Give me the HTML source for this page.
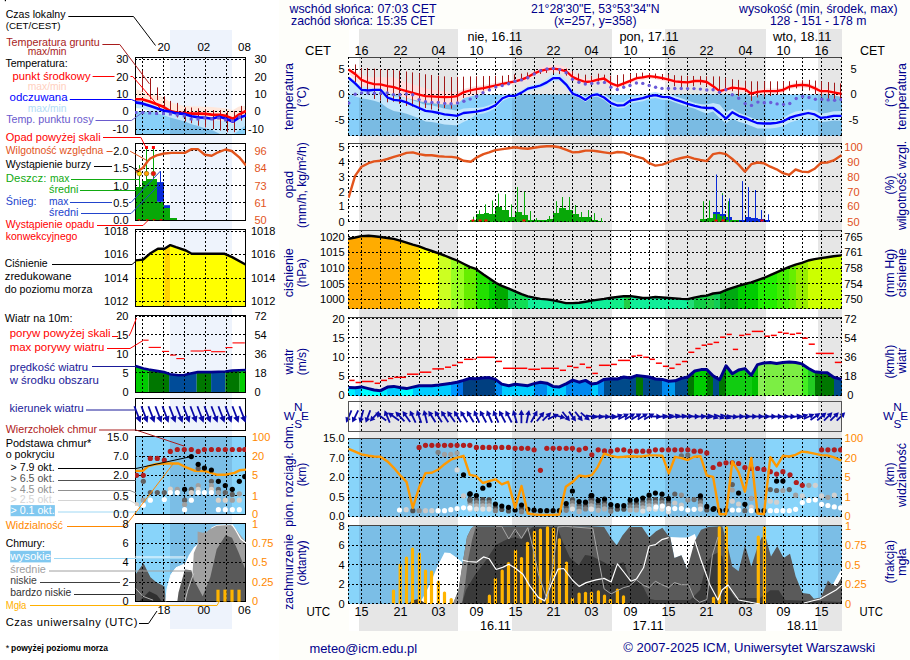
<!DOCTYPE html>
<html><head><meta charset="utf-8"><style>
html,body{margin:0;padding:0;background:#fefefa;}
svg{display:block;}
text{font-family:"Liberation Sans", sans-serif;}
</style></head><body>
<svg width="910" height="660" viewBox="0 0 910 660" shape-rendering="auto">
<rect x="0" y="0" width="279" height="660" fill="#ffffff"/>
<rect x="4.8" y="0" width="1.2" height="1.2" fill="#000"/>
<rect x="349" y="29" width="493" height="602" fill="#ffffff"/>
<rect x="359" y="29" width="99" height="602" fill="#e6e6e6"/>
<rect x="512" y="29" width="100" height="602" fill="#e6e6e6"/>
<rect x="665" y="29" width="101" height="602" fill="#e6e6e6"/>
<rect x="818" y="29" width="24" height="602" fill="#e6e6e6"/>
<rect x="170" y="30" width="62" height="599" fill="#eef3fc"/>
<rect x="348" y="57" width="494" height="79" fill="#ffffff"/>
<rect x="359" y="57" width="99" height="79" fill="#e6e6e6"/>
<rect x="512" y="57" width="100" height="79" fill="#e6e6e6"/>
<rect x="665" y="57" width="101" height="79" fill="#e6e6e6"/>
<rect x="818" y="57" width="24" height="79" fill="#e6e6e6"/>
<rect x="348" y="143" width="494" height="79" fill="#ffffff"/>
<rect x="359" y="143" width="99" height="79" fill="#e6e6e6"/>
<rect x="512" y="143" width="100" height="79" fill="#e6e6e6"/>
<rect x="665" y="143" width="101" height="79" fill="#e6e6e6"/>
<rect x="818" y="143" width="24" height="79" fill="#e6e6e6"/>
<rect x="348" y="230" width="494" height="79" fill="#ffffff"/>
<rect x="359" y="230" width="99" height="79" fill="#e6e6e6"/>
<rect x="512" y="230" width="100" height="79" fill="#e6e6e6"/>
<rect x="665" y="230" width="101" height="79" fill="#e6e6e6"/>
<rect x="818" y="230" width="24" height="79" fill="#e6e6e6"/>
<rect x="348" y="317" width="494" height="79" fill="#ffffff"/>
<rect x="359" y="317" width="99" height="79" fill="#e6e6e6"/>
<rect x="512" y="317" width="100" height="79" fill="#e6e6e6"/>
<rect x="665" y="317" width="101" height="79" fill="#e6e6e6"/>
<rect x="818" y="317" width="24" height="79" fill="#e6e6e6"/>
<rect x="348" y="401" width="494" height="31" fill="#ffffff"/>
<rect x="359" y="401" width="99" height="31" fill="#e6e6e6"/>
<rect x="512" y="401" width="100" height="31" fill="#e6e6e6"/>
<rect x="665" y="401" width="101" height="31" fill="#e6e6e6"/>
<rect x="818" y="401" width="24" height="31" fill="#e6e6e6"/>
<rect x="348" y="438" width="494" height="79" fill="#ffffff"/>
<rect x="359" y="438" width="99" height="79" fill="#e6e6e6"/>
<rect x="512" y="438" width="100" height="79" fill="#e6e6e6"/>
<rect x="665" y="438" width="101" height="79" fill="#e6e6e6"/>
<rect x="818" y="438" width="24" height="79" fill="#e6e6e6"/>
<rect x="348" y="525" width="494" height="79" fill="#ffffff"/>
<rect x="359" y="525" width="99" height="79" fill="#e6e6e6"/>
<rect x="512" y="525" width="100" height="79" fill="#e6e6e6"/>
<rect x="665" y="525" width="101" height="79" fill="#e6e6e6"/>
<rect x="818" y="525" width="24" height="79" fill="#e6e6e6"/>
<rect x="135" y="57" width="111" height="78" fill="#ffffff"/>
<rect x="170" y="57" width="62" height="78" fill="#eef3fc"/>
<rect x="135" y="143" width="111" height="78" fill="#ffffff"/>
<rect x="170" y="143" width="62" height="78" fill="#eef3fc"/>
<rect x="135" y="229" width="111" height="78" fill="#ffffff"/>
<rect x="170" y="229" width="62" height="78" fill="#eef3fc"/>
<rect x="135" y="315" width="111" height="78" fill="#ffffff"/>
<rect x="170" y="315" width="62" height="78" fill="#eef3fc"/>
<rect x="135" y="398" width="111" height="33" fill="#ffffff"/>
<rect x="170" y="398" width="62" height="33" fill="#eef3fc"/>
<rect x="135" y="436" width="111" height="79" fill="#ffffff"/>
<rect x="170" y="436" width="62" height="79" fill="#eef3fc"/>
<rect x="135" y="523" width="111" height="79" fill="#ffffff"/>
<rect x="170" y="523" width="62" height="79" fill="#eef3fc"/>
<clipPath id="cT"><rect x="348" y="58" width="494" height="78"/></clipPath>
<g clip-path="url(#cT)">
<rect x="348" y="94.5" width="494" height="41.5" fill="#87cffa"/>
<rect x="359" y="94.5" width="99" height="41.5" fill="#7abbe3"/>
<rect x="512" y="94.5" width="100" height="41.5" fill="#7abbe3"/>
<rect x="665" y="94.5" width="101" height="41.5" fill="#7abbe3"/>
<rect x="818" y="94.5" width="24" height="41.5" fill="#7abbe3"/>
<polygon points="348.6,75.7 355.1,80.6 361.5,87.0 368.5,87.5 374.1,87.2 380.5,87.6 387.5,94.0 393.8,96.2 400.9,96.8 406.5,98.0 412.8,100.2 419.1,102.4 425.5,104.9 431.8,105.2 438.8,107.0 444.5,108.7 451.5,109.8 457.1,110.8 463.5,108.5 469.8,108.1 476.4,108.1 483.5,107.0 489.1,105.3 495.4,102.6 502.5,96.1 508.8,93.5 515.1,93.3 521.5,90.0 527.8,85.9 534.1,84.5 540.4,82.7 546.8,78.7 553.1,73.6 559.4,73.5 566.5,79.9 572.8,89.8 579.1,92.8 585.5,97.2 591.8,93.3 597.0,91.8 604.1,94.5 611.1,99.6 617.4,102.2 623.8,102.0 630.8,97.3 636.4,96.2 642.8,95.1 649.1,92.9 655.4,91.9 662.4,93.5 668.8,93.7 675.1,96.2 681.4,98.2 687.8,100.6 694.8,103.1 701.1,104.3 706.8,104.5 713.1,103.1 719.6,104.5 726.0,112.3 732.3,108.8 738.6,112.7 744.9,115.1 751.3,117.7 757.6,120.0 763.9,120.5 770.3,120.8 776.6,120.3 782.9,118.3 789.3,114.3 795.6,111.6 801.9,110.5 808.2,109.5 814.6,110.5 820.9,113.7 827.2,112.8 833.6,111.2 841.5,110.9 841.5,120.7 833.6,120.4 827.2,121.6 820.9,122.1 814.6,118.9 808.2,117.9 801.9,119.3 795.6,120.7 789.3,122.8 782.9,126.3 776.6,127.7 770.3,128.5 763.9,128.6 757.6,128.4 751.3,126.1 744.9,123.5 738.6,121.8 732.3,118.6 726.0,123.5 719.6,117.9 713.1,111.6 706.8,113.7 701.1,111.6 694.8,108.8 687.8,106.8 681.4,104.7 675.1,102.6 668.8,100.1 662.4,99.8 655.4,98.1 649.1,99.1 642.8,101.2 636.4,102.3 630.8,103.3 623.8,108.1 617.4,108.2 611.1,105.7 604.1,99.9 597.0,96.5 591.8,97.5 585.5,101.9 579.1,97.9 572.8,95.4 566.5,87.6 559.4,81.2 553.1,81.3 546.8,85.5 540.4,88.5 534.1,89.9 527.8,91.0 521.5,94.6 515.1,97.5 508.8,98.0 502.5,101.0 495.4,108.3 489.1,111.6 483.5,113.4 476.4,114.6 469.8,119.3 463.5,122.1 457.1,125.6 451.5,125.1 444.5,124.5 438.8,123.3 431.8,122.1 425.5,121.4 419.1,118.6 412.8,116.1 406.5,113.7 400.9,112.3 393.8,110.9 387.5,108.0 380.5,102.8 374.1,100.7 368.5,99.5 361.5,98.2 355.1,96.4 348.6,92.8" fill="#c4e6fb"/>
<polygon points="348.6,68.4 355.1,71.5 361.5,74.9 368.5,76.9 374.1,77.6 380.5,77.1 387.5,77.5 393.8,77.2 400.9,80.1 406.5,82.2 412.8,84.2 419.1,86.2 425.5,88.6 431.8,89.8 438.8,90.8 444.5,91.5 451.5,91.8 457.1,91.9 463.5,89.1 469.8,87.4 474.0,86.6 476.4,86.1 483.5,85.2 489.1,84.1 495.4,82.9 502.5,81.5 508.8,80.4 515.1,79.2 521.5,77.3 527.8,74.6 534.1,71.0 540.4,68.0 546.8,66.1 553.1,64.9 559.4,65.1 566.5,67.3 572.8,72.9 579.1,76.3 585.5,78.9 591.8,78.8 597.7,77.4 604.1,76.6 611.1,81.9 617.4,84.3 623.8,81.9 630.8,79.1 636.4,76.7 642.8,75.9 649.1,74.6 655.4,75.3 662.4,76.7 668.8,78.1 675.1,79.8 681.4,80.5 687.8,80.9 694.8,79.5 701.1,79.5 706.8,80.5 713.1,84.7 719.6,88.9 726.0,86.5 732.3,84.6 738.6,85.4 744.9,86.1 751.3,90.7 757.6,89.0 763.9,88.4 770.3,88.5 776.6,88.5 782.9,87.4 789.3,84.2 795.6,83.0 801.9,82.3 808.2,83.0 814.6,85.6 820.9,88.7 827.2,88.7 833.6,89.8 841.5,91.4 841.5,96.9 833.6,95.2 827.2,94.1 820.9,94.0 814.6,90.8 808.2,88.2 801.9,87.4 795.6,88.1 789.3,89.2 782.9,92.6 776.6,93.9 770.3,94.0 763.9,94.1 757.6,94.9 751.3,96.8 744.9,92.2 738.6,91.4 732.3,90.6 726.0,92.5 719.6,94.0 713.1,88.7 706.8,84.5 701.1,83.5 694.8,83.5 687.8,84.9 681.4,84.5 675.1,83.8 668.8,82.1 662.4,80.7 655.4,79.3 649.1,78.6 642.8,79.9 636.4,80.7 630.8,83.1 623.8,85.9 617.4,88.3 611.1,85.9 604.1,80.9 597.7,81.9 591.8,83.5 585.5,84.4 579.1,82.5 572.8,79.9 566.5,74.3 559.4,72.2 553.1,71.5 546.8,72.2 540.4,73.6 534.1,76.2 527.8,79.6 521.5,81.9 515.1,83.4 508.8,85.0 502.5,86.4 495.4,88.2 489.1,89.8 483.5,92.1 476.4,94.6 474.0,95.6 469.8,96.5 463.5,98.3 457.1,104.5 451.5,104.5 444.5,104.4 438.8,103.9 431.8,103.1 425.5,102.6 419.1,101.0 412.8,99.6 406.5,98.2 400.9,96.5 393.8,94.2 387.5,91.8 380.5,88.4 374.1,88.4 368.5,87.3 361.5,84.9 355.1,80.0 348.6,73.4" fill="#ffdede"/>
</g>
<clipPath id="cP"><rect x="348" y="144" width="494" height="78"/></clipPath>
<g clip-path="url(#cP)">
<rect x="713" y="212" width="7" height="10" fill="#0a2ad8"/>
<rect x="720" y="214" width="6" height="8" fill="#0a2ad8"/>
<rect x="726" y="217" width="6" height="5" fill="#0a2ad8"/>
<rect x="732" y="220" width="7" height="2" fill="#0a2ad8"/>
<rect x="739" y="220" width="6" height="2" fill="#0a2ad8"/>
<rect x="745" y="217" width="6" height="5" fill="#0a2ad8"/>
<rect x="751" y="218" width="7" height="4" fill="#0a2ad8"/>
<rect x="758" y="219" width="6" height="3" fill="#0a2ad8"/>
<rect x="764" y="220" width="6" height="2" fill="#0a2ad8"/>
<rect x="470" y="220" width="6" height="2" fill="#08a808"/>
<rect x="476" y="214" width="8" height="8" fill="#08a808"/>
<rect x="484" y="213" width="5" height="9" fill="#08a808"/>
<rect x="489" y="214" width="6" height="8" fill="#08a808"/>
<rect x="495" y="207" width="7" height="15" fill="#08a808"/>
<rect x="502" y="210" width="7" height="12" fill="#08a808"/>
<rect x="509" y="217" width="6" height="5" fill="#08a808"/>
<rect x="515" y="212" width="7" height="10" fill="#08a808"/>
<rect x="522" y="215" width="6" height="7" fill="#08a808"/>
<rect x="528" y="220" width="6" height="2" fill="#08a808"/>
<rect x="534" y="220" width="6" height="2" fill="#08a808"/>
<rect x="540" y="220" width="7" height="2" fill="#08a808"/>
<rect x="547" y="219" width="6" height="3" fill="#08a808"/>
<rect x="553" y="213" width="6" height="9" fill="#08a808"/>
<rect x="559" y="208" width="7" height="14" fill="#08a808"/>
<rect x="566" y="210" width="7" height="12" fill="#08a808"/>
<rect x="573" y="214" width="6" height="8" fill="#08a808"/>
<rect x="579" y="217" width="7" height="5" fill="#08a808"/>
<rect x="586" y="217" width="6" height="5" fill="#08a808"/>
<rect x="590" y="217" width="2" height="5" fill="#08a808"/>
<rect x="592" y="220" width="6" height="2" fill="#08a808"/>
<rect x="598" y="221" width="5" height="1" fill="#08a808"/>
<rect x="700" y="219" width="7" height="3" fill="#08a808"/>
<rect x="707" y="218" width="6" height="4" fill="#08a808"/>
<rect x="713" y="214" width="7" height="8" fill="#08a808"/>
<rect x="720" y="216" width="6" height="6" fill="#08a808"/>
<rect x="726" y="220" width="6" height="2" fill="#08a808"/>
<rect x="732" y="220" width="7" height="2" fill="#08a808"/>
</g>
<clipPath id="cR"><rect x="348" y="231" width="494" height="78"/></clipPath>
<g clip-path="url(#cR)">
<rect x="348" y="230" width="13" height="79" fill="#ffa800"/>
<rect x="361" y="230" width="19" height="79" fill="#ffac00"/>
<rect x="380" y="230" width="20" height="79" fill="#ffb000"/>
<rect x="400" y="230" width="19" height="79" fill="#ffcc00"/>
<rect x="419" y="230" width="19" height="79" fill="#ffff00"/>
<rect x="438" y="230" width="13" height="79" fill="#ccff22"/>
<rect x="451" y="230" width="13" height="79" fill="#99ff22"/>
<rect x="464" y="230" width="12" height="79" fill="#66ee00"/>
<rect x="476" y="230" width="13" height="79" fill="#22e000"/>
<rect x="489" y="230" width="7" height="79" fill="#00cc00"/>
<rect x="496" y="230" width="12" height="79" fill="#00aa00"/>
<rect x="508" y="230" width="7" height="79" fill="#11d855"/>
<rect x="515" y="230" width="13" height="79" fill="#11dd55"/>
<rect x="528" y="230" width="83" height="79" fill="#11ee99"/>
<rect x="611" y="230" width="13" height="79" fill="#11ee88"/>
<rect x="624" y="230" width="6" height="79" fill="#22cc44"/>
<rect x="630" y="230" width="58" height="79" fill="#11ee99"/>
<rect x="688" y="230" width="6" height="79" fill="#22dd77"/>
<rect x="694" y="230" width="13" height="79" fill="#11cc44"/>
<rect x="707" y="230" width="7" height="79" fill="#22cc44"/>
<rect x="714" y="230" width="6" height="79" fill="#11cc55"/>
<rect x="720" y="230" width="18" height="79" fill="#00aa11"/>
<rect x="738" y="230" width="20" height="79" fill="#00cc00"/>
<rect x="758" y="230" width="19" height="79" fill="#22ee00"/>
<rect x="777" y="230" width="12" height="79" fill="#44ee00"/>
<rect x="789" y="230" width="7" height="79" fill="#66ee00"/>
<rect x="796" y="230" width="12" height="79" fill="#99ee00"/>
<rect x="808" y="230" width="34" height="79" fill="#ccff00"/>
<clipPath id="cRa"><polygon points="347.0,230.0 347.0,238.7 348.6,238.7 355.1,237.5 361.5,236.1 368.5,235.8 374.1,236.3 380.5,237.0 387.5,238.0 393.8,238.9 400.9,240.8 406.5,242.6 412.8,244.6 419.1,246.4 425.5,248.8 431.8,251.0 438.8,253.4 444.5,255.5 451.5,258.4 457.1,260.5 463.5,263.7 469.8,266.8 475.7,268.9 483.5,274.5 489.8,278.8 496.1,283.0 501.8,285.8 508.8,288.6 515.1,291.4 521.5,294.2 527.8,296.3 534.1,297.7 540.4,298.9 546.8,299.4 553.1,300.3 559.4,301.7 565.8,303.1 572.8,303.1 579.1,302.7 585.5,301.7 591.8,300.6 597.0,299.9 604.1,298.9 611.1,297.7 617.4,297.0 623.8,296.3 630.8,296.1 636.4,297.0 642.8,298.0 649.1,297.7 655.4,297.0 662.4,297.5 668.8,298.0 675.1,298.4 681.4,298.9 687.8,299.1 694.1,297.7 700.4,296.3 706.8,295.6 713.1,293.5 719.6,292.8 726.0,290.0 732.3,287.9 738.6,285.8 744.9,284.0 751.3,282.3 757.6,280.2 763.9,278.0 770.3,275.2 776.6,272.4 782.9,269.6 789.3,266.8 795.6,264.7 801.9,262.9 808.2,260.5 814.6,259.1 820.9,258.1 827.2,257.2 833.6,256.2 841.5,255.4 843.0,255.4 843.0,230.0"/></clipPath>
<g clip-path="url(#cRa)">
<rect x="348" y="230" width="494" height="79" fill="#ffffff"/>
<rect x="359" y="230" width="99" height="79" fill="#e6e6e6"/>
<rect x="512" y="230" width="100" height="79" fill="#e6e6e6"/>
<rect x="665" y="230" width="101" height="79" fill="#e6e6e6"/>
<rect x="818" y="230" width="24" height="79" fill="#e6e6e6"/>
</g>
</g>
<clipPath id="cW"><rect x="348" y="318" width="494" height="78"/></clipPath>
<g clip-path="url(#cW)">
<rect x="348" y="317" width="7" height="79" fill="#00eeff"/>
<rect x="355" y="317" width="6" height="79" fill="#00ccff"/>
<rect x="361" y="317" width="20" height="79" fill="#00ffff"/>
<rect x="381" y="317" width="6" height="79" fill="#00eeff"/>
<rect x="387" y="317" width="13" height="79" fill="#00ccff"/>
<rect x="400" y="317" width="13" height="79" fill="#00ffff"/>
<rect x="413" y="317" width="38" height="79" fill="#00ccff"/>
<rect x="451" y="317" width="6" height="79" fill="#0099ff"/>
<rect x="457" y="317" width="6" height="79" fill="#0070e8"/>
<rect x="463" y="317" width="32" height="79" fill="#003f80"/>
<rect x="495" y="317" width="7" height="79" fill="#0088ee"/>
<rect x="502" y="317" width="32" height="79" fill="#00ccff"/>
<rect x="534" y="317" width="13" height="79" fill="#0088ee"/>
<rect x="547" y="317" width="19" height="79" fill="#00ccff"/>
<rect x="566" y="317" width="26" height="79" fill="#0088ee"/>
<rect x="592" y="317" width="6" height="79" fill="#00ccff"/>
<rect x="598" y="317" width="6" height="79" fill="#0088ee"/>
<rect x="604" y="317" width="32" height="79" fill="#004a8a"/>
<rect x="636" y="317" width="7" height="79" fill="#007700"/>
<rect x="643" y="317" width="19" height="79" fill="#004a8a"/>
<rect x="662" y="317" width="7" height="79" fill="#0088ee"/>
<rect x="669" y="317" width="6" height="79" fill="#0099ee"/>
<rect x="675" y="317" width="13" height="79" fill="#004a8a"/>
<rect x="688" y="317" width="6" height="79" fill="#007700"/>
<rect x="694" y="317" width="13" height="79" fill="#00cc00"/>
<rect x="707" y="317" width="6" height="79" fill="#007700"/>
<rect x="713" y="317" width="6" height="79" fill="#004a8a"/>
<rect x="719" y="317" width="7" height="79" fill="#007700"/>
<rect x="726" y="317" width="26" height="79" fill="#11cc11"/>
<rect x="752" y="317" width="6" height="79" fill="#00c000"/>
<rect x="758" y="317" width="7" height="79" fill="#88ee55"/>
<rect x="765" y="317" width="37" height="79" fill="#7cee44"/>
<rect x="802" y="317" width="6" height="79" fill="#44ee22"/>
<rect x="808" y="317" width="7" height="79" fill="#22cc22"/>
<rect x="815" y="317" width="19" height="79" fill="#007700"/>
<rect x="834" y="317" width="8" height="79" fill="#004a8a"/>
<clipPath id="cWa"><polygon points="347.0,317.0 347.0,387.4 348.6,387.4 355.1,387.8 361.5,386.9 368.5,388.6 374.1,390.0 380.5,390.7 387.5,387.1 393.8,386.4 400.9,387.8 406.5,388.6 412.8,387.1 419.1,385.7 425.5,385.7 431.8,385.7 438.8,385.0 444.5,384.3 451.5,383.3 457.1,382.2 463.5,380.4 469.8,378.4 475.7,378.7 482.1,378.0 489.1,377.6 495.4,379.4 501.8,384.1 508.8,385.7 515.1,384.3 521.5,385.0 527.8,385.7 534.1,383.6 540.4,382.2 546.8,383.2 553.1,386.4 559.4,386.9 566.5,383.6 572.8,380.1 579.1,382.2 585.5,380.4 591.8,384.1 597.0,383.2 604.1,379.4 611.1,378.7 617.4,379.0 623.8,377.0 630.1,378.0 636.4,375.6 642.8,376.2 649.1,377.0 655.4,379.0 662.4,379.4 668.8,381.2 675.1,380.8 681.4,378.4 687.8,377.0 694.8,371.0 701.1,369.6 706.8,369.6 713.1,375.9 719.6,379.8 726.0,365.8 732.3,373.8 738.6,370.0 744.9,368.6 751.3,375.2 757.6,364.6 763.9,363.0 770.3,362.5 776.6,363.5 782.9,362.5 789.3,362.1 795.6,362.5 801.9,363.9 808.2,368.2 814.6,371.7 820.9,372.4 827.2,372.8 833.6,377.3 841.5,379.4 843.0,379.4 843.0,317.0"/></clipPath>
<g clip-path="url(#cWa)">
<rect x="348" y="317" width="494" height="79" fill="#ffffff"/>
<rect x="359" y="317" width="99" height="79" fill="#e6e6e6"/>
<rect x="512" y="317" width="100" height="79" fill="#e6e6e6"/>
<rect x="665" y="317" width="101" height="79" fill="#e6e6e6"/>
<rect x="818" y="317" width="24" height="79" fill="#e6e6e6"/>
</g>
</g>
<clipPath id="cC"><rect x="348" y="439" width="494" height="78"/></clipPath>
<rect x="348" y="438" width="494" height="79" fill="#88d4fa"/>
<rect x="359" y="438" width="99" height="79" fill="#7bbee6"/>
<rect x="512" y="438" width="100" height="79" fill="#7bbee6"/>
<rect x="665" y="438" width="101" height="79" fill="#7bbee6"/>
<rect x="818" y="438" width="24" height="79" fill="#7bbee6"/>
<clipPath id="cK"><rect x="348" y="526" width="494" height="78"/></clipPath>
<rect x="348" y="525" width="494" height="79" fill="#88d4fa"/>
<rect x="359" y="525" width="99" height="79" fill="#7bbee6"/>
<rect x="512" y="525" width="100" height="79" fill="#7bbee6"/>
<rect x="665" y="525" width="101" height="79" fill="#7bbee6"/>
<rect x="818" y="525" width="24" height="79" fill="#7bbee6"/>
<g clip-path="url(#cK)">
<polygon points="419.1,604.0 424.8,594.6 430.4,583.3 437.4,566.4 444.5,552.4 450.1,553.1 457.1,558.0 462.0,562.0 462.0,604.0" fill="#ffffff"/>
<polygon points="670.2,536.9 680.0,537.6 688.0,537.6 694.8,534.0 697.0,540.0 694.8,560.0 687.1,569.2 681.4,555.2 674.4,558.0" fill="#ffffff"/>
<polygon points="832.0,586.0 838.0,575.0 842.0,568.0 842.0,590.0" fill="#ffffff"/>
<polygon points="452.9,604.0 458.5,590.3 462.8,562.2 467.0,536.9 471.2,528.4 474.0,526.3 590.0,526.3 604.1,527.0 611.1,538.3 616.7,545.3 622.4,535.5 629.4,527.0 642.0,527.0 649.1,537.6 656.1,531.3 662.4,527.7 668.1,535.5 670.2,536.9 674.4,558.0 681.4,555.2 687.1,569.2 694.8,541.1 701.1,529.8 708.2,527.0 722.4,526.3 728.1,548.1 732.3,566.4 738.6,571.3 745.0,545.3 751.3,566.4 757.6,546.7 761.8,536.9 766.0,538.3 771.0,556.6 777.3,546.0 783.6,558.0 790.0,553.8 795.6,576.3 802.6,593.1 809.7,593.9 813.9,598.8 820.9,597.4 827.9,580.5 832.2,584.7 836.4,586.1 840.6,579.1 843.0,576.0 843.0,605.0 452.0,605.0" fill="#5a5a5a"/>
<polygon points="452.9,604.0 458.5,590.3 462.8,562.2 467.0,536.9 471.2,528.4 474.0,526.3 476.0,526.3 472.0,540.0 468.0,560.0 465.0,585.0 462.0,604.0" fill="#8c8c8c"/>
<polygon points="462.0,604.0 466.0,590.0 474.6,575.4 486.2,560.0 496.0,545.0 503.6,541.1 508.7,538.5 515.1,537.3 521.4,539.2 526.5,532.2 532.9,527.1 557.1,527.1 563.4,543.6 569.8,557.6 578.7,565.3 585.1,555.1 591.8,556.0 598.4,559.4 604.1,562.2 611.1,566.4 618.1,563.6 623.8,562.2 630.8,581.9 636.4,579.1 643.5,587.5 649.1,598.8 655.0,600.0 690.0,600.0 700.0,590.0 706.8,562.2 712.4,555.2 718.0,552.4 722.4,556.6 728.1,587.5 735.0,598.0 760.0,598.0 770.3,590.3 778.7,590.3 785.0,600.0 843.0,602.0 843.0,605.0 459.0,605.0" fill="#3a3a3a"/>
<polygon points="408.0,604.0 412.0,600.5 418.0,599.0 422.0,601.0 426.0,604.0" fill="#3a3a3a"/>
</g>
<clipPath id="mT"><rect x="135" y="58" width="111" height="77"/></clipPath>
<g clip-path="url(#mT)">
<rect x="135" y="57" width="111" height="78" fill="#88d0f8"/>
<rect x="170" y="57" width="62" height="78" fill="#7bbce6"/>
<rect x="135" y="57" width="111" height="54.5" fill="#ffffff"/>
<rect x="170" y="57" width="62" height="54.5" fill="#eef3fc"/>
<polygon points="135.0,98.0 142.0,99.0 150.0,102.0 163.0,106.0 170.0,108.5 184.0,110.5 199.0,112.0 212.0,114.0 226.0,115.0 233.0,117.0 239.0,113.0 246.0,112.0 246.0,125.0 233.0,135.0 220.0,134.0 212.0,130.0 204.0,128.0 199.0,126.2 191.6,124.3 184.0,121.2 170.0,117.4 163.0,115.0 150.0,111.0 142.0,108.6 135.0,108.0" fill="#c4e6fb"/>
<polygon points="135.0,89.0 142.0,91.0 150.0,94.0 163.0,97.0 170.0,102.0 176.0,104.0 184.0,106.0 199.0,106.5 212.0,107.0 226.0,108.5 233.0,110.0 239.0,106.5 246.0,106.0 246.0,116.0 239.0,119.0 233.0,124.0 226.0,121.0 212.0,120.0 199.0,117.0 184.0,115.0 170.0,112.0 163.0,109.0 150.0,104.0 142.0,101.0 135.0,100.0" fill="#ffe8dc"/>
</g>
<clipPath id="mP"><rect x="135" y="144" width="111" height="77"/></clipPath>
<g clip-path="url(#mP)">
<rect x="136" y="187" width="6" height="34" fill="#08a808"/>
<rect x="142" y="181" width="5" height="40" fill="#08a808"/>
<rect x="147" y="179" width="10" height="42" fill="#08a808"/>
<rect x="157" y="202" width="7" height="19" fill="#08a808"/>
<rect x="164" y="208" width="6" height="13" fill="#08a808"/>
<rect x="170" y="218" width="7" height="3" fill="#08a808"/>
<rect x="157" y="182.1" width="7" height="19.700000000000017" fill="#0a2ad8"/>
<rect x="164" y="205.2" width="6" height="2.8" fill="#0a2ad8"/>
</g>
<clipPath id="mR"><rect x="135" y="230" width="111" height="77"/></clipPath>
<g clip-path="url(#mR)">
<polygon points="135.0,307.0 135.7,260.4 143.1,259.6 149.7,253.8 157.9,248.8 164.5,248.8 170.3,245.1 176.0,247.2 185.9,250.5 191.7,253.8 204.9,253.8 224.7,253.8 232.1,257.1 246.0,264.8 246.0,307.0" fill="#ffff00"/>
<clipPath id="mRa"><polygon points="135.0,307.0 135.7,260.4 143.1,259.6 149.7,253.8 157.9,248.8 164.5,248.8 170.3,245.1 176.0,247.2 185.9,250.5 191.7,253.8 204.9,253.8 224.7,253.8 232.1,257.1 246.0,264.8 246.0,307.0"/></clipPath>
<g clip-path="url(#mRa)">
<rect x="164.5" y="229" width="5.5" height="80" fill="#ffd200"/>
</g>
</g>
<clipPath id="mW"><rect x="135" y="316" width="111" height="77"/></clipPath>
<g clip-path="url(#mW)">
<rect x="135" y="315" width="13.599999999999994" height="80" fill="#00cc00"/>
<rect x="148.6" y="315" width="20.5" height="80" fill="#007700"/>
<rect x="169.1" y="315" width="27.599999999999994" height="80" fill="#004c99"/>
<rect x="196.7" y="315" width="14.400000000000006" height="80" fill="#007700"/>
<rect x="211.1" y="315" width="14.300000000000011" height="80" fill="#004c99"/>
<rect x="225.4" y="315" width="14.299999999999983" height="80" fill="#007700"/>
<rect x="239.7" y="315" width="6.300000000000011" height="80" fill="#00cc00"/>
<polygon points="134.0,314.0 134.0,366.0 135.5,366.0 143.5,368.4 148.6,369.5 164.0,372.1 170.1,374.2 178.3,375.2 184.5,375.0 190.6,373.5 197.8,372.1 211.1,372.1 225.4,371.5 232.5,370.5 246.0,370.0 247.0,370.0 247.0,314.0" fill="#ffffff"/>
<clipPath id="mWa"><polygon points="134.0,314.0 134.0,366.0 135.5,366.0 143.5,368.4 148.6,369.5 164.0,372.1 170.1,374.2 178.3,375.2 184.5,375.0 190.6,373.5 197.8,372.1 211.1,372.1 225.4,371.5 232.5,370.5 246.0,370.0 247.0,370.0 247.0,314.0"/></clipPath>
<g clip-path="url(#mWa)">
<rect x="170" y="314" width="62" height="70" fill="#eef3fc"/>
</g>
</g>
<clipPath id="mC"><rect x="135" y="437" width="111" height="78"/></clipPath>
<g clip-path="url(#mC)">
<rect x="135" y="436" width="111" height="79" fill="#88d4fa"/>
<rect x="170" y="436" width="62" height="79" fill="#7bbee6"/>
</g>
<clipPath id="mK"><rect x="135" y="524" width="111" height="78"/></clipPath>
<g clip-path="url(#mK)">
<rect x="135" y="523" width="111" height="79" fill="#88d4fa"/>
<rect x="170" y="523" width="62" height="79" fill="#7bbee6"/>
<polygon points="165.8,601.4 167.1,588.7 170.9,574.7 176.0,567.7 184.9,563.9 188.7,555.6 193.8,547.4 197.6,544.2 203.3,543.5 207.2,534.0 211.6,527.6 216.7,525.1 223.1,524.5 232.0,524.5 235.8,530.2 240.9,539.1 246.0,542.9 246.0,601.4" fill="#ffffff"/>
<polygon points="192.5,601.4 192.5,573.4 193.8,553.1 197.6,544.2 197.6,531.5 202.7,532.7 206.5,532.1 210.3,528.9 216.7,525.7 230.7,525.1 234.5,527.6 239.6,534.0 244.7,540.4 246.0,541.6 246.0,601.4" fill="#a0a0a0"/>
<polygon points="135.3,601.4 135.3,574.7 143.5,563.3 150.5,577.3 156.3,582.3 164.5,586.2 165.8,601.4" fill="#5a5a5a"/>
<polygon points="177.3,601.4 178.5,592.5 184.9,569.6 191.3,570.3 193.8,579.8 202.7,596.3 210.3,577.3 216.7,549.3 225.6,535.3 232.0,537.8 238.3,551.8 243.4,564.5 246.0,570.9 246.0,601.4" fill="#5a5a5a"/>
<polygon points="139.1,601.4 149.3,591.2 156.9,595.1 162.0,601.4" fill="#303030"/>
</g>
<g clip-path="url(#cK)">
<rect x="391.9" y="589.6" width="3.2" height="15.4" rx="1.5" fill="#ffb400"/>
<rect x="398.6" y="563.6" width="3.2" height="41.4" rx="1.5" fill="#ffb400"/>
<rect x="404.9" y="556.6" width="3.2" height="48.4" rx="1.5" fill="#ffb400"/>
<rect x="410.9" y="547.4" width="3.2" height="57.6" rx="1.5" fill="#ffb400"/>
<rect x="417.8" y="552.6" width="3.2" height="52.4" rx="1.5" fill="#ffb400"/>
<rect x="423.9" y="569.5" width="3.2" height="35.5" rx="1.5" fill="#ffb400"/>
<rect x="429.9" y="570.4" width="3.2" height="34.6" rx="1.5" fill="#ffb400"/>
<rect x="436.8" y="580.5" width="3.2" height="24.5" rx="1.5" fill="#ffb400"/>
<rect x="442.9" y="591.5" width="3.2" height="13.5" rx="1.5" fill="#ffb400"/>
<rect x="449.6" y="598.1" width="3.2" height="6.9" rx="1.5" fill="#ffb400"/>
<rect x="487.8" y="594.6" width="3.2" height="10.4" rx="1.5" fill="#ffb400"/>
<rect x="493.8" y="577.7" width="3.2" height="27.3" rx="1.5" fill="#ffb400"/>
<rect x="500.6" y="569.5" width="3.2" height="35.5" rx="1.5" fill="#ffb400"/>
<rect x="506.9" y="561.9" width="3.2" height="43.1" rx="1.5" fill="#ffb400"/>
<rect x="513.9" y="549.5" width="3.2" height="55.5" rx="1.5" fill="#ffb400"/>
<rect x="519.9" y="556.9" width="3.2" height="48.1" rx="1.5" fill="#ffb400"/>
<rect x="525.9" y="541.8" width="3.2" height="63.2" rx="1.5" fill="#ffb400"/>
<rect x="532.8" y="530.6" width="3.2" height="74.4" rx="1.5" fill="#ffb400"/>
<rect x="538.8" y="528.4" width="3.2" height="76.6" rx="1.5" fill="#ffb400"/>
<rect x="545.9" y="526.3" width="3.2" height="78.7" rx="1.5" fill="#ffb400"/>
<rect x="551.9" y="527.7" width="3.2" height="77.3" rx="1.5" fill="#ffb400"/>
<rect x="557.8" y="538.3" width="3.2" height="66.7" rx="1.5" fill="#ffb400"/>
<rect x="564.9" y="561.5" width="3.2" height="43.5" rx="1.5" fill="#ffb400"/>
<rect x="570.8" y="597.4" width="3.2" height="7.6" rx="1.5" fill="#ffb400"/>
<rect x="577.5" y="592.4" width="3.2" height="12.6" rx="1.5" fill="#ffb400"/>
<rect x="583.9" y="591.7" width="3.2" height="13.3" rx="1.5" fill="#ffb400"/>
<rect x="589.9" y="591.7" width="3.2" height="13.3" rx="1.5" fill="#ffb400"/>
<rect x="596.8" y="590.3" width="3.2" height="14.7" rx="1.5" fill="#ffb400"/>
<rect x="602.9" y="594.6" width="3.2" height="10.4" rx="1.5" fill="#ffb400"/>
<rect x="608.8" y="598.8" width="3.2" height="6.2" rx="1.5" fill="#ffb400"/>
<rect x="615.8" y="588.6" width="3.2" height="16.4" rx="1.5" fill="#ffb400"/>
<rect x="621.9" y="595.3" width="3.2" height="9.7" rx="1.5" fill="#ffb400"/>
<rect x="711.9" y="596.7" width="3.2" height="8.3" rx="1.5" fill="#ffb400"/>
<rect x="717.7" y="526.3" width="3.2" height="78.7" rx="1.5" fill="#ffb400"/>
<rect x="724.8" y="526.3" width="3.2" height="78.7" rx="1.5" fill="#ffb400"/>
<rect x="756.7" y="535.5" width="3.2" height="69.5" rx="1.5" fill="#ffb400"/>
<rect x="762.8" y="526.3" width="3.2" height="78.7" rx="1.5" fill="#ffb400"/>
</g>
<line x1="348" y1="69.5" x2="842" y2="69.5" stroke="#000" stroke-width="1" stroke-dasharray="2,2"/>
<line x1="348" y1="94.5" x2="842" y2="94.5" stroke="#000" stroke-width="1" stroke-dasharray="2,2"/>
<line x1="348" y1="119.5" x2="842" y2="119.5" stroke="#000" stroke-width="1" stroke-dasharray="2,2"/>
<line x1="348" y1="135.5" x2="842" y2="135.5" stroke="#000" stroke-width="1" stroke-dasharray="2,2"/>
<line x1="361.5" y1="57" x2="361.5" y2="136" stroke="#000" stroke-width="1" stroke-dasharray="2,2"/>
<line x1="380.5" y1="57" x2="380.5" y2="136" stroke="#000" stroke-width="1" stroke-dasharray="2,2"/>
<line x1="400.5" y1="57" x2="400.5" y2="136" stroke="#000" stroke-width="1" stroke-dasharray="2,2"/>
<line x1="419.5" y1="57" x2="419.5" y2="136" stroke="#000" stroke-width="1" stroke-dasharray="2,2"/>
<line x1="438.5" y1="57" x2="438.5" y2="136" stroke="#000" stroke-width="1" stroke-dasharray="2,2"/>
<line x1="457.5" y1="57" x2="457.5" y2="136" stroke="#000" stroke-width="1" stroke-dasharray="2,2"/>
<line x1="476.5" y1="57" x2="476.5" y2="136" stroke="#000" stroke-width="1" stroke-dasharray="2,2"/>
<line x1="495.5" y1="57" x2="495.5" y2="136" stroke="#000" stroke-width="1" stroke-dasharray="2,2"/>
<line x1="515.5" y1="57" x2="515.5" y2="136" stroke="#000" stroke-width="1" stroke-dasharray="2,2"/>
<line x1="534.5" y1="57" x2="534.5" y2="136" stroke="#000" stroke-width="1" stroke-dasharray="2,2"/>
<line x1="553.5" y1="57" x2="553.5" y2="136" stroke="#000" stroke-width="1" stroke-dasharray="2,2"/>
<line x1="572.5" y1="57" x2="572.5" y2="136" stroke="#000" stroke-width="1" stroke-dasharray="2,2"/>
<line x1="591.5" y1="57" x2="591.5" y2="136" stroke="#000" stroke-width="1" stroke-dasharray="2,2"/>
<line x1="610.5" y1="57" x2="610.5" y2="136" stroke="#000" stroke-width="1" stroke-dasharray="2,2"/>
<line x1="630.5" y1="57" x2="630.5" y2="136" stroke="#000" stroke-width="1" stroke-dasharray="2,2"/>
<line x1="649.5" y1="57" x2="649.5" y2="136" stroke="#000" stroke-width="1" stroke-dasharray="2,2"/>
<line x1="668.5" y1="57" x2="668.5" y2="136" stroke="#000" stroke-width="1" stroke-dasharray="2,2"/>
<line x1="687.5" y1="57" x2="687.5" y2="136" stroke="#000" stroke-width="1" stroke-dasharray="2,2"/>
<line x1="706.5" y1="57" x2="706.5" y2="136" stroke="#000" stroke-width="1" stroke-dasharray="2,2"/>
<line x1="725.5" y1="57" x2="725.5" y2="136" stroke="#000" stroke-width="1" stroke-dasharray="2,2"/>
<line x1="745.5" y1="57" x2="745.5" y2="136" stroke="#000" stroke-width="1" stroke-dasharray="2,2"/>
<line x1="764.5" y1="57" x2="764.5" y2="136" stroke="#000" stroke-width="1" stroke-dasharray="2,2"/>
<line x1="783.5" y1="57" x2="783.5" y2="136" stroke="#000" stroke-width="1" stroke-dasharray="2,2"/>
<line x1="802.5" y1="57" x2="802.5" y2="136" stroke="#000" stroke-width="1" stroke-dasharray="2,2"/>
<line x1="821.5" y1="57" x2="821.5" y2="136" stroke="#000" stroke-width="1" stroke-dasharray="2,2"/>
<line x1="348" y1="57.5" x2="842" y2="57.5" stroke="#444" stroke-width="1"/>
<line x1="348.5" y1="57" x2="348.5" y2="136" stroke="#000" stroke-width="1" stroke-dasharray="2,2"/>
<line x1="841.5" y1="57" x2="841.5" y2="136" stroke="#000" stroke-width="1" stroke-dasharray="2,2"/>
<line x1="348" y1="146.5" x2="842" y2="146.5" stroke="#000" stroke-width="1" stroke-dasharray="2,2"/>
<line x1="348" y1="161.5" x2="842" y2="161.5" stroke="#000" stroke-width="1" stroke-dasharray="2,2"/>
<line x1="348" y1="176.5" x2="842" y2="176.5" stroke="#000" stroke-width="1" stroke-dasharray="2,2"/>
<line x1="348" y1="191.5" x2="842" y2="191.5" stroke="#000" stroke-width="1" stroke-dasharray="2,2"/>
<line x1="348" y1="206.5" x2="842" y2="206.5" stroke="#000" stroke-width="1" stroke-dasharray="2,2"/>
<line x1="348" y1="221.5" x2="842" y2="221.5" stroke="#000" stroke-width="1" stroke-dasharray="2,2"/>
<line x1="361.5" y1="143" x2="361.5" y2="222" stroke="#000" stroke-width="1" stroke-dasharray="2,2"/>
<line x1="380.5" y1="143" x2="380.5" y2="222" stroke="#000" stroke-width="1" stroke-dasharray="2,2"/>
<line x1="400.5" y1="143" x2="400.5" y2="222" stroke="#000" stroke-width="1" stroke-dasharray="2,2"/>
<line x1="419.5" y1="143" x2="419.5" y2="222" stroke="#000" stroke-width="1" stroke-dasharray="2,2"/>
<line x1="438.5" y1="143" x2="438.5" y2="222" stroke="#000" stroke-width="1" stroke-dasharray="2,2"/>
<line x1="457.5" y1="143" x2="457.5" y2="222" stroke="#000" stroke-width="1" stroke-dasharray="2,2"/>
<line x1="476.5" y1="143" x2="476.5" y2="222" stroke="#000" stroke-width="1" stroke-dasharray="2,2"/>
<line x1="495.5" y1="143" x2="495.5" y2="222" stroke="#000" stroke-width="1" stroke-dasharray="2,2"/>
<line x1="515.5" y1="143" x2="515.5" y2="222" stroke="#000" stroke-width="1" stroke-dasharray="2,2"/>
<line x1="534.5" y1="143" x2="534.5" y2="222" stroke="#000" stroke-width="1" stroke-dasharray="2,2"/>
<line x1="553.5" y1="143" x2="553.5" y2="222" stroke="#000" stroke-width="1" stroke-dasharray="2,2"/>
<line x1="572.5" y1="143" x2="572.5" y2="222" stroke="#000" stroke-width="1" stroke-dasharray="2,2"/>
<line x1="591.5" y1="143" x2="591.5" y2="222" stroke="#000" stroke-width="1" stroke-dasharray="2,2"/>
<line x1="610.5" y1="143" x2="610.5" y2="222" stroke="#000" stroke-width="1" stroke-dasharray="2,2"/>
<line x1="630.5" y1="143" x2="630.5" y2="222" stroke="#000" stroke-width="1" stroke-dasharray="2,2"/>
<line x1="649.5" y1="143" x2="649.5" y2="222" stroke="#000" stroke-width="1" stroke-dasharray="2,2"/>
<line x1="668.5" y1="143" x2="668.5" y2="222" stroke="#000" stroke-width="1" stroke-dasharray="2,2"/>
<line x1="687.5" y1="143" x2="687.5" y2="222" stroke="#000" stroke-width="1" stroke-dasharray="2,2"/>
<line x1="706.5" y1="143" x2="706.5" y2="222" stroke="#000" stroke-width="1" stroke-dasharray="2,2"/>
<line x1="725.5" y1="143" x2="725.5" y2="222" stroke="#000" stroke-width="1" stroke-dasharray="2,2"/>
<line x1="745.5" y1="143" x2="745.5" y2="222" stroke="#000" stroke-width="1" stroke-dasharray="2,2"/>
<line x1="764.5" y1="143" x2="764.5" y2="222" stroke="#000" stroke-width="1" stroke-dasharray="2,2"/>
<line x1="783.5" y1="143" x2="783.5" y2="222" stroke="#000" stroke-width="1" stroke-dasharray="2,2"/>
<line x1="802.5" y1="143" x2="802.5" y2="222" stroke="#000" stroke-width="1" stroke-dasharray="2,2"/>
<line x1="821.5" y1="143" x2="821.5" y2="222" stroke="#000" stroke-width="1" stroke-dasharray="2,2"/>
<line x1="348" y1="143.5" x2="842" y2="143.5" stroke="#444" stroke-width="1"/>
<line x1="348.5" y1="143" x2="348.5" y2="222" stroke="#000" stroke-width="1" stroke-dasharray="2,2"/>
<line x1="841.5" y1="143" x2="841.5" y2="222" stroke="#000" stroke-width="1" stroke-dasharray="2,2"/>
<line x1="348" y1="236.5" x2="842" y2="236.5" stroke="#000" stroke-width="1" stroke-dasharray="2,2"/>
<line x1="348" y1="252.5" x2="842" y2="252.5" stroke="#000" stroke-width="1" stroke-dasharray="2,2"/>
<line x1="348" y1="268.5" x2="842" y2="268.5" stroke="#000" stroke-width="1" stroke-dasharray="2,2"/>
<line x1="348" y1="283.5" x2="842" y2="283.5" stroke="#000" stroke-width="1" stroke-dasharray="2,2"/>
<line x1="348" y1="299.5" x2="842" y2="299.5" stroke="#000" stroke-width="1" stroke-dasharray="2,2"/>
<line x1="348" y1="308.5" x2="842" y2="308.5" stroke="#000" stroke-width="1" stroke-dasharray="2,2"/>
<line x1="361.5" y1="230" x2="361.5" y2="309" stroke="#000" stroke-width="1" stroke-dasharray="2,2"/>
<line x1="380.5" y1="230" x2="380.5" y2="309" stroke="#000" stroke-width="1" stroke-dasharray="2,2"/>
<line x1="400.5" y1="230" x2="400.5" y2="309" stroke="#000" stroke-width="1" stroke-dasharray="2,2"/>
<line x1="419.5" y1="230" x2="419.5" y2="309" stroke="#000" stroke-width="1" stroke-dasharray="2,2"/>
<line x1="438.5" y1="230" x2="438.5" y2="309" stroke="#000" stroke-width="1" stroke-dasharray="2,2"/>
<line x1="457.5" y1="230" x2="457.5" y2="309" stroke="#000" stroke-width="1" stroke-dasharray="2,2"/>
<line x1="476.5" y1="230" x2="476.5" y2="309" stroke="#000" stroke-width="1" stroke-dasharray="2,2"/>
<line x1="495.5" y1="230" x2="495.5" y2="309" stroke="#000" stroke-width="1" stroke-dasharray="2,2"/>
<line x1="515.5" y1="230" x2="515.5" y2="309" stroke="#000" stroke-width="1" stroke-dasharray="2,2"/>
<line x1="534.5" y1="230" x2="534.5" y2="309" stroke="#000" stroke-width="1" stroke-dasharray="2,2"/>
<line x1="553.5" y1="230" x2="553.5" y2="309" stroke="#000" stroke-width="1" stroke-dasharray="2,2"/>
<line x1="572.5" y1="230" x2="572.5" y2="309" stroke="#000" stroke-width="1" stroke-dasharray="2,2"/>
<line x1="591.5" y1="230" x2="591.5" y2="309" stroke="#000" stroke-width="1" stroke-dasharray="2,2"/>
<line x1="610.5" y1="230" x2="610.5" y2="309" stroke="#000" stroke-width="1" stroke-dasharray="2,2"/>
<line x1="630.5" y1="230" x2="630.5" y2="309" stroke="#000" stroke-width="1" stroke-dasharray="2,2"/>
<line x1="649.5" y1="230" x2="649.5" y2="309" stroke="#000" stroke-width="1" stroke-dasharray="2,2"/>
<line x1="668.5" y1="230" x2="668.5" y2="309" stroke="#000" stroke-width="1" stroke-dasharray="2,2"/>
<line x1="687.5" y1="230" x2="687.5" y2="309" stroke="#000" stroke-width="1" stroke-dasharray="2,2"/>
<line x1="706.5" y1="230" x2="706.5" y2="309" stroke="#000" stroke-width="1" stroke-dasharray="2,2"/>
<line x1="725.5" y1="230" x2="725.5" y2="309" stroke="#000" stroke-width="1" stroke-dasharray="2,2"/>
<line x1="745.5" y1="230" x2="745.5" y2="309" stroke="#000" stroke-width="1" stroke-dasharray="2,2"/>
<line x1="764.5" y1="230" x2="764.5" y2="309" stroke="#000" stroke-width="1" stroke-dasharray="2,2"/>
<line x1="783.5" y1="230" x2="783.5" y2="309" stroke="#000" stroke-width="1" stroke-dasharray="2,2"/>
<line x1="802.5" y1="230" x2="802.5" y2="309" stroke="#000" stroke-width="1" stroke-dasharray="2,2"/>
<line x1="821.5" y1="230" x2="821.5" y2="309" stroke="#000" stroke-width="1" stroke-dasharray="2,2"/>
<line x1="348" y1="230.5" x2="842" y2="230.5" stroke="#444" stroke-width="1"/>
<line x1="348.5" y1="230" x2="348.5" y2="309" stroke="#000" stroke-width="1" stroke-dasharray="2,2"/>
<line x1="841.5" y1="230" x2="841.5" y2="309" stroke="#000" stroke-width="1" stroke-dasharray="2,2"/>
<line x1="348" y1="318.5" x2="842" y2="318.5" stroke="#000" stroke-width="1" stroke-dasharray="2,2"/>
<line x1="348" y1="337.5" x2="842" y2="337.5" stroke="#000" stroke-width="1" stroke-dasharray="2,2"/>
<line x1="348" y1="357.5" x2="842" y2="357.5" stroke="#000" stroke-width="1" stroke-dasharray="2,2"/>
<line x1="348" y1="376.5" x2="842" y2="376.5" stroke="#000" stroke-width="1" stroke-dasharray="2,2"/>
<line x1="348" y1="395.5" x2="842" y2="395.5" stroke="#000" stroke-width="1" stroke-dasharray="2,2"/>
<line x1="361.5" y1="317" x2="361.5" y2="396" stroke="#000" stroke-width="1" stroke-dasharray="2,2"/>
<line x1="380.5" y1="317" x2="380.5" y2="396" stroke="#000" stroke-width="1" stroke-dasharray="2,2"/>
<line x1="400.5" y1="317" x2="400.5" y2="396" stroke="#000" stroke-width="1" stroke-dasharray="2,2"/>
<line x1="419.5" y1="317" x2="419.5" y2="396" stroke="#000" stroke-width="1" stroke-dasharray="2,2"/>
<line x1="438.5" y1="317" x2="438.5" y2="396" stroke="#000" stroke-width="1" stroke-dasharray="2,2"/>
<line x1="457.5" y1="317" x2="457.5" y2="396" stroke="#000" stroke-width="1" stroke-dasharray="2,2"/>
<line x1="476.5" y1="317" x2="476.5" y2="396" stroke="#000" stroke-width="1" stroke-dasharray="2,2"/>
<line x1="495.5" y1="317" x2="495.5" y2="396" stroke="#000" stroke-width="1" stroke-dasharray="2,2"/>
<line x1="515.5" y1="317" x2="515.5" y2="396" stroke="#000" stroke-width="1" stroke-dasharray="2,2"/>
<line x1="534.5" y1="317" x2="534.5" y2="396" stroke="#000" stroke-width="1" stroke-dasharray="2,2"/>
<line x1="553.5" y1="317" x2="553.5" y2="396" stroke="#000" stroke-width="1" stroke-dasharray="2,2"/>
<line x1="572.5" y1="317" x2="572.5" y2="396" stroke="#000" stroke-width="1" stroke-dasharray="2,2"/>
<line x1="591.5" y1="317" x2="591.5" y2="396" stroke="#000" stroke-width="1" stroke-dasharray="2,2"/>
<line x1="610.5" y1="317" x2="610.5" y2="396" stroke="#000" stroke-width="1" stroke-dasharray="2,2"/>
<line x1="630.5" y1="317" x2="630.5" y2="396" stroke="#000" stroke-width="1" stroke-dasharray="2,2"/>
<line x1="649.5" y1="317" x2="649.5" y2="396" stroke="#000" stroke-width="1" stroke-dasharray="2,2"/>
<line x1="668.5" y1="317" x2="668.5" y2="396" stroke="#000" stroke-width="1" stroke-dasharray="2,2"/>
<line x1="687.5" y1="317" x2="687.5" y2="396" stroke="#000" stroke-width="1" stroke-dasharray="2,2"/>
<line x1="706.5" y1="317" x2="706.5" y2="396" stroke="#000" stroke-width="1" stroke-dasharray="2,2"/>
<line x1="725.5" y1="317" x2="725.5" y2="396" stroke="#000" stroke-width="1" stroke-dasharray="2,2"/>
<line x1="745.5" y1="317" x2="745.5" y2="396" stroke="#000" stroke-width="1" stroke-dasharray="2,2"/>
<line x1="764.5" y1="317" x2="764.5" y2="396" stroke="#000" stroke-width="1" stroke-dasharray="2,2"/>
<line x1="783.5" y1="317" x2="783.5" y2="396" stroke="#000" stroke-width="1" stroke-dasharray="2,2"/>
<line x1="802.5" y1="317" x2="802.5" y2="396" stroke="#000" stroke-width="1" stroke-dasharray="2,2"/>
<line x1="821.5" y1="317" x2="821.5" y2="396" stroke="#000" stroke-width="1" stroke-dasharray="2,2"/>
<line x1="348" y1="317.5" x2="842" y2="317.5" stroke="#444" stroke-width="1"/>
<line x1="348.5" y1="317" x2="348.5" y2="396" stroke="#000" stroke-width="1" stroke-dasharray="2,2"/>
<line x1="841.5" y1="317" x2="841.5" y2="396" stroke="#000" stroke-width="1" stroke-dasharray="2,2"/>
<line x1="361.5" y1="401" x2="361.5" y2="432" stroke="#000" stroke-width="1" stroke-dasharray="2,2"/>
<line x1="380.5" y1="401" x2="380.5" y2="432" stroke="#000" stroke-width="1" stroke-dasharray="2,2"/>
<line x1="400.5" y1="401" x2="400.5" y2="432" stroke="#000" stroke-width="1" stroke-dasharray="2,2"/>
<line x1="419.5" y1="401" x2="419.5" y2="432" stroke="#000" stroke-width="1" stroke-dasharray="2,2"/>
<line x1="438.5" y1="401" x2="438.5" y2="432" stroke="#000" stroke-width="1" stroke-dasharray="2,2"/>
<line x1="457.5" y1="401" x2="457.5" y2="432" stroke="#000" stroke-width="1" stroke-dasharray="2,2"/>
<line x1="476.5" y1="401" x2="476.5" y2="432" stroke="#000" stroke-width="1" stroke-dasharray="2,2"/>
<line x1="495.5" y1="401" x2="495.5" y2="432" stroke="#000" stroke-width="1" stroke-dasharray="2,2"/>
<line x1="515.5" y1="401" x2="515.5" y2="432" stroke="#000" stroke-width="1" stroke-dasharray="2,2"/>
<line x1="534.5" y1="401" x2="534.5" y2="432" stroke="#000" stroke-width="1" stroke-dasharray="2,2"/>
<line x1="553.5" y1="401" x2="553.5" y2="432" stroke="#000" stroke-width="1" stroke-dasharray="2,2"/>
<line x1="572.5" y1="401" x2="572.5" y2="432" stroke="#000" stroke-width="1" stroke-dasharray="2,2"/>
<line x1="591.5" y1="401" x2="591.5" y2="432" stroke="#000" stroke-width="1" stroke-dasharray="2,2"/>
<line x1="610.5" y1="401" x2="610.5" y2="432" stroke="#000" stroke-width="1" stroke-dasharray="2,2"/>
<line x1="630.5" y1="401" x2="630.5" y2="432" stroke="#000" stroke-width="1" stroke-dasharray="2,2"/>
<line x1="649.5" y1="401" x2="649.5" y2="432" stroke="#000" stroke-width="1" stroke-dasharray="2,2"/>
<line x1="668.5" y1="401" x2="668.5" y2="432" stroke="#000" stroke-width="1" stroke-dasharray="2,2"/>
<line x1="687.5" y1="401" x2="687.5" y2="432" stroke="#000" stroke-width="1" stroke-dasharray="2,2"/>
<line x1="706.5" y1="401" x2="706.5" y2="432" stroke="#000" stroke-width="1" stroke-dasharray="2,2"/>
<line x1="725.5" y1="401" x2="725.5" y2="432" stroke="#000" stroke-width="1" stroke-dasharray="2,2"/>
<line x1="745.5" y1="401" x2="745.5" y2="432" stroke="#000" stroke-width="1" stroke-dasharray="2,2"/>
<line x1="764.5" y1="401" x2="764.5" y2="432" stroke="#000" stroke-width="1" stroke-dasharray="2,2"/>
<line x1="783.5" y1="401" x2="783.5" y2="432" stroke="#000" stroke-width="1" stroke-dasharray="2,2"/>
<line x1="802.5" y1="401" x2="802.5" y2="432" stroke="#000" stroke-width="1" stroke-dasharray="2,2"/>
<line x1="821.5" y1="401" x2="821.5" y2="432" stroke="#000" stroke-width="1" stroke-dasharray="2,2"/>
<line x1="348" y1="401.5" x2="842" y2="401.5" stroke="#444" stroke-width="1"/>
<line x1="348.5" y1="401" x2="348.5" y2="432" stroke="#000" stroke-width="1" stroke-dasharray="2,2"/>
<line x1="841.5" y1="401" x2="841.5" y2="432" stroke="#000" stroke-width="1" stroke-dasharray="2,2"/>
<line x1="348" y1="438.5" x2="842" y2="438.5" stroke="#000" stroke-width="1" stroke-dasharray="2,2"/>
<line x1="348" y1="457.5" x2="842" y2="457.5" stroke="#000" stroke-width="1" stroke-dasharray="2,2"/>
<line x1="348" y1="477.5" x2="842" y2="477.5" stroke="#000" stroke-width="1" stroke-dasharray="2,2"/>
<line x1="348" y1="497.5" x2="842" y2="497.5" stroke="#000" stroke-width="1" stroke-dasharray="2,2"/>
<line x1="348" y1="516.5" x2="842" y2="516.5" stroke="#000" stroke-width="1" stroke-dasharray="2,2"/>
<line x1="361.5" y1="438" x2="361.5" y2="517" stroke="#000" stroke-width="1" stroke-dasharray="2,2"/>
<line x1="380.5" y1="438" x2="380.5" y2="517" stroke="#000" stroke-width="1" stroke-dasharray="2,2"/>
<line x1="400.5" y1="438" x2="400.5" y2="517" stroke="#000" stroke-width="1" stroke-dasharray="2,2"/>
<line x1="419.5" y1="438" x2="419.5" y2="517" stroke="#000" stroke-width="1" stroke-dasharray="2,2"/>
<line x1="438.5" y1="438" x2="438.5" y2="517" stroke="#000" stroke-width="1" stroke-dasharray="2,2"/>
<line x1="457.5" y1="438" x2="457.5" y2="517" stroke="#000" stroke-width="1" stroke-dasharray="2,2"/>
<line x1="476.5" y1="438" x2="476.5" y2="517" stroke="#000" stroke-width="1" stroke-dasharray="2,2"/>
<line x1="495.5" y1="438" x2="495.5" y2="517" stroke="#000" stroke-width="1" stroke-dasharray="2,2"/>
<line x1="515.5" y1="438" x2="515.5" y2="517" stroke="#000" stroke-width="1" stroke-dasharray="2,2"/>
<line x1="534.5" y1="438" x2="534.5" y2="517" stroke="#000" stroke-width="1" stroke-dasharray="2,2"/>
<line x1="553.5" y1="438" x2="553.5" y2="517" stroke="#000" stroke-width="1" stroke-dasharray="2,2"/>
<line x1="572.5" y1="438" x2="572.5" y2="517" stroke="#000" stroke-width="1" stroke-dasharray="2,2"/>
<line x1="591.5" y1="438" x2="591.5" y2="517" stroke="#000" stroke-width="1" stroke-dasharray="2,2"/>
<line x1="610.5" y1="438" x2="610.5" y2="517" stroke="#000" stroke-width="1" stroke-dasharray="2,2"/>
<line x1="630.5" y1="438" x2="630.5" y2="517" stroke="#000" stroke-width="1" stroke-dasharray="2,2"/>
<line x1="649.5" y1="438" x2="649.5" y2="517" stroke="#000" stroke-width="1" stroke-dasharray="2,2"/>
<line x1="668.5" y1="438" x2="668.5" y2="517" stroke="#000" stroke-width="1" stroke-dasharray="2,2"/>
<line x1="687.5" y1="438" x2="687.5" y2="517" stroke="#000" stroke-width="1" stroke-dasharray="2,2"/>
<line x1="706.5" y1="438" x2="706.5" y2="517" stroke="#000" stroke-width="1" stroke-dasharray="2,2"/>
<line x1="725.5" y1="438" x2="725.5" y2="517" stroke="#000" stroke-width="1" stroke-dasharray="2,2"/>
<line x1="745.5" y1="438" x2="745.5" y2="517" stroke="#000" stroke-width="1" stroke-dasharray="2,2"/>
<line x1="764.5" y1="438" x2="764.5" y2="517" stroke="#000" stroke-width="1" stroke-dasharray="2,2"/>
<line x1="783.5" y1="438" x2="783.5" y2="517" stroke="#000" stroke-width="1" stroke-dasharray="2,2"/>
<line x1="802.5" y1="438" x2="802.5" y2="517" stroke="#000" stroke-width="1" stroke-dasharray="2,2"/>
<line x1="821.5" y1="438" x2="821.5" y2="517" stroke="#000" stroke-width="1" stroke-dasharray="2,2"/>
<line x1="348" y1="438.5" x2="842" y2="438.5" stroke="#444" stroke-width="1"/>
<line x1="348.5" y1="438" x2="348.5" y2="517" stroke="#000" stroke-width="1" stroke-dasharray="2,2"/>
<line x1="841.5" y1="438" x2="841.5" y2="517" stroke="#000" stroke-width="1" stroke-dasharray="2,2"/>
<line x1="348" y1="545.5" x2="842" y2="545.5" stroke="#000" stroke-width="1" stroke-dasharray="2,2"/>
<line x1="348" y1="564.5" x2="842" y2="564.5" stroke="#000" stroke-width="1" stroke-dasharray="2,2"/>
<line x1="348" y1="584.5" x2="842" y2="584.5" stroke="#000" stroke-width="1" stroke-dasharray="2,2"/>
<line x1="348" y1="603.5" x2="842" y2="603.5" stroke="#000" stroke-width="1" stroke-dasharray="2,2"/>
<line x1="361.5" y1="525" x2="361.5" y2="604" stroke="#000" stroke-width="1" stroke-dasharray="2,2"/>
<line x1="380.5" y1="525" x2="380.5" y2="604" stroke="#000" stroke-width="1" stroke-dasharray="2,2"/>
<line x1="400.5" y1="525" x2="400.5" y2="604" stroke="#000" stroke-width="1" stroke-dasharray="2,2"/>
<line x1="419.5" y1="525" x2="419.5" y2="604" stroke="#000" stroke-width="1" stroke-dasharray="2,2"/>
<line x1="438.5" y1="525" x2="438.5" y2="604" stroke="#000" stroke-width="1" stroke-dasharray="2,2"/>
<line x1="457.5" y1="525" x2="457.5" y2="604" stroke="#000" stroke-width="1" stroke-dasharray="2,2"/>
<line x1="476.5" y1="525" x2="476.5" y2="604" stroke="#000" stroke-width="1" stroke-dasharray="2,2"/>
<line x1="495.5" y1="525" x2="495.5" y2="604" stroke="#000" stroke-width="1" stroke-dasharray="2,2"/>
<line x1="515.5" y1="525" x2="515.5" y2="604" stroke="#000" stroke-width="1" stroke-dasharray="2,2"/>
<line x1="534.5" y1="525" x2="534.5" y2="604" stroke="#000" stroke-width="1" stroke-dasharray="2,2"/>
<line x1="553.5" y1="525" x2="553.5" y2="604" stroke="#000" stroke-width="1" stroke-dasharray="2,2"/>
<line x1="572.5" y1="525" x2="572.5" y2="604" stroke="#000" stroke-width="1" stroke-dasharray="2,2"/>
<line x1="591.5" y1="525" x2="591.5" y2="604" stroke="#000" stroke-width="1" stroke-dasharray="2,2"/>
<line x1="610.5" y1="525" x2="610.5" y2="604" stroke="#000" stroke-width="1" stroke-dasharray="2,2"/>
<line x1="630.5" y1="525" x2="630.5" y2="604" stroke="#000" stroke-width="1" stroke-dasharray="2,2"/>
<line x1="649.5" y1="525" x2="649.5" y2="604" stroke="#000" stroke-width="1" stroke-dasharray="2,2"/>
<line x1="668.5" y1="525" x2="668.5" y2="604" stroke="#000" stroke-width="1" stroke-dasharray="2,2"/>
<line x1="687.5" y1="525" x2="687.5" y2="604" stroke="#000" stroke-width="1" stroke-dasharray="2,2"/>
<line x1="706.5" y1="525" x2="706.5" y2="604" stroke="#000" stroke-width="1" stroke-dasharray="2,2"/>
<line x1="725.5" y1="525" x2="725.5" y2="604" stroke="#000" stroke-width="1" stroke-dasharray="2,2"/>
<line x1="745.5" y1="525" x2="745.5" y2="604" stroke="#000" stroke-width="1" stroke-dasharray="2,2"/>
<line x1="764.5" y1="525" x2="764.5" y2="604" stroke="#000" stroke-width="1" stroke-dasharray="2,2"/>
<line x1="783.5" y1="525" x2="783.5" y2="604" stroke="#000" stroke-width="1" stroke-dasharray="2,2"/>
<line x1="802.5" y1="525" x2="802.5" y2="604" stroke="#000" stroke-width="1" stroke-dasharray="2,2"/>
<line x1="821.5" y1="525" x2="821.5" y2="604" stroke="#000" stroke-width="1" stroke-dasharray="2,2"/>
<line x1="348" y1="525.5" x2="842" y2="525.5" stroke="#444" stroke-width="1"/>
<line x1="348.5" y1="525" x2="348.5" y2="604" stroke="#000" stroke-width="1" stroke-dasharray="2,2"/>
<line x1="841.5" y1="525" x2="841.5" y2="604" stroke="#000" stroke-width="1" stroke-dasharray="2,2"/>
<line x1="135" y1="59.5" x2="246" y2="59.5" stroke="#000" stroke-width="1" stroke-dasharray="2,2"/>
<line x1="135" y1="77.5" x2="246" y2="77.5" stroke="#000" stroke-width="1" stroke-dasharray="2,2"/>
<line x1="135" y1="94.5" x2="246" y2="94.5" stroke="#000" stroke-width="1" stroke-dasharray="2,2"/>
<line x1="135" y1="111.5" x2="246" y2="111.5" stroke="#000" stroke-width="1" stroke-dasharray="2,2"/>
<line x1="135" y1="129.5" x2="246" y2="129.5" stroke="#000" stroke-width="1" stroke-dasharray="2,2"/>
<line x1="142.5" y1="57" x2="142.5" y2="135" stroke="#000" stroke-width="1" stroke-dasharray="2,2"/>
<line x1="163.5" y1="57" x2="163.5" y2="135" stroke="#000" stroke-width="1" stroke-dasharray="2,2"/>
<line x1="184.5" y1="57" x2="184.5" y2="135" stroke="#000" stroke-width="1" stroke-dasharray="2,2"/>
<line x1="205.5" y1="57" x2="205.5" y2="135" stroke="#000" stroke-width="1" stroke-dasharray="2,2"/>
<line x1="226.5" y1="57" x2="226.5" y2="135" stroke="#000" stroke-width="1" stroke-dasharray="2,2"/>
<rect x="135.5" y="57.5" width="110" height="77" fill="none" stroke="#000" stroke-width="1"/>
<line x1="135" y1="150.5" x2="246" y2="150.5" stroke="#000" stroke-width="1" stroke-dasharray="2,2"/>
<line x1="135" y1="168.5" x2="246" y2="168.5" stroke="#000" stroke-width="1" stroke-dasharray="2,2"/>
<line x1="135" y1="185.5" x2="246" y2="185.5" stroke="#000" stroke-width="1" stroke-dasharray="2,2"/>
<line x1="135" y1="202.5" x2="246" y2="202.5" stroke="#000" stroke-width="1" stroke-dasharray="2,2"/>
<line x1="142.5" y1="143" x2="142.5" y2="221" stroke="#000" stroke-width="1" stroke-dasharray="2,2"/>
<line x1="163.5" y1="143" x2="163.5" y2="221" stroke="#000" stroke-width="1" stroke-dasharray="2,2"/>
<line x1="184.5" y1="143" x2="184.5" y2="221" stroke="#000" stroke-width="1" stroke-dasharray="2,2"/>
<line x1="205.5" y1="143" x2="205.5" y2="221" stroke="#000" stroke-width="1" stroke-dasharray="2,2"/>
<line x1="226.5" y1="143" x2="226.5" y2="221" stroke="#000" stroke-width="1" stroke-dasharray="2,2"/>
<rect x="135.5" y="143.5" width="110" height="77" fill="none" stroke="#000" stroke-width="1"/>
<line x1="135" y1="231.5" x2="246" y2="231.5" stroke="#000" stroke-width="1" stroke-dasharray="2,2"/>
<line x1="135" y1="254.5" x2="246" y2="254.5" stroke="#000" stroke-width="1" stroke-dasharray="2,2"/>
<line x1="135" y1="278.5" x2="246" y2="278.5" stroke="#000" stroke-width="1" stroke-dasharray="2,2"/>
<line x1="135" y1="301.5" x2="246" y2="301.5" stroke="#000" stroke-width="1" stroke-dasharray="2,2"/>
<line x1="142.5" y1="229" x2="142.5" y2="307" stroke="#000" stroke-width="1" stroke-dasharray="2,2"/>
<line x1="163.5" y1="229" x2="163.5" y2="307" stroke="#000" stroke-width="1" stroke-dasharray="2,2"/>
<line x1="184.5" y1="229" x2="184.5" y2="307" stroke="#000" stroke-width="1" stroke-dasharray="2,2"/>
<line x1="205.5" y1="229" x2="205.5" y2="307" stroke="#000" stroke-width="1" stroke-dasharray="2,2"/>
<line x1="226.5" y1="229" x2="226.5" y2="307" stroke="#000" stroke-width="1" stroke-dasharray="2,2"/>
<rect x="135.5" y="229.5" width="110" height="77" fill="none" stroke="#000" stroke-width="1"/>
<line x1="135" y1="316.5" x2="246" y2="316.5" stroke="#000" stroke-width="1" stroke-dasharray="2,2"/>
<line x1="135" y1="334.5" x2="246" y2="334.5" stroke="#000" stroke-width="1" stroke-dasharray="2,2"/>
<line x1="135" y1="354.5" x2="246" y2="354.5" stroke="#000" stroke-width="1" stroke-dasharray="2,2"/>
<line x1="135" y1="372.5" x2="246" y2="372.5" stroke="#000" stroke-width="1" stroke-dasharray="2,2"/>
<line x1="142.5" y1="315" x2="142.5" y2="393" stroke="#000" stroke-width="1" stroke-dasharray="2,2"/>
<line x1="163.5" y1="315" x2="163.5" y2="393" stroke="#000" stroke-width="1" stroke-dasharray="2,2"/>
<line x1="184.5" y1="315" x2="184.5" y2="393" stroke="#000" stroke-width="1" stroke-dasharray="2,2"/>
<line x1="205.5" y1="315" x2="205.5" y2="393" stroke="#000" stroke-width="1" stroke-dasharray="2,2"/>
<line x1="226.5" y1="315" x2="226.5" y2="393" stroke="#000" stroke-width="1" stroke-dasharray="2,2"/>
<rect x="135.5" y="315.5" width="110" height="77" fill="none" stroke="#000" stroke-width="1"/>
<line x1="142.5" y1="398" x2="142.5" y2="431" stroke="#000" stroke-width="1" stroke-dasharray="2,2"/>
<line x1="163.5" y1="398" x2="163.5" y2="431" stroke="#000" stroke-width="1" stroke-dasharray="2,2"/>
<line x1="184.5" y1="398" x2="184.5" y2="431" stroke="#000" stroke-width="1" stroke-dasharray="2,2"/>
<line x1="205.5" y1="398" x2="205.5" y2="431" stroke="#000" stroke-width="1" stroke-dasharray="2,2"/>
<line x1="226.5" y1="398" x2="226.5" y2="431" stroke="#000" stroke-width="1" stroke-dasharray="2,2"/>
<rect x="135.5" y="398.5" width="110" height="32" fill="none" stroke="#000" stroke-width="1"/>
<line x1="135" y1="456.5" x2="246" y2="456.5" stroke="#000" stroke-width="1" stroke-dasharray="2,2"/>
<line x1="135" y1="475.5" x2="246" y2="475.5" stroke="#000" stroke-width="1" stroke-dasharray="2,2"/>
<line x1="135" y1="495.5" x2="246" y2="495.5" stroke="#000" stroke-width="1" stroke-dasharray="2,2"/>
<line x1="135" y1="514.5" x2="246" y2="514.5" stroke="#000" stroke-width="1" stroke-dasharray="2,2"/>
<line x1="142.5" y1="436" x2="142.5" y2="515" stroke="#000" stroke-width="1" stroke-dasharray="2,2"/>
<line x1="163.5" y1="436" x2="163.5" y2="515" stroke="#000" stroke-width="1" stroke-dasharray="2,2"/>
<line x1="184.5" y1="436" x2="184.5" y2="515" stroke="#000" stroke-width="1" stroke-dasharray="2,2"/>
<line x1="205.5" y1="436" x2="205.5" y2="515" stroke="#000" stroke-width="1" stroke-dasharray="2,2"/>
<line x1="226.5" y1="436" x2="226.5" y2="515" stroke="#000" stroke-width="1" stroke-dasharray="2,2"/>
<rect x="135.5" y="436.5" width="110" height="78" fill="none" stroke="#000" stroke-width="1"/>
<line x1="135" y1="543.5" x2="246" y2="543.5" stroke="#000" stroke-width="1" stroke-dasharray="2,2"/>
<line x1="135" y1="562.5" x2="246" y2="562.5" stroke="#000" stroke-width="1" stroke-dasharray="2,2"/>
<line x1="135" y1="582.5" x2="246" y2="582.5" stroke="#000" stroke-width="1" stroke-dasharray="2,2"/>
<line x1="142.5" y1="523" x2="142.5" y2="602" stroke="#000" stroke-width="1" stroke-dasharray="2,2"/>
<line x1="163.5" y1="523" x2="163.5" y2="602" stroke="#000" stroke-width="1" stroke-dasharray="2,2"/>
<line x1="184.5" y1="523" x2="184.5" y2="602" stroke="#000" stroke-width="1" stroke-dasharray="2,2"/>
<line x1="205.5" y1="523" x2="205.5" y2="602" stroke="#000" stroke-width="1" stroke-dasharray="2,2"/>
<line x1="226.5" y1="523" x2="226.5" y2="602" stroke="#000" stroke-width="1" stroke-dasharray="2,2"/>
<rect x="135.5" y="523.5" width="110" height="78" fill="none" stroke="#000" stroke-width="1"/>
<g clip-path="url(#cT)">
<line x1="355.5" y1="64.45175" x2="355.5" y2="82.11212499999998" stroke="#a01818" stroke-width="1"/>
<line x1="361.5" y1="68.0" x2="361.5" y2="89.8504" stroke="#a01818" stroke-width="1"/>
<line x1="367.5" y1="68.0" x2="367.5" y2="93.6856" stroke="#a01818" stroke-width="1"/>
<line x1="374.5" y1="68.714" x2="374.5" y2="98.97" stroke="#a01818" stroke-width="1"/>
<line x1="380.5" y1="69.0479104477612" x2="380.5" y2="100.63955223880598" stroke="#a01818" stroke-width="1"/>
<line x1="387.5" y1="69.3818208955224" x2="387.5" y2="102.30910447761195" stroke="#a01818" stroke-width="1"/>
<line x1="393.5" y1="70.06802105263158" x2="393.5" y2="101.72844444444445" stroke="#a01818" stroke-width="1"/>
<line x1="399.5" y1="70.7745052631579" x2="399.5" y2="103.77754330708663" stroke="#a01818" stroke-width="1"/>
<line x1="406.5" y1="71.48098947368422" x2="406.5" y2="105.94176377952758" stroke="#a01818" stroke-width="1"/>
<line x1="412.5" y1="72.41663157894737" x2="412.5" y2="106.59238095238095" stroke="#a01818" stroke-width="1"/>
<line x1="419.5" y1="73.35861052631579" x2="419.5" y2="107.29581102362205" stroke="#a01818" stroke-width="1"/>
<line x1="425.5" y1="74.30043076923077" x2="425.5" y2="108.00095238095238" stroke="#a01818" stroke-width="1"/>
<line x1="431.5" y1="74.9888" x2="431.5" y2="109.48866141732283" stroke="#a01818" stroke-width="1"/>
<line x1="438.5" y1="75.67716923076922" x2="438.5" y2="108.73370078740157" stroke="#a01818" stroke-width="1"/>
<line x1="444.5" y1="76.36553846153846" x2="444.5" y2="108.018" stroke="#a01818" stroke-width="1"/>
<line x1="451.5" y1="77.05390769230769" x2="451.5" y2="108.6572" stroke="#a01818" stroke-width="1"/>
<line x1="457.5" y1="76.87554838709677" x2="457.5" y2="103.67012500000003" stroke="#a01818" stroke-width="1"/>
<line x1="463.5" y1="76.63498924731184" x2="463.5" y2="97.97345454545456" stroke="#a01818" stroke-width="1"/>
<line x1="470.5" y1="76.3968024691358" x2="470.5" y2="94.0" stroke="#a01818" stroke-width="1"/>
<line x1="476.5" y1="76.25870370370372" x2="476.5" y2="93.86874999999999" stroke="#a01818" stroke-width="1"/>
<line x1="483.5" y1="76.12060493827161" x2="483.5" y2="90.44844444444443" stroke="#a01818" stroke-width="1"/>
<line x1="489.5" y1="75.9825061728395" x2="489.5" y2="89.01295522388061" stroke="#a01818" stroke-width="1"/>
<line x1="495.5" y1="75.84440740740742" x2="495.5" y2="87.2957014925373" stroke="#a01818" stroke-width="1"/>
<line x1="502.5" y1="75.70630864197531" x2="502.5" y2="85.57844776119403" stroke="#a01818" stroke-width="1"/>
<line x1="508.5" y1="75.02578947368421" x2="508.5" y2="83.46666666666667" stroke="#a01818" stroke-width="1"/>
<line x1="514.5" y1="74.3193052631579" x2="514.5" y2="81.33600000000001" stroke="#a01818" stroke-width="1"/>
<line x1="521.5" y1="73.61282105263157" x2="521.5" y2="80.26091338582677" stroke="#a01818" stroke-width="1"/>
<line x1="527.5" y1="72.43777777777775" x2="527.5" y2="79.20396850393699" stroke="#a01818" stroke-width="1"/>
<line x1="534.5" y1="71.25407407407407" x2="534.5" y2="74.98875590551181" stroke="#a01818" stroke-width="1"/>
<line x1="540.5" y1="70.06499999999998" x2="540.5" y2="73.93181102362203" stroke="#a01818" stroke-width="1"/>
<line x1="546.5" y1="68.7" x2="546.5" y2="72.91326984126985" stroke="#a01818" stroke-width="1"/>
<line x1="553.5" y1="68.7" x2="553.5" y2="73.4713015873016" stroke="#a01818" stroke-width="1"/>
<line x1="559.5" y1="68.7" x2="559.5" y2="74.08045070422536" stroke="#a01818" stroke-width="1"/>
<line x1="566.5" y1="68.7" x2="566.5" y2="75.6109295774648" stroke="#a01818" stroke-width="1"/>
<line x1="572.5" y1="71.04111111111109" x2="572.5" y2="79.04444444444447" stroke="#a01818" stroke-width="1"/>
<line x1="578.5" y1="73.52688888888889" x2="578.5" y2="82.59555555555556" stroke="#a01818" stroke-width="1"/>
<line x1="585.5" y1="74.62585826771655" x2="585.5" y2="83.38390551181104" stroke="#a01818" stroke-width="1"/>
<line x1="591.5" y1="75.68280314960631" x2="591.5" y2="84.08853543307087" stroke="#a01818" stroke-width="1"/>
<line x1="598.5" y1="73.63675000000002" x2="598.5" y2="81.34900000000003" stroke="#a01818" stroke-width="1"/>
<line x1="604.5" y1="74.64666666666668" x2="604.5" y2="80.60222222222221" stroke="#a01818" stroke-width="1"/>
<line x1="610.5" y1="75.69206299212597" x2="610.5" y2="85.52290909090912" stroke="#a01818" stroke-width="1"/>
<line x1="617.5" y1="74.98743307086613" x2="617.5" y2="87.55672727272727" stroke="#a01818" stroke-width="1"/>
<line x1="623.5" y1="74.28625906735752" x2="623.5" y2="85.45036363636365" stroke="#a01818" stroke-width="1"/>
<line x1="630.5" y1="73.72323316062176" x2="630.5" y2="83.41654545454547" stroke="#a01818" stroke-width="1"/>
<line x1="636.5" y1="73.160207253886" x2="636.5" y2="79.19124999999998" stroke="#a01818" stroke-width="1"/>
<line x1="642.5" y1="72.60233333333333" x2="642.5" y2="77.79644444444442" stroke="#a01818" stroke-width="1"/>
<line x1="649.5" y1="73.06841666666666" x2="649.5" y2="77.12755555555556" stroke="#a01818" stroke-width="1"/>
<line x1="655.5" y1="73.5345" x2="655.5" y2="78.54581818181818" stroke="#a01818" stroke-width="1"/>
<line x1="662.5" y1="74.00070833333334" x2="662.5" y2="79.90262500000001" stroke="#a01818" stroke-width="1"/>
<line x1="668.5" y1="74.56666666666668" x2="668.5" y2="82.00000000000007" stroke="#a01818" stroke-width="1"/>
<line x1="674.5" y1="75.132625" x2="674.5" y2="86.21981538461539" stroke="#a01818" stroke-width="1"/>
<line x1="681.5" y1="75.69858333333333" x2="681.5" y2="87.59655384615382" stroke="#a01818" stroke-width="1"/>
<line x1="687.5" y1="75.83991222570533" x2="687.5" y2="87.58387878787877" stroke="#a01818" stroke-width="1"/>
<line x1="693.5" y1="75.98017554858934" x2="693.5" y2="86.228" stroke="#a01818" stroke-width="1"/>
<line x1="700.5" y1="76.12043887147335" x2="700.5" y2="84.80888888888887" stroke="#a01818" stroke-width="1"/>
<line x1="706.5" y1="76.26070219435736" x2="706.5" y2="86.1895" stroke="#a01818" stroke-width="1"/>
<line x1="713.5" y1="76.4" x2="713.5" y2="89.8236923076923" stroke="#a01818" stroke-width="1"/>
<line x1="719.5" y1="76.4" x2="719.5" y2="93.26553846153848" stroke="#a01818" stroke-width="1"/>
<line x1="725.5" y1="77.79514960629925" x2="725.5" y2="90.53149999999995" stroke="#a01818" stroke-width="1"/>
<line x1="732.5" y1="79.20221052631581" x2="732.5" y2="91.21555555555564" stroke="#a01818" stroke-width="1"/>
<line x1="738.5" y1="79.90869473684211" x2="738.5" y2="96.02533333333335" stroke="#a01818" stroke-width="1"/>
<line x1="745.5" y1="80.61517894736843" x2="745.5" y2="92.1900625000001" stroke="#a01818" stroke-width="1"/>
<line x1="751.5" y1="81.3" x2="751.5" y2="100.89111111111103" stroke="#a01818" stroke-width="1"/>
<line x1="757.5" y1="81.3" x2="757.5" y2="97.468" stroke="#a01818" stroke-width="1"/>
<line x1="764.5" y1="81.3" x2="764.5" y2="96.7584375" stroke="#a01818" stroke-width="1"/>
<line x1="770.5" y1="81.3" x2="770.5" y2="96.01733333333331" stroke="#a01818" stroke-width="1"/>
<line x1="777.5" y1="81.3" x2="777.5" y2="94.56006349206348" stroke="#a01818" stroke-width="1"/>
<line x1="783.5" y1="81.3" x2="783.5" y2="92.63493749999999" stroke="#a01818" stroke-width="1"/>
<line x1="789.5" y1="81.2452" x2="789.5" y2="90.70428571428572" stroke="#a01818" stroke-width="1"/>
<line x1="796.5" y1="80.606" x2="796.5" y2="88.42142857142856" stroke="#a01818" stroke-width="1"/>
<line x1="802.5" y1="80.25099212598425" x2="802.5" y2="89.54955223880599" stroke="#a01818" stroke-width="1"/>
<line x1="809.5" y1="79.90266666666669" x2="809.5" y2="90.51333333333339" stroke="#a01818" stroke-width="1"/>
<line x1="815.5" y1="80.6128888888889" x2="815.5" y2="94.04603174603179" stroke="#a01818" stroke-width="1"/>
<line x1="821.5" y1="81.32311111111112" x2="821.5" y2="96.57923809523808" stroke="#a01818" stroke-width="1"/>
<line x1="828.5" y1="82.03206106870229" x2="828.5" y2="98.99843750000002" stroke="#a01818" stroke-width="1"/>
<line x1="834.5" y1="82.7151755725191" x2="834.5" y2="100.95365079365077" stroke="#a01818" stroke-width="1"/>
<line x1="840.5" y1="83.39829007633588" x2="840.5" y2="100" stroke="#a01818" stroke-width="1"/>
<polyline points="348.6,69.4 355.1,74.0 361.5,79.9 368.5,82.7 374.1,84.1 380.5,84.4 387.5,86.2 393.8,87.2 400.9,89.5 406.5,91.2 412.8,92.9 419.1,94.7 425.5,96.1 431.8,96.4 438.8,96.8 444.5,97.1 451.5,96.8 457.1,96.1 463.5,92.3 469.8,90.5 476.4,89.1 483.5,88.1 489.1,86.9 495.4,85.5 502.5,83.9 508.8,82.7 515.1,81.3 521.5,79.6 527.8,77.1 534.1,73.6 540.4,70.8 546.8,69.4 553.1,68.7 559.4,69.4 566.5,71.5 572.8,77.1 579.1,79.9 585.5,82.0 591.8,81.3 597.7,79.6 604.1,78.5 611.1,83.4 617.4,85.8 623.8,83.4 630.8,80.6 636.4,78.2 642.8,77.4 649.1,76.1 655.4,76.8 662.4,78.2 668.8,79.6 675.1,81.3 681.4,82.0 687.8,82.4 694.8,81.0 701.1,81.0 706.8,82.0 713.1,86.2 719.6,91.2 726.0,89.5 732.3,87.6 738.6,88.4 744.9,89.1 751.3,93.7 757.6,91.9 763.9,91.2 770.3,91.2 776.6,91.2 782.9,90.0 789.3,86.7 795.6,85.5 801.9,84.8 808.2,85.5 814.6,88.1 820.9,91.2 827.2,91.2 833.6,92.3 841.5,93.9" fill="none" stroke="#ff0000" stroke-width="2.3" stroke-linejoin="round"/>
<polyline points="348.6,77.8 355.1,83.4 361.5,89.8 368.5,90.5 374.1,89.8 380.5,89.8 387.5,97.5 393.8,99.9 400.9,100.7 406.5,102.4 412.8,105.2 419.1,108.0 425.5,110.9 431.8,111.6 438.8,113.0 444.5,114.4 451.5,115.1 457.1,115.8 463.5,113.0 469.8,112.3 476.4,111.6 483.5,110.2 489.1,108.3 495.4,105.2 502.5,98.2 508.8,95.8 515.1,95.8 521.5,92.6 527.8,88.6 534.1,87.2 540.4,85.5 546.8,82.4 553.1,78.2 559.4,78.2 566.5,84.8 572.8,93.7 579.1,96.1 585.5,99.9 591.8,95.4 597.0,94.3 604.1,97.5 611.1,103.1 617.4,105.5 623.8,105.2 630.8,100.3 636.4,99.3 642.8,98.2 649.1,96.1 655.4,95.1 662.4,96.8 668.8,97.1 675.1,99.6 681.4,101.7 687.8,103.8 694.8,105.9 701.1,107.3 706.8,108.0 713.1,108.0 719.6,113.0 726.0,118.6 732.3,112.3 738.6,115.8 744.9,117.9 751.3,120.7 757.6,123.2 763.9,123.5 770.3,123.5 776.6,122.8 782.9,121.4 789.3,117.9 795.6,115.8 801.9,114.4 808.2,113.0 814.6,114.4 820.9,117.9 827.2,117.2 833.6,115.8 841.5,115.8" fill="none" stroke="#0000ff" stroke-width="2.3" stroke-linejoin="round"/>
<circle cx="348.8" cy="103.1" r="1.7" fill="#6a5ad8"/>
<circle cx="355.2" cy="94.3" r="1.7" fill="#6a5ad8"/>
<circle cx="361.6" cy="92.9" r="1.7" fill="#6a5ad8"/>
<circle cx="368.0" cy="93.0" r="1.7" fill="#6a5ad8"/>
<circle cx="374.4" cy="93.2" r="1.7" fill="#6a5ad8"/>
<circle cx="380.8" cy="93.3" r="1.7" fill="#6a5ad8"/>
<circle cx="387.2" cy="92.9" r="1.7" fill="#6a5ad8"/>
<circle cx="393.5" cy="94.6" r="1.7" fill="#6a5ad8"/>
<circle cx="399.9" cy="94.7" r="1.7" fill="#6a5ad8"/>
<circle cx="406.3" cy="94.0" r="1.7" fill="#6a5ad8"/>
<circle cx="412.7" cy="94.7" r="1.7" fill="#6a5ad8"/>
<circle cx="419.1" cy="99.6" r="1.7" fill="#6a5ad8"/>
<circle cx="425.5" cy="101.7" r="1.7" fill="#6a5ad8"/>
<circle cx="431.9" cy="102.4" r="1.7" fill="#6a5ad8"/>
<circle cx="438.3" cy="102.4" r="1.7" fill="#6a5ad8"/>
<circle cx="444.7" cy="103.4" r="1.7" fill="#6a5ad8"/>
<circle cx="451.1" cy="103.8" r="1.7" fill="#6a5ad8"/>
<circle cx="457.5" cy="103.0" r="1.7" fill="#6a5ad8"/>
<circle cx="463.9" cy="101.2" r="1.7" fill="#6a5ad8"/>
<circle cx="470.2" cy="99.1" r="1.7" fill="#6a5ad8"/>
<circle cx="476.6" cy="96.4" r="1.7" fill="#6a5ad8"/>
<circle cx="483.0" cy="92.8" r="1.7" fill="#6a5ad8"/>
<circle cx="489.4" cy="89.9" r="1.7" fill="#6a5ad8"/>
<circle cx="495.8" cy="87.1" r="1.7" fill="#6a5ad8"/>
<circle cx="502.2" cy="85.6" r="1.7" fill="#6a5ad8"/>
<circle cx="508.6" cy="83.8" r="1.7" fill="#6a5ad8"/>
<circle cx="515.0" cy="81.3" r="1.7" fill="#6a5ad8"/>
<circle cx="521.4" cy="79.9" r="1.7" fill="#6a5ad8"/>
<circle cx="527.8" cy="77.8" r="1.7" fill="#6a5ad8"/>
<circle cx="534.2" cy="74.0" r="1.7" fill="#6a5ad8"/>
<circle cx="540.6" cy="70.8" r="1.7" fill="#6a5ad8"/>
<circle cx="547.0" cy="68.9" r="1.7" fill="#6a5ad8"/>
<circle cx="553.3" cy="68.4" r="1.7" fill="#6a5ad8"/>
<circle cx="559.7" cy="69.6" r="1.7" fill="#6a5ad8"/>
<circle cx="566.1" cy="72.7" r="1.7" fill="#6a5ad8"/>
<circle cx="572.5" cy="79.3" r="1.7" fill="#6a5ad8"/>
<circle cx="578.9" cy="82.3" r="1.7" fill="#6a5ad8"/>
<circle cx="585.3" cy="84.0" r="1.7" fill="#6a5ad8"/>
<circle cx="591.7" cy="83.4" r="1.7" fill="#6a5ad8"/>
<circle cx="598.1" cy="83.0" r="1.7" fill="#6a5ad8"/>
<circle cx="604.5" cy="82.4" r="1.7" fill="#6a5ad8"/>
<circle cx="610.9" cy="87.2" r="1.7" fill="#6a5ad8"/>
<circle cx="617.3" cy="89.5" r="1.7" fill="#6a5ad8"/>
<circle cx="623.7" cy="87.2" r="1.7" fill="#6a5ad8"/>
<circle cx="630.0" cy="85.5" r="1.7" fill="#6a5ad8"/>
<circle cx="636.4" cy="83.0" r="1.7" fill="#6a5ad8"/>
<circle cx="642.8" cy="83.4" r="1.7" fill="#6a5ad8"/>
<circle cx="649.2" cy="85.5" r="1.7" fill="#6a5ad8"/>
<circle cx="655.6" cy="87.2" r="1.7" fill="#6a5ad8"/>
<circle cx="662.0" cy="88.4" r="1.7" fill="#6a5ad8"/>
<circle cx="668.4" cy="88.4" r="1.7" fill="#6a5ad8"/>
<circle cx="674.8" cy="88.5" r="1.7" fill="#6a5ad8"/>
<circle cx="681.2" cy="88.5" r="1.7" fill="#6a5ad8"/>
<circle cx="687.6" cy="88.6" r="1.7" fill="#6a5ad8"/>
<circle cx="694.0" cy="88.6" r="1.7" fill="#6a5ad8"/>
<circle cx="700.4" cy="89.1" r="1.7" fill="#6a5ad8"/>
<circle cx="706.8" cy="90.0" r="1.7" fill="#6a5ad8"/>
<circle cx="713.1" cy="89.8" r="1.7" fill="#6a5ad8"/>
<circle cx="719.5" cy="92.3" r="1.7" fill="#6a5ad8"/>
<circle cx="725.9" cy="89.8" r="1.7" fill="#6a5ad8"/>
<circle cx="732.3" cy="94.7" r="1.7" fill="#6a5ad8"/>
<circle cx="738.7" cy="98.3" r="1.7" fill="#6a5ad8"/>
<circle cx="745.1" cy="103.6" r="1.7" fill="#6a5ad8"/>
<circle cx="751.5" cy="105.4" r="1.7" fill="#6a5ad8"/>
<circle cx="757.9" cy="102.1" r="1.7" fill="#6a5ad8"/>
<circle cx="764.3" cy="102.7" r="1.7" fill="#6a5ad8"/>
<circle cx="770.7" cy="102.5" r="1.7" fill="#6a5ad8"/>
<circle cx="777.1" cy="103.9" r="1.7" fill="#6a5ad8"/>
<circle cx="783.5" cy="104.4" r="1.7" fill="#6a5ad8"/>
<circle cx="789.8" cy="103.5" r="1.7" fill="#6a5ad8"/>
<circle cx="796.2" cy="98.5" r="1.7" fill="#6a5ad8"/>
<circle cx="802.6" cy="96.5" r="1.7" fill="#6a5ad8"/>
<circle cx="809.0" cy="97.5" r="1.7" fill="#6a5ad8"/>
<circle cx="815.4" cy="99.3" r="1.7" fill="#6a5ad8"/>
<circle cx="821.8" cy="99.3" r="1.7" fill="#6a5ad8"/>
<circle cx="828.2" cy="99.9" r="1.7" fill="#6a5ad8"/>
<circle cx="834.6" cy="100.3" r="1.7" fill="#6a5ad8"/>
<circle cx="841.0" cy="99.6" r="1.7" fill="#6a5ad8"/>
</g>
<g clip-path="url(#cP)">
<line x1="473.5" y1="216.7" x2="473.5" y2="222" stroke="#08a808" stroke-width="1"/>
<line x1="479.5" y1="210.3" x2="479.5" y2="222" stroke="#08a808" stroke-width="1"/>
<line x1="485.5" y1="204.4" x2="485.5" y2="222" stroke="#08a808" stroke-width="1"/>
<line x1="492.5" y1="200.5" x2="492.5" y2="222" stroke="#08a808" stroke-width="1"/>
<line x1="498.5" y1="193.5" x2="498.5" y2="222" stroke="#08a808" stroke-width="1"/>
<line x1="505.5" y1="194.2" x2="505.5" y2="222" stroke="#08a808" stroke-width="1"/>
<line x1="511.5" y1="204.4" x2="511.5" y2="222" stroke="#08a808" stroke-width="1"/>
<line x1="517.5" y1="187.1" x2="517.5" y2="222" stroke="#08a808" stroke-width="1"/>
<line x1="524.5" y1="191.8" x2="524.5" y2="222" stroke="#08a808" stroke-width="1"/>
<line x1="530.5" y1="211" x2="530.5" y2="222" stroke="#08a808" stroke-width="1"/>
<line x1="536.5" y1="218.1" x2="536.5" y2="222" stroke="#08a808" stroke-width="1"/>
<line x1="549.5" y1="216" x2="549.5" y2="222" stroke="#08a808" stroke-width="1"/>
<line x1="556.5" y1="201.2" x2="556.5" y2="222" stroke="#08a808" stroke-width="1"/>
<line x1="562.5" y1="197" x2="562.5" y2="222" stroke="#08a808" stroke-width="1"/>
<line x1="569.5" y1="197" x2="569.5" y2="222" stroke="#08a808" stroke-width="1"/>
<line x1="575.5" y1="205" x2="575.5" y2="222" stroke="#08a808" stroke-width="1"/>
<line x1="581.5" y1="212" x2="581.5" y2="222" stroke="#08a808" stroke-width="1"/>
<line x1="588.5" y1="210" x2="588.5" y2="222" stroke="#08a808" stroke-width="1"/>
<line x1="594.5" y1="213.1" x2="594.5" y2="222" stroke="#08a808" stroke-width="1"/>
<line x1="601.5" y1="218.1" x2="601.5" y2="222" stroke="#08a808" stroke-width="1"/>
<line x1="703.5" y1="201.2" x2="703.5" y2="222" stroke="#08a808" stroke-width="1"/>
<line x1="709.5" y1="200.5" x2="709.5" y2="222" stroke="#08a808" stroke-width="1"/>
<line x1="716.5" y1="193.5" x2="716.5" y2="222" stroke="#08a808" stroke-width="1"/>
<line x1="722.5" y1="193.2" x2="722.5" y2="222" stroke="#08a808" stroke-width="1"/>
<line x1="728.5" y1="201.2" x2="728.5" y2="222" stroke="#08a808" stroke-width="1"/>
<line x1="716.5" y1="174.5" x2="716.5" y2="222" stroke="#0a2ad8" stroke-width="1"/>
<line x1="722.5" y1="195" x2="722.5" y2="222" stroke="#0a2ad8" stroke-width="1"/>
<line x1="729.5" y1="198.4" x2="729.5" y2="222" stroke="#0a2ad8" stroke-width="1"/>
<line x1="742.5" y1="181.1" x2="742.5" y2="222" stroke="#0a2ad8" stroke-width="1"/>
<line x1="748.5" y1="187.1" x2="748.5" y2="222" stroke="#0a2ad8" stroke-width="1"/>
<line x1="755.5" y1="190" x2="755.5" y2="222" stroke="#0a2ad8" stroke-width="1"/>
<line x1="761.5" y1="210" x2="761.5" y2="222" stroke="#0a2ad8" stroke-width="1"/>
<line x1="768.5" y1="214.3" x2="768.5" y2="222" stroke="#0a2ad8" stroke-width="1"/>
<rect x="471.5" y="219.5" width="3" height="2" fill="#ff0000"/>
<rect x="478.5" y="219.5" width="3" height="2" fill="#ff0000"/>
<rect x="484.5" y="219.5" width="3" height="2" fill="#ff0000"/>
<rect x="522.5" y="219.5" width="3" height="2" fill="#ff0000"/>
<rect x="714.5" y="219.5" width="3" height="2" fill="#ff0000"/>
<rect x="721.5" y="219.5" width="3" height="2" fill="#ff0000"/>
<rect x="760.5" y="219.5" width="3" height="2" fill="#ff0000"/>
<polyline points="348.6,197.7 355.1,175.9 361.5,166.7 368.5,163.2 374.1,161.4 380.5,160.8 387.5,159.0 393.8,156.9 400.9,154.8 406.5,152.9 412.8,152.4 419.1,154.1 425.5,155.2 431.8,155.2 438.8,156.2 444.5,156.6 451.5,156.9 457.1,157.6 463.5,160.8 470.8,161.8 476.4,157.6 483.5,154.1 489.1,152.4 495.4,150.1 502.5,149.1 508.8,148.2 515.1,147.3 521.5,148.2 527.8,148.7 534.1,147.7 540.4,146.8 546.8,146.3 553.1,146.3 559.4,147.3 566.5,149.8 572.8,152.4 579.1,152.0 585.5,150.6 591.8,150.6 597.0,151.3 604.1,152.4 611.1,153.4 617.4,152.0 623.8,152.4 630.8,154.8 636.4,156.6 642.8,158.3 649.1,163.2 655.4,165.6 662.4,164.6 668.8,162.2 675.1,159.7 681.4,158.0 687.8,156.6 694.1,158.6 700.4,160.0 706.8,161.1 713.1,154.1 719.6,152.9 726.0,154.1 732.3,159.0 738.6,164.6 744.9,171.6 751.3,164.2 757.6,162.5 763.9,163.2 770.3,166.7 776.6,169.3 782.9,173.1 789.3,174.9 795.6,169.5 801.9,171.6 808.2,172.1 814.6,168.8 820.9,162.8 827.2,162.5 833.6,160.4 841.5,155.2" fill="none" stroke="#e2541c" stroke-width="2.4" stroke-linejoin="round"/>
</g>
<g clip-path="url(#cR)">
<polyline points="348.6,238.7 355.1,237.5 361.5,236.1 368.5,235.8 374.1,236.3 380.5,237.0 387.5,238.0 393.8,238.9 400.9,240.8 406.5,242.6 412.8,244.6 419.1,246.4 425.5,248.8 431.8,251.0 438.8,253.4 444.5,255.5 451.5,258.4 457.1,260.5 463.5,263.7 469.8,266.8 475.7,268.9 483.5,274.5 489.8,278.8 496.1,283.0 501.8,285.8 508.8,288.6 515.1,291.4 521.5,294.2 527.8,296.3 534.1,297.7 540.4,298.9 546.8,299.4 553.1,300.3 559.4,301.7 565.8,303.1 572.8,303.1 579.1,302.7 585.5,301.7 591.8,300.6 597.0,299.9 604.1,298.9 611.1,297.7 617.4,297.0 623.8,296.3 630.8,296.1 636.4,297.0 642.8,298.0 649.1,297.7 655.4,297.0 662.4,297.5 668.8,298.0 675.1,298.4 681.4,298.9 687.8,299.1 694.1,297.7 700.4,296.3 706.8,295.6 713.1,293.5 719.6,292.8 726.0,290.0 732.3,287.9 738.6,285.8 744.9,284.0 751.3,282.3 757.6,280.2 763.9,278.0 770.3,275.2 776.6,272.4 782.9,269.6 789.3,266.8 795.6,264.7 801.9,262.9 808.2,260.5 814.6,259.1 820.9,258.1 827.2,257.2 833.6,256.2 841.5,255.4" fill="none" stroke="#000000" stroke-width="2.4" stroke-linejoin="round"/>
</g>
<g clip-path="url(#cW)">
<polyline points="348.6,387.4 355.1,387.8 361.5,386.9 368.5,388.6 374.1,390.0 380.5,390.7 387.5,387.1 393.8,386.4 400.9,387.8 406.5,388.6 412.8,387.1 419.1,385.7 425.5,385.7 431.8,385.7 438.8,385.0 444.5,384.3 451.5,383.3 457.1,382.2 463.5,380.4 469.8,378.4 475.7,378.7 482.1,378.0 489.1,377.6 495.4,379.4 501.8,384.1 508.8,385.7 515.1,384.3 521.5,385.0 527.8,385.7 534.1,383.6 540.4,382.2 546.8,383.2 553.1,386.4 559.4,386.9 566.5,383.6 572.8,380.1 579.1,382.2 585.5,380.4 591.8,384.1 597.0,383.2 604.1,379.4 611.1,378.7 617.4,379.0 623.8,377.0 630.1,378.0 636.4,375.6 642.8,376.2 649.1,377.0 655.4,379.0 662.4,379.4 668.8,381.2 675.1,380.8 681.4,378.4 687.8,377.0 694.8,371.0 701.1,369.6 706.8,369.6 713.1,375.9 719.6,379.8 726.0,365.8 732.3,373.8 738.6,370.0 744.9,368.6 751.3,375.2 757.6,364.6 763.9,363.0 770.3,362.5 776.6,363.5 782.9,362.5 789.3,362.1 795.6,362.5 801.9,363.9 808.2,368.2 814.6,371.7 820.9,372.4 827.2,372.8 833.6,377.3 841.5,379.4" fill="none" stroke="#00008c" stroke-width="3" stroke-linejoin="round"/>
<line x1="349.3" y1="380.4" x2="354.6" y2="380.4" stroke="#ff0000" stroke-width="1.5"/>
<line x1="355.6" y1="382.5" x2="361.0" y2="382.5" stroke="#ff0000" stroke-width="1.5"/>
<line x1="362.0" y1="381.5" x2="373.6" y2="381.5" stroke="#ff0000" stroke-width="1.5"/>
<line x1="374.6" y1="383.3" x2="380.0" y2="383.3" stroke="#ff0000" stroke-width="1.5"/>
<line x1="381.0" y1="380.4" x2="387.0" y2="380.4" stroke="#ff0000" stroke-width="1.5"/>
<line x1="388.0" y1="378.4" x2="393.3" y2="378.4" stroke="#ff0000" stroke-width="1.5"/>
<line x1="394.3" y1="377.3" x2="406.0" y2="377.3" stroke="#ff0000" stroke-width="1.5"/>
<line x1="407.0" y1="374.2" x2="418.6" y2="374.2" stroke="#ff0000" stroke-width="1.5"/>
<line x1="419.6" y1="372.2" x2="431.3" y2="372.2" stroke="#ff0000" stroke-width="1.5"/>
<line x1="432.3" y1="368.9" x2="444.0" y2="368.9" stroke="#ff0000" stroke-width="1.5"/>
<line x1="445.0" y1="367.2" x2="451.0" y2="367.2" stroke="#ff0000" stroke-width="1.5"/>
<line x1="452.0" y1="365.3" x2="456.6" y2="365.3" stroke="#ff0000" stroke-width="1.5"/>
<line x1="457.6" y1="362.5" x2="463.0" y2="362.5" stroke="#ff0000" stroke-width="1.5"/>
<line x1="464.0" y1="359.3" x2="473.5" y2="359.3" stroke="#ff0000" stroke-width="1.5"/>
<line x1="474.5" y1="359.3" x2="475.9" y2="359.3" stroke="#ff0000" stroke-width="1.5"/>
<line x1="476.9" y1="357.3" x2="494.9" y2="357.3" stroke="#ff0000" stroke-width="1.5"/>
<line x1="495.9" y1="361.4" x2="502.0" y2="361.4" stroke="#ff0000" stroke-width="1.5"/>
<line x1="503.0" y1="368.3" x2="527.3" y2="368.3" stroke="#ff0000" stroke-width="1.5"/>
<line x1="528.3" y1="369.3" x2="539.9" y2="369.3" stroke="#ff0000" stroke-width="1.5"/>
<line x1="540.9" y1="368.3" x2="558.9" y2="368.3" stroke="#ff0000" stroke-width="1.5"/>
<line x1="559.9" y1="370.3" x2="566.0" y2="370.3" stroke="#ff0000" stroke-width="1.5"/>
<line x1="567.0" y1="366.3" x2="572.3" y2="366.3" stroke="#ff0000" stroke-width="1.5"/>
<line x1="573.3" y1="367.5" x2="578.6" y2="367.5" stroke="#ff0000" stroke-width="1.5"/>
<line x1="579.6" y1="364.2" x2="585.0" y2="364.2" stroke="#ff0000" stroke-width="1.5"/>
<line x1="586.0" y1="367.5" x2="591.3" y2="367.5" stroke="#ff0000" stroke-width="1.5"/>
<line x1="592.3" y1="373.4" x2="597.9" y2="373.4" stroke="#ff0000" stroke-width="1.5"/>
<line x1="598.9" y1="365.3" x2="609.9" y2="365.3" stroke="#ff0000" stroke-width="1.5"/>
<line x1="610.9" y1="364.4" x2="616.9" y2="364.4" stroke="#ff0000" stroke-width="1.5"/>
<line x1="617.9" y1="360.4" x2="630.3" y2="360.4" stroke="#ff0000" stroke-width="1.5"/>
<line x1="631.3" y1="356.2" x2="635.9" y2="356.2" stroke="#ff0000" stroke-width="1.5"/>
<line x1="636.9" y1="355.5" x2="642.3" y2="355.5" stroke="#ff0000" stroke-width="1.5"/>
<line x1="643.3" y1="357.3" x2="648.6" y2="357.3" stroke="#ff0000" stroke-width="1.5"/>
<line x1="649.6" y1="359.3" x2="654.9" y2="359.3" stroke="#ff0000" stroke-width="1.5"/>
<line x1="655.9" y1="363.2" x2="661.9" y2="363.2" stroke="#ff0000" stroke-width="1.5"/>
<line x1="662.9" y1="366.3" x2="668.3" y2="366.3" stroke="#ff0000" stroke-width="1.5"/>
<line x1="669.3" y1="368.2" x2="674.6" y2="368.2" stroke="#ff0000" stroke-width="1.5"/>
<line x1="675.6" y1="364.4" x2="680.9" y2="364.4" stroke="#ff0000" stroke-width="1.5"/>
<line x1="681.9" y1="361.5" x2="687.3" y2="361.5" stroke="#ff0000" stroke-width="1.5"/>
<line x1="688.3" y1="352.3" x2="694.3" y2="352.3" stroke="#ff0000" stroke-width="1.5"/>
<line x1="695.3" y1="348.5" x2="700.6" y2="348.5" stroke="#ff0000" stroke-width="1.5"/>
<line x1="701.6" y1="345.2" x2="706.3" y2="345.2" stroke="#ff0000" stroke-width="1.5"/>
<line x1="707.3" y1="344.2" x2="712.6" y2="344.2" stroke="#ff0000" stroke-width="1.5"/>
<line x1="713.6" y1="342.4" x2="719.1" y2="342.4" stroke="#ff0000" stroke-width="1.5"/>
<line x1="720.1" y1="337.2" x2="725.5" y2="337.2" stroke="#ff0000" stroke-width="1.5"/>
<line x1="726.5" y1="334.4" x2="731.8" y2="334.4" stroke="#ff0000" stroke-width="1.5"/>
<line x1="732.8" y1="349.4" x2="738.1" y2="349.4" stroke="#ff0000" stroke-width="1.5"/>
<line x1="739.1" y1="335.4" x2="744.4" y2="335.4" stroke="#ff0000" stroke-width="1.5"/>
<line x1="745.4" y1="334.4" x2="750.8" y2="334.4" stroke="#ff0000" stroke-width="1.5"/>
<line x1="751.8" y1="331.4" x2="763.4" y2="331.4" stroke="#ff0000" stroke-width="1.5"/>
<line x1="764.4" y1="336.2" x2="769.8" y2="336.2" stroke="#ff0000" stroke-width="1.5"/>
<line x1="770.8" y1="335.4" x2="776.8" y2="335.4" stroke="#ff0000" stroke-width="1.5"/>
<line x1="777.8" y1="332.3" x2="782.4" y2="332.3" stroke="#ff0000" stroke-width="1.5"/>
<line x1="783.4" y1="333.3" x2="788.8" y2="333.3" stroke="#ff0000" stroke-width="1.5"/>
<line x1="789.8" y1="334.3" x2="795.1" y2="334.3" stroke="#ff0000" stroke-width="1.5"/>
<line x1="796.1" y1="333.3" x2="801.4" y2="333.3" stroke="#ff0000" stroke-width="1.5"/>
<line x1="802.4" y1="338.2" x2="807.7" y2="338.2" stroke="#ff0000" stroke-width="1.5"/>
<line x1="808.7" y1="344.2" x2="814.8" y2="344.2" stroke="#ff0000" stroke-width="1.5"/>
<line x1="815.8" y1="353.4" x2="833.8" y2="353.4" stroke="#ff0000" stroke-width="1.5"/>
<line x1="834.8" y1="362.4" x2="841.5" y2="362.4" stroke="#ff0000" stroke-width="1.5"/>
</g>
<line x1="351.5" y1="410.3" x2="347.8" y2="418.8" stroke="#0a0aa8" stroke-width="1.8"/>
<polygon points="346.1,422.7 345.5,416.7 350.8,419.1" fill="#0a0aa8"/>
<line x1="358.2" y1="410.4" x2="354.1" y2="418.8" stroke="#0a0aa8" stroke-width="1.8"/>
<polygon points="352.2,422.6 351.9,416.6 357.1,419.2" fill="#0a0aa8"/>
<line x1="363.4" y1="410.0" x2="360.9" y2="419.0" stroke="#0a0aa8" stroke-width="1.8"/>
<polygon points="359.7,423.0 358.4,417.2 363.9,418.8" fill="#0a0aa8"/>
<line x1="370.3" y1="410.2" x2="367.1" y2="418.9" stroke="#0a0aa8" stroke-width="1.8"/>
<polygon points="365.7,422.8 364.7,417.0 370.2,418.9" fill="#0a0aa8"/>
<line x1="379.0" y1="411.6" x2="372.6" y2="418.4" stroke="#0a0aa8" stroke-width="1.8"/>
<polygon points="369.8,421.4 371.2,415.7 375.4,419.6" fill="#0a0aa8"/>
<line x1="386.2" y1="420.5" x2="378.7" y2="415.0" stroke="#0a0aa8" stroke-width="1.8"/>
<polygon points="375.3,412.5 381.2,413.2 377.8,417.9" fill="#0a0aa8"/>
<line x1="389.8" y1="422.7" x2="386.2" y2="414.2" stroke="#0a0aa8" stroke-width="1.8"/>
<polygon points="384.5,410.3 389.2,413.9 383.9,416.2" fill="#0a0aa8"/>
<line x1="399.1" y1="420.4" x2="391.5" y2="415.0" stroke="#0a0aa8" stroke-width="1.8"/>
<polygon points="388.0,412.6 393.9,413.2 390.6,418.0" fill="#0a0aa8"/>
<line x1="404.5" y1="421.4" x2="398.2" y2="414.6" stroke="#0a0aa8" stroke-width="1.8"/>
<polygon points="395.3,411.6 401.0,413.4 396.8,417.3" fill="#0a0aa8"/>
<line x1="410.2" y1="422.0" x2="404.9" y2="414.4" stroke="#0a0aa8" stroke-width="1.8"/>
<polygon points="402.5,411.0 407.8,413.6 403.1,416.9" fill="#0a0aa8"/>
<line x1="415.6" y1="422.6" x2="411.6" y2="414.2" stroke="#0a0aa8" stroke-width="1.8"/>
<polygon points="409.9,410.4 414.7,413.9 409.4,416.3" fill="#0a0aa8"/>
<line x1="421.3" y1="422.9" x2="418.3" y2="414.1" stroke="#0a0aa8" stroke-width="1.8"/>
<polygon points="416.9,410.1 421.3,414.1 415.9,416.0" fill="#0a0aa8"/>
<line x1="427.1" y1="423.0" x2="424.9" y2="414.0" stroke="#0a0aa8" stroke-width="1.8"/>
<polygon points="423.9,410.0 427.9,414.3 422.3,415.7" fill="#0a0aa8"/>
<line x1="435.5" y1="422.2" x2="430.5" y2="414.3" stroke="#0a0aa8" stroke-width="1.8"/>
<polygon points="428.3,410.8 433.5,413.6 428.6,416.7" fill="#0a0aa8"/>
<line x1="441.9" y1="422.2" x2="436.9" y2="414.3" stroke="#0a0aa8" stroke-width="1.8"/>
<polygon points="434.7,410.8 439.9,413.6 435.0,416.7" fill="#0a0aa8"/>
<line x1="448.3" y1="422.2" x2="443.3" y2="414.3" stroke="#0a0aa8" stroke-width="1.8"/>
<polygon points="441.1,410.8 446.3,413.6 441.4,416.7" fill="#0a0aa8"/>
<line x1="454.9" y1="422.0" x2="449.6" y2="414.4" stroke="#0a0aa8" stroke-width="1.8"/>
<polygon points="447.2,411.0 452.6,413.6 447.8,416.9" fill="#0a0aa8"/>
<line x1="460.9" y1="422.3" x2="456.2" y2="414.3" stroke="#0a0aa8" stroke-width="1.8"/>
<polygon points="454.0,410.7 459.2,413.7 454.2,416.7" fill="#0a0aa8"/>
<line x1="467.3" y1="422.3" x2="462.5" y2="414.3" stroke="#0a0aa8" stroke-width="1.8"/>
<polygon points="460.4,410.7 465.5,413.7 460.6,416.7" fill="#0a0aa8"/>
<line x1="473.7" y1="422.3" x2="468.9" y2="414.3" stroke="#0a0aa8" stroke-width="1.8"/>
<polygon points="466.8,410.7 471.9,413.7 467.0,416.7" fill="#0a0aa8"/>
<line x1="479.3" y1="422.7" x2="475.6" y2="414.2" stroke="#0a0aa8" stroke-width="1.8"/>
<polygon points="474.0,410.3 478.7,413.9 473.4,416.2" fill="#0a0aa8"/>
<line x1="486.2" y1="422.5" x2="481.8" y2="414.2" stroke="#0a0aa8" stroke-width="1.8"/>
<polygon points="479.9,410.5 484.9,413.8 479.7,416.5" fill="#0a0aa8"/>
<line x1="492.1" y1="422.7" x2="488.4" y2="414.2" stroke="#0a0aa8" stroke-width="1.8"/>
<polygon points="486.8,410.3 491.5,413.9 486.1,416.2" fill="#0a0aa8"/>
<line x1="498.5" y1="422.7" x2="494.8" y2="414.2" stroke="#0a0aa8" stroke-width="1.8"/>
<polygon points="493.2,410.3 497.9,413.9 492.5,416.2" fill="#0a0aa8"/>
<line x1="505.4" y1="422.5" x2="501.0" y2="414.2" stroke="#0a0aa8" stroke-width="1.8"/>
<polygon points="499.0,410.5 504.0,413.8 498.9,416.5" fill="#0a0aa8"/>
<line x1="511.7" y1="422.5" x2="507.4" y2="414.2" stroke="#0a0aa8" stroke-width="1.8"/>
<polygon points="505.5,410.5 510.5,413.8 505.3,416.4" fill="#0a0aa8"/>
<line x1="516.9" y1="423.0" x2="514.3" y2="414.0" stroke="#0a0aa8" stroke-width="1.8"/>
<polygon points="513.1,410.0 517.4,414.2 511.8,415.8" fill="#0a0aa8"/>
<line x1="521.4" y1="423.2" x2="521.4" y2="413.9" stroke="#0a0aa8" stroke-width="1.8"/>
<polygon points="521.4,409.8 524.3,414.9 518.5,414.9" fill="#0a0aa8"/>
<line x1="526.5" y1="423.1" x2="528.3" y2="414.0" stroke="#0a0aa8" stroke-width="1.8"/>
<polygon points="529.1,409.9 530.9,415.5 525.2,414.4" fill="#0a0aa8"/>
<line x1="530.9" y1="422.4" x2="535.4" y2="414.3" stroke="#0a0aa8" stroke-width="1.8"/>
<polygon points="537.4,410.6 537.5,416.6 532.4,413.7" fill="#0a0aa8"/>
<line x1="536.8" y1="421.2" x2="541.7" y2="415.1" stroke="#0a0aa8" stroke-width="1.8"/>
<polygon points="544.3,411.8 543.3,417.7 538.8,414.1" fill="#0a0aa8"/>
<line x1="542.6" y1="420.7" x2="548.2" y2="415.2" stroke="#0a0aa8" stroke-width="1.8"/>
<polygon points="551.3,412.3 549.5,418.0 545.5,413.9" fill="#0a0aa8"/>
<line x1="548.0" y1="419.1" x2="555.0" y2="415.7" stroke="#0a0aa8" stroke-width="1.8"/>
<polygon points="558.7,413.9 555.3,418.8 552.8,413.5" fill="#0a0aa8"/>
<line x1="553.9" y1="414.9" x2="561.5" y2="417.0" stroke="#0a0aa8" stroke-width="1.8"/>
<polygon points="565.5,418.1 559.8,419.5 561.3,413.9" fill="#0a0aa8"/>
<line x1="562.4" y1="411.8" x2="567.3" y2="417.9" stroke="#0a0aa8" stroke-width="1.8"/>
<polygon points="569.9,421.2 564.4,418.9 568.9,415.3" fill="#0a0aa8"/>
<line x1="569.0" y1="411.6" x2="573.6" y2="418.0" stroke="#0a0aa8" stroke-width="1.8"/>
<polygon points="576.0,421.4 570.6,418.9 575.3,415.4" fill="#0a0aa8"/>
<line x1="575.1" y1="411.8" x2="580.0" y2="417.9" stroke="#0a0aa8" stroke-width="1.8"/>
<polygon points="582.7,421.2 577.2,418.9 581.7,415.3" fill="#0a0aa8"/>
<line x1="580.8" y1="412.6" x2="586.7" y2="417.7" stroke="#0a0aa8" stroke-width="1.8"/>
<polygon points="589.8,420.4 584.0,419.2 587.8,414.8" fill="#0a0aa8"/>
<line x1="585.8" y1="415.4" x2="593.5" y2="416.8" stroke="#0a0aa8" stroke-width="1.8"/>
<polygon points="597.6,417.6 591.9,419.5 593.0,413.8" fill="#0a0aa8"/>
<line x1="592.1" y1="415.7" x2="599.9" y2="416.8" stroke="#0a0aa8" stroke-width="1.8"/>
<polygon points="604.0,417.3 598.5,419.5 599.3,413.7" fill="#0a0aa8"/>
<line x1="598.5" y1="416.0" x2="606.3" y2="416.7" stroke="#0a0aa8" stroke-width="1.8"/>
<polygon points="610.5,417.0 605.0,419.5 605.5,413.7" fill="#0a0aa8"/>
<line x1="604.9" y1="417.0" x2="612.7" y2="416.3" stroke="#0a0aa8" stroke-width="1.8"/>
<polygon points="616.8,416.0 611.9,419.3 611.4,413.5" fill="#0a0aa8"/>
<line x1="611.6" y1="418.6" x2="619.0" y2="415.9" stroke="#0a0aa8" stroke-width="1.8"/>
<polygon points="622.9,414.4 619.0,419.0 617.0,413.5" fill="#0a0aa8"/>
<line x1="618.3" y1="419.2" x2="625.3" y2="415.7" stroke="#0a0aa8" stroke-width="1.8"/>
<polygon points="629.0,413.8 625.7,418.7 623.1,413.6" fill="#0a0aa8"/>
<line x1="624.9" y1="419.6" x2="631.6" y2="415.6" stroke="#0a0aa8" stroke-width="1.8"/>
<polygon points="635.2,413.4 632.2,418.6 629.2,413.6" fill="#0a0aa8"/>
<line x1="631.3" y1="419.6" x2="638.0" y2="415.6" stroke="#0a0aa8" stroke-width="1.8"/>
<polygon points="641.6,413.4 638.6,418.6 635.6,413.6" fill="#0a0aa8"/>
<line x1="637.7" y1="419.6" x2="644.4" y2="415.6" stroke="#0a0aa8" stroke-width="1.8"/>
<polygon points="648.0,413.4 645.0,418.6 642.0,413.6" fill="#0a0aa8"/>
<line x1="644.1" y1="419.6" x2="650.8" y2="415.6" stroke="#0a0aa8" stroke-width="1.8"/>
<polygon points="654.4,413.4 651.4,418.6 648.4,413.6" fill="#0a0aa8"/>
<line x1="649.6" y1="416.5" x2="657.4" y2="416.5" stroke="#0a0aa8" stroke-width="1.8"/>
<polygon points="661.6,416.5 656.4,419.4 656.4,413.6" fill="#0a0aa8"/>
<line x1="656.1" y1="417.5" x2="663.8" y2="416.2" stroke="#0a0aa8" stroke-width="1.8"/>
<polygon points="667.9,415.5 663.3,419.2 662.3,413.5" fill="#0a0aa8"/>
<line x1="662.6" y1="418.1" x2="670.1" y2="416.0" stroke="#0a0aa8" stroke-width="1.8"/>
<polygon points="674.2,414.9 669.9,419.1 668.4,413.5" fill="#0a0aa8"/>
<line x1="669.0" y1="418.1" x2="676.5" y2="416.0" stroke="#0a0aa8" stroke-width="1.8"/>
<polygon points="680.6,414.9 676.3,419.1 674.8,413.5" fill="#0a0aa8"/>
<line x1="675.3" y1="417.5" x2="683.0" y2="416.2" stroke="#0a0aa8" stroke-width="1.8"/>
<polygon points="687.1,415.5 682.5,419.2 681.5,413.5" fill="#0a0aa8"/>
<line x1="681.6" y1="417.0" x2="689.4" y2="416.3" stroke="#0a0aa8" stroke-width="1.8"/>
<polygon points="693.6,416.0 688.6,419.3 688.1,413.5" fill="#0a0aa8"/>
<line x1="688.0" y1="416.5" x2="695.8" y2="416.5" stroke="#0a0aa8" stroke-width="1.8"/>
<polygon points="700.0,416.5 694.8,419.4 694.8,413.6" fill="#0a0aa8"/>
<line x1="694.4" y1="416.5" x2="702.2" y2="416.5" stroke="#0a0aa8" stroke-width="1.8"/>
<polygon points="706.4,416.5 701.2,419.4 701.2,413.6" fill="#0a0aa8"/>
<line x1="700.8" y1="415.5" x2="708.5" y2="416.8" stroke="#0a0aa8" stroke-width="1.8"/>
<polygon points="712.7,417.5 707.0,419.5 708.0,413.8" fill="#0a0aa8"/>
<line x1="707.5" y1="414.4" x2="714.8" y2="417.1" stroke="#0a0aa8" stroke-width="1.8"/>
<polygon points="718.8,418.6 712.9,419.5 714.9,414.0" fill="#0a0aa8"/>
<line x1="713.9" y1="414.4" x2="721.2" y2="417.1" stroke="#0a0aa8" stroke-width="1.8"/>
<polygon points="725.2,418.6 719.3,419.5 721.3,414.0" fill="#0a0aa8"/>
<line x1="720.3" y1="414.4" x2="727.6" y2="417.1" stroke="#0a0aa8" stroke-width="1.8"/>
<polygon points="731.6,418.6 725.7,419.5 727.7,414.0" fill="#0a0aa8"/>
<line x1="726.4" y1="415.5" x2="734.1" y2="416.8" stroke="#0a0aa8" stroke-width="1.8"/>
<polygon points="738.2,417.5 732.6,419.5 733.6,413.8" fill="#0a0aa8"/>
<line x1="732.7" y1="416.5" x2="740.5" y2="416.5" stroke="#0a0aa8" stroke-width="1.8"/>
<polygon points="744.7,416.5 739.5,419.4 739.5,413.6" fill="#0a0aa8"/>
<line x1="739.1" y1="416.5" x2="746.9" y2="416.5" stroke="#0a0aa8" stroke-width="1.8"/>
<polygon points="751.1,416.5 745.9,419.4 745.9,413.6" fill="#0a0aa8"/>
<line x1="745.5" y1="416.5" x2="753.3" y2="416.5" stroke="#0a0aa8" stroke-width="1.8"/>
<polygon points="757.5,416.5 752.3,419.4 752.3,413.6" fill="#0a0aa8"/>
<line x1="751.9" y1="416.5" x2="759.7" y2="416.5" stroke="#0a0aa8" stroke-width="1.8"/>
<polygon points="763.9,416.5 758.7,419.4 758.7,413.6" fill="#0a0aa8"/>
<line x1="758.3" y1="416.5" x2="766.1" y2="416.5" stroke="#0a0aa8" stroke-width="1.8"/>
<polygon points="770.3,416.5 765.1,419.4 765.1,413.6" fill="#0a0aa8"/>
<line x1="764.7" y1="416.5" x2="772.5" y2="416.5" stroke="#0a0aa8" stroke-width="1.8"/>
<polygon points="776.7,416.5 771.5,419.4 771.5,413.6" fill="#0a0aa8"/>
<line x1="771.1" y1="416.5" x2="778.9" y2="416.5" stroke="#0a0aa8" stroke-width="1.8"/>
<polygon points="783.1,416.5 777.9,419.4 777.9,413.6" fill="#0a0aa8"/>
<line x1="777.5" y1="416.5" x2="785.3" y2="416.5" stroke="#0a0aa8" stroke-width="1.8"/>
<polygon points="789.5,416.5 784.3,419.4 784.3,413.6" fill="#0a0aa8"/>
<line x1="783.8" y1="416.5" x2="791.6" y2="416.5" stroke="#0a0aa8" stroke-width="1.8"/>
<polygon points="795.8,416.5 790.6,419.4 790.6,413.6" fill="#0a0aa8"/>
<line x1="790.3" y1="417.5" x2="798.0" y2="416.2" stroke="#0a0aa8" stroke-width="1.8"/>
<polygon points="802.1,415.5 797.5,419.2 796.5,413.5" fill="#0a0aa8"/>
<line x1="797.0" y1="418.6" x2="804.3" y2="415.9" stroke="#0a0aa8" stroke-width="1.8"/>
<polygon points="808.3,414.4 804.4,419.0 802.4,413.5" fill="#0a0aa8"/>
<line x1="803.6" y1="419.0" x2="810.7" y2="415.7" stroke="#0a0aa8" stroke-width="1.8"/>
<polygon points="814.5,414.0 811.0,418.8 808.5,413.5" fill="#0a0aa8"/>
<line x1="810.5" y1="419.9" x2="816.9" y2="415.5" stroke="#0a0aa8" stroke-width="1.8"/>
<polygon points="820.3,413.1 817.7,418.4 814.4,413.7" fill="#0a0aa8"/>
<line x1="817.2" y1="420.4" x2="823.2" y2="415.3" stroke="#0a0aa8" stroke-width="1.8"/>
<polygon points="826.4,412.6 824.3,418.2 820.6,413.8" fill="#0a0aa8"/>
<line x1="824.0" y1="420.7" x2="829.5" y2="415.2" stroke="#0a0aa8" stroke-width="1.8"/>
<polygon points="832.4,412.3 830.8,418.0 826.7,413.9" fill="#0a0aa8"/>
<line x1="830.3" y1="420.7" x2="835.9" y2="415.2" stroke="#0a0aa8" stroke-width="1.8"/>
<polygon points="838.8,412.3 837.2,418.0 833.1,413.9" fill="#0a0aa8"/>
<line x1="836.7" y1="420.7" x2="842.3" y2="415.2" stroke="#0a0aa8" stroke-width="1.8"/>
<polygon points="845.2,412.3 843.6,418.0 839.5,413.9" fill="#0a0aa8"/>
<g clip-path="url(#cC)">
<circle cx="419.1" cy="447.4" r="2.6" fill="#b01e1e"/>
<circle cx="425.5" cy="445.3" r="2.6" fill="#b01e1e"/>
<circle cx="431.8" cy="445.3" r="2.6" fill="#b01e1e"/>
<circle cx="438.1" cy="445.3" r="2.6" fill="#b01e1e"/>
<circle cx="444.5" cy="445.3" r="2.6" fill="#b01e1e"/>
<circle cx="450.8" cy="445.3" r="2.6" fill="#b01e1e"/>
<circle cx="457.1" cy="445.3" r="2.6" fill="#b01e1e"/>
<circle cx="463.5" cy="445.3" r="2.6" fill="#b01e1e"/>
<circle cx="469.8" cy="445.3" r="2.6" fill="#b01e1e"/>
<circle cx="476.4" cy="447.4" r="2.6" fill="#b01e1e"/>
<circle cx="482.8" cy="447.4" r="2.6" fill="#b01e1e"/>
<circle cx="489.1" cy="447.4" r="2.6" fill="#b01e1e"/>
<circle cx="495.4" cy="447.4" r="2.6" fill="#b01e1e"/>
<circle cx="501.8" cy="447.4" r="2.6" fill="#b01e1e"/>
<circle cx="508.5" cy="447.4" r="2.6" fill="#b01e1e"/>
<circle cx="515.1" cy="448.3" r="2.6" fill="#b01e1e"/>
<circle cx="521.5" cy="448.3" r="2.6" fill="#b01e1e"/>
<circle cx="527.8" cy="448.3" r="2.6" fill="#b01e1e"/>
<circle cx="534.1" cy="449.8" r="2.6" fill="#b01e1e"/>
<circle cx="540.4" cy="470.3" r="2.6" fill="#b01e1e"/>
<circle cx="546.8" cy="448.3" r="2.6" fill="#b01e1e"/>
<circle cx="553.1" cy="448.3" r="2.6" fill="#b01e1e"/>
<circle cx="559.4" cy="448.3" r="2.6" fill="#b01e1e"/>
<circle cx="566.2" cy="448.3" r="2.6" fill="#b01e1e"/>
<circle cx="572.4" cy="448.3" r="2.6" fill="#b01e1e"/>
<circle cx="579.1" cy="449.8" r="2.6" fill="#b01e1e"/>
<circle cx="585.5" cy="448.3" r="2.6" fill="#b01e1e"/>
<circle cx="591.8" cy="454.8" r="2.6" fill="#b01e1e"/>
<circle cx="598.2" cy="449.8" r="2.6" fill="#b01e1e"/>
<circle cx="604.5" cy="450.9" r="2.6" fill="#b01e1e"/>
<circle cx="610.8" cy="451.2" r="2.6" fill="#b01e1e"/>
<circle cx="617.4" cy="449.8" r="2.6" fill="#b01e1e"/>
<circle cx="623.8" cy="449.8" r="2.6" fill="#b01e1e"/>
<circle cx="630.1" cy="451.2" r="2.6" fill="#b01e1e"/>
<circle cx="636.4" cy="451.2" r="2.6" fill="#b01e1e"/>
<circle cx="642.8" cy="451.2" r="2.6" fill="#b01e1e"/>
<circle cx="649.1" cy="451.2" r="2.6" fill="#b01e1e"/>
<circle cx="655.4" cy="449.8" r="2.6" fill="#b01e1e"/>
<circle cx="662.0" cy="449.8" r="2.6" fill="#b01e1e"/>
<circle cx="668.5" cy="449.8" r="2.6" fill="#b01e1e"/>
<circle cx="674.8" cy="449.8" r="2.6" fill="#b01e1e"/>
<circle cx="681.4" cy="449.8" r="2.6" fill="#b01e1e"/>
<circle cx="687.8" cy="449.8" r="2.6" fill="#b01e1e"/>
<circle cx="694.1" cy="451.2" r="2.6" fill="#b01e1e"/>
<circle cx="700.4" cy="451.2" r="2.6" fill="#b01e1e"/>
<circle cx="706.8" cy="452.9" r="2.6" fill="#b01e1e"/>
<circle cx="713.1" cy="467.5" r="2.6" fill="#b01e1e"/>
<circle cx="719.6" cy="464.2" r="2.6" fill="#b01e1e"/>
<circle cx="726.0" cy="462.8" r="2.6" fill="#b01e1e"/>
<circle cx="732.3" cy="462.8" r="2.6" fill="#b01e1e"/>
<circle cx="738.6" cy="463.5" r="2.6" fill="#b01e1e"/>
<circle cx="744.9" cy="467.5" r="2.6" fill="#b01e1e"/>
<circle cx="751.3" cy="468.5" r="2.6" fill="#b01e1e"/>
<circle cx="757.6" cy="468.5" r="2.6" fill="#b01e1e"/>
<circle cx="763.9" cy="469.4" r="2.6" fill="#b01e1e"/>
<circle cx="770.3" cy="471.7" r="2.6" fill="#b01e1e"/>
<circle cx="776.6" cy="474.1" r="2.6" fill="#b01e1e"/>
<circle cx="782.9" cy="471.7" r="2.6" fill="#b01e1e"/>
<circle cx="790.0" cy="474.8" r="2.6" fill="#b01e1e"/>
<circle cx="796.3" cy="482.5" r="2.6" fill="#b01e1e"/>
<circle cx="802.3" cy="485.3" r="2.6" fill="#b01e1e"/>
<circle cx="821.6" cy="449.8" r="2.6" fill="#b01e1e"/>
<circle cx="827.9" cy="449.8" r="2.6" fill="#b01e1e"/>
<circle cx="834.3" cy="449.8" r="2.6" fill="#b01e1e"/>
<circle cx="840.6" cy="449.8" r="2.6" fill="#b01e1e"/>
<circle cx="470.1" cy="499.5" r="2.6" fill="#505050"/>
<circle cx="470.1" cy="502.7" r="2.6" fill="#808080"/>
<circle cx="470.1" cy="505.9" r="2.6" fill="#b0b0b0"/>
<circle cx="470.1" cy="509.1" r="2.6" fill="#e0e0e0"/>
<circle cx="476.4" cy="499.5" r="2.6" fill="#505050"/>
<circle cx="476.4" cy="502.7" r="2.6" fill="#808080"/>
<circle cx="476.4" cy="505.9" r="2.6" fill="#b0b0b0"/>
<circle cx="476.4" cy="509.1" r="2.6" fill="#e0e0e0"/>
<circle cx="482.8" cy="499.5" r="2.6" fill="#505050"/>
<circle cx="482.8" cy="502.7" r="2.6" fill="#808080"/>
<circle cx="482.8" cy="505.9" r="2.6" fill="#b0b0b0"/>
<circle cx="482.8" cy="509.1" r="2.6" fill="#e0e0e0"/>
<circle cx="489.1" cy="499.5" r="2.6" fill="#505050"/>
<circle cx="489.1" cy="502.7" r="2.6" fill="#808080"/>
<circle cx="489.1" cy="505.9" r="2.6" fill="#b0b0b0"/>
<circle cx="489.1" cy="509.1" r="2.6" fill="#e0e0e0"/>
<circle cx="495.4" cy="507.5" r="2.6" fill="#505050"/>
<circle cx="495.4" cy="510.7" r="2.6" fill="#808080"/>
<circle cx="501.8" cy="509.5" r="2.6" fill="#505050"/>
<circle cx="508.5" cy="510.9" r="2.6" fill="#505050"/>
<circle cx="521.5" cy="508.5" r="2.6" fill="#505050"/>
<circle cx="521.5" cy="511.7" r="2.6" fill="#808080"/>
<circle cx="566.2" cy="507.1" r="2.6" fill="#505050"/>
<circle cx="566.2" cy="510.3" r="2.6" fill="#808080"/>
<circle cx="572.4" cy="499.5" r="2.6" fill="#505050"/>
<circle cx="572.4" cy="502.7" r="2.6" fill="#808080"/>
<circle cx="572.4" cy="505.9" r="2.6" fill="#b0b0b0"/>
<circle cx="572.4" cy="509.1" r="2.6" fill="#e0e0e0"/>
<circle cx="579.1" cy="505.0" r="2.6" fill="#505050"/>
<circle cx="579.1" cy="508.2" r="2.6" fill="#808080"/>
<circle cx="579.1" cy="511.4" r="2.6" fill="#b0b0b0"/>
<circle cx="585.5" cy="505.7" r="2.6" fill="#505050"/>
<circle cx="585.5" cy="508.9" r="2.6" fill="#808080"/>
<circle cx="591.8" cy="499.5" r="2.6" fill="#505050"/>
<circle cx="591.8" cy="502.7" r="2.6" fill="#808080"/>
<circle cx="591.8" cy="505.9" r="2.6" fill="#b0b0b0"/>
<circle cx="591.8" cy="509.1" r="2.6" fill="#e0e0e0"/>
<circle cx="591.1" cy="499.5" r="2.6" fill="#505050"/>
<circle cx="591.1" cy="502.7" r="2.6" fill="#808080"/>
<circle cx="591.1" cy="505.9" r="2.6" fill="#b0b0b0"/>
<circle cx="591.1" cy="509.1" r="2.6" fill="#e0e0e0"/>
<circle cx="598.2" cy="503.9" r="2.6" fill="#505050"/>
<circle cx="598.2" cy="507.1" r="2.6" fill="#808080"/>
<circle cx="598.2" cy="510.3" r="2.6" fill="#b0b0b0"/>
<circle cx="604.5" cy="502.5" r="2.6" fill="#505050"/>
<circle cx="604.5" cy="505.7" r="2.6" fill="#808080"/>
<circle cx="604.5" cy="508.9" r="2.6" fill="#b0b0b0"/>
<circle cx="610.8" cy="508.1" r="2.6" fill="#505050"/>
<circle cx="610.8" cy="511.3" r="2.6" fill="#808080"/>
<circle cx="617.4" cy="509.2" r="2.6" fill="#505050"/>
<circle cx="623.8" cy="509.2" r="2.6" fill="#505050"/>
<circle cx="630.1" cy="503.6" r="2.6" fill="#505050"/>
<circle cx="630.1" cy="506.8" r="2.6" fill="#808080"/>
<circle cx="630.1" cy="510.0" r="2.6" fill="#b0b0b0"/>
<circle cx="636.4" cy="503.6" r="2.6" fill="#505050"/>
<circle cx="636.4" cy="506.8" r="2.6" fill="#808080"/>
<circle cx="636.4" cy="510.0" r="2.6" fill="#b0b0b0"/>
<circle cx="642.8" cy="501.5" r="2.6" fill="#505050"/>
<circle cx="642.8" cy="504.7" r="2.6" fill="#808080"/>
<circle cx="642.8" cy="507.9" r="2.6" fill="#b0b0b0"/>
<circle cx="642.8" cy="511.1" r="2.6" fill="#e0e0e0"/>
<circle cx="649.1" cy="499.5" r="2.6" fill="#505050"/>
<circle cx="649.1" cy="502.7" r="2.6" fill="#808080"/>
<circle cx="649.1" cy="505.9" r="2.6" fill="#b0b0b0"/>
<circle cx="649.1" cy="509.1" r="2.6" fill="#e0e0e0"/>
<circle cx="655.4" cy="499.5" r="2.6" fill="#505050"/>
<circle cx="655.4" cy="502.7" r="2.6" fill="#808080"/>
<circle cx="655.4" cy="505.9" r="2.6" fill="#b0b0b0"/>
<circle cx="655.4" cy="509.1" r="2.6" fill="#e0e0e0"/>
<circle cx="662.0" cy="499.5" r="2.6" fill="#505050"/>
<circle cx="662.0" cy="502.7" r="2.6" fill="#808080"/>
<circle cx="662.0" cy="505.9" r="2.6" fill="#b0b0b0"/>
<circle cx="662.0" cy="509.1" r="2.6" fill="#e0e0e0"/>
<circle cx="668.5" cy="502.2" r="2.6" fill="#505050"/>
<circle cx="668.5" cy="505.4" r="2.6" fill="#808080"/>
<circle cx="668.5" cy="508.6" r="2.6" fill="#b0b0b0"/>
<circle cx="668.5" cy="511.8" r="2.6" fill="#e0e0e0"/>
<circle cx="700.4" cy="499.5" r="2.6" fill="#505050"/>
<circle cx="700.4" cy="502.7" r="2.6" fill="#808080"/>
<circle cx="700.4" cy="505.9" r="2.6" fill="#b0b0b0"/>
<circle cx="700.4" cy="509.1" r="2.6" fill="#e0e0e0"/>
<circle cx="706.8" cy="509.9" r="2.6" fill="#505050"/>
<circle cx="470.1" cy="493.8" r="2.6" fill="#000"/>
<circle cx="476.4" cy="495.6" r="2.6" fill="#000"/>
<circle cx="482.8" cy="488.2" r="2.6" fill="#000"/>
<circle cx="489.1" cy="484.9" r="2.6" fill="#000"/>
<circle cx="495.4" cy="504.0" r="2.6" fill="#000"/>
<circle cx="501.8" cy="506.0" r="2.6" fill="#000"/>
<circle cx="508.5" cy="507.4" r="2.6" fill="#000"/>
<circle cx="515.1" cy="510.0" r="2.6" fill="#000"/>
<circle cx="521.5" cy="505.0" r="2.6" fill="#000"/>
<circle cx="527.8" cy="509.3" r="2.6" fill="#000"/>
<circle cx="534.1" cy="510.2" r="2.6" fill="#000"/>
<circle cx="540.4" cy="510.7" r="2.6" fill="#000"/>
<circle cx="546.8" cy="510.7" r="2.6" fill="#000"/>
<circle cx="553.1" cy="510.7" r="2.6" fill="#000"/>
<circle cx="559.4" cy="510.7" r="2.6" fill="#000"/>
<circle cx="566.2" cy="503.6" r="2.6" fill="#000"/>
<circle cx="572.4" cy="491.0" r="2.6" fill="#000"/>
<circle cx="579.1" cy="501.5" r="2.6" fill="#000"/>
<circle cx="585.5" cy="502.2" r="2.6" fill="#000"/>
<circle cx="591.8" cy="495.6" r="2.6" fill="#000"/>
<circle cx="591.1" cy="495.6" r="2.6" fill="#000"/>
<circle cx="598.2" cy="500.4" r="2.6" fill="#000"/>
<circle cx="604.5" cy="499.0" r="2.6" fill="#000"/>
<circle cx="610.8" cy="504.6" r="2.6" fill="#000"/>
<circle cx="617.4" cy="505.7" r="2.6" fill="#000"/>
<circle cx="623.8" cy="505.7" r="2.6" fill="#000"/>
<circle cx="630.1" cy="500.1" r="2.6" fill="#000"/>
<circle cx="636.4" cy="500.1" r="2.6" fill="#000"/>
<circle cx="642.8" cy="498.0" r="2.6" fill="#000"/>
<circle cx="649.1" cy="495.2" r="2.6" fill="#000"/>
<circle cx="655.4" cy="493.1" r="2.6" fill="#000"/>
<circle cx="662.0" cy="494.2" r="2.6" fill="#000"/>
<circle cx="668.5" cy="498.7" r="2.6" fill="#000"/>
<circle cx="700.4" cy="495.9" r="2.6" fill="#000"/>
<circle cx="706.8" cy="506.4" r="2.6" fill="#000"/>
<circle cx="713.1" cy="509.3" r="2.6" fill="#000"/>
<circle cx="714.0" cy="508.6" r="2.6" fill="#000"/>
<circle cx="719.6" cy="510.7" r="2.6" fill="#000"/>
<circle cx="726.0" cy="510.0" r="2.6" fill="#000"/>
<circle cx="738.6" cy="493.1" r="2.6" fill="#000"/>
<circle cx="744.9" cy="504.3" r="2.6" fill="#000"/>
<circle cx="757.6" cy="510.7" r="2.6" fill="#000"/>
<circle cx="763.9" cy="510.7" r="2.6" fill="#000"/>
<circle cx="776.6" cy="481.1" r="2.6" fill="#000"/>
<circle cx="782.9" cy="481.1" r="2.6" fill="#000"/>
<circle cx="457.1" cy="453.0" r="2.6" fill="#a0a0a0"/>
<circle cx="450.8" cy="454.4" r="2.6" fill="#a0a0a0"/>
<circle cx="444.5" cy="454.4" r="2.6" fill="#a0a0a0"/>
<circle cx="438.1" cy="452.3" r="2.6" fill="#808080"/>
<circle cx="457.1" cy="469.9" r="2.6" fill="#d8d8d8"/>
<circle cx="463.5" cy="474.8" r="2.6" fill="#000"/>
<circle cx="469.8" cy="494.2" r="2.6" fill="#000"/>
<circle cx="463.5" cy="495.9" r="2.6" fill="#c8c8c8"/>
<circle cx="469.8" cy="500.1" r="2.6" fill="#606060"/>
<circle cx="399.5" cy="510.0" r="2.6" fill="#ffffff"/>
<circle cx="406.2" cy="509.7" r="2.6" fill="#d0d0d0"/>
<circle cx="412.8" cy="510.7" r="2.6" fill="#505050"/>
<circle cx="419.1" cy="510.7" r="2.6" fill="#909090"/>
<circle cx="425.5" cy="510.7" r="2.6" fill="#c8c8c8"/>
<circle cx="431.8" cy="510.7" r="2.6" fill="#d0d0d0"/>
<circle cx="438.1" cy="510.7" r="2.6" fill="#fff"/>
<circle cx="444.5" cy="510.7" r="2.6" fill="#fff"/>
<circle cx="450.8" cy="509.7" r="2.6" fill="#fff"/>
<circle cx="457.1" cy="508.6" r="2.6" fill="#fff"/>
<circle cx="463.5" cy="507.8" r="2.6" fill="#fff"/>
<circle cx="469.8" cy="507.8" r="2.6" fill="#fff"/>
<circle cx="674.8" cy="494.0" r="2.6" fill="#606060"/>
<circle cx="681.4" cy="495.0" r="2.6" fill="#909090"/>
<circle cx="687.8" cy="500.0" r="2.6" fill="#909090"/>
<circle cx="694.1" cy="499.6" r="2.6" fill="#707070"/>
<circle cx="674.8" cy="503.0" r="2.6" fill="#c8c8c8"/>
<circle cx="681.4" cy="505.0" r="2.6" fill="#c8c8c8"/>
<circle cx="656.0" cy="507.0" r="2.6" fill="#fff"/>
<circle cx="662.4" cy="506.0" r="2.6" fill="#fff"/>
<circle cx="668.5" cy="508.6" r="2.6" fill="#fff"/>
<circle cx="674.8" cy="508.6" r="2.6" fill="#fff"/>
<circle cx="681.4" cy="508.6" r="2.6" fill="#fff"/>
<circle cx="687.8" cy="510.0" r="2.6" fill="#fff"/>
<circle cx="694.1" cy="509.3" r="2.6" fill="#fff"/>
<circle cx="681.4" cy="455.8" r="2.6" fill="#707070"/>
<circle cx="687.8" cy="455.1" r="2.6" fill="#707070"/>
<circle cx="732.3" cy="484.6" r="2.6" fill="#606060"/>
<circle cx="732.3" cy="490.0" r="2.6" fill="#a0a0a0"/>
<circle cx="732.3" cy="501.2" r="2.6" fill="#d0d0d0"/>
<circle cx="738.6" cy="504.0" r="2.6" fill="#d0d0d0"/>
<circle cx="744.9" cy="510.7" r="2.6" fill="#606060"/>
<circle cx="751.3" cy="498.4" r="2.6" fill="#a0a0a0"/>
<circle cx="751.3" cy="507.1" r="2.6" fill="#d0d0d0"/>
<circle cx="770.3" cy="489.6" r="2.6" fill="#606060"/>
<circle cx="776.6" cy="490.5" r="2.6" fill="#606060"/>
<circle cx="789.3" cy="489.6" r="2.6" fill="#606060"/>
<circle cx="782.9" cy="490.5" r="2.6" fill="#a0a0a0"/>
<circle cx="795.6" cy="495.2" r="2.6" fill="#a0a0a0"/>
<circle cx="827.9" cy="497.3" r="2.6" fill="#a0a0a0"/>
<circle cx="770.3" cy="501.2" r="2.6" fill="#d0d0d0"/>
<circle cx="776.6" cy="502.2" r="2.6" fill="#d0d0d0"/>
<circle cx="802.3" cy="495.9" r="2.6" fill="#d0d0d0"/>
<circle cx="821.6" cy="495.9" r="2.6" fill="#d0d0d0"/>
<circle cx="834.3" cy="495.2" r="2.6" fill="#d0d0d0"/>
<circle cx="808.8" cy="485.3" r="2.6" fill="#a0a0a0"/>
<circle cx="815.3" cy="485.3" r="2.6" fill="#d0d0d0"/>
<circle cx="732.3" cy="510.0" r="2.6" fill="#fff"/>
<circle cx="738.6" cy="510.0" r="2.6" fill="#fff"/>
<circle cx="751.3" cy="510.7" r="2.6" fill="#fff"/>
<circle cx="770.3" cy="510.7" r="2.6" fill="#fff"/>
<circle cx="776.6" cy="510.7" r="2.6" fill="#fff"/>
<circle cx="782.9" cy="510.7" r="2.6" fill="#fff"/>
<circle cx="789.3" cy="510.7" r="2.6" fill="#fff"/>
<circle cx="795.6" cy="509.3" r="2.6" fill="#fff"/>
<circle cx="802.3" cy="502.6" r="2.6" fill="#fff"/>
<circle cx="808.8" cy="500.4" r="2.6" fill="#fff"/>
<circle cx="815.3" cy="499.8" r="2.6" fill="#fff"/>
<circle cx="821.6" cy="504.3" r="2.6" fill="#fff"/>
<circle cx="827.9" cy="505.5" r="2.6" fill="#fff"/>
<circle cx="834.3" cy="506.9" r="2.6" fill="#fff"/>
<circle cx="840.6" cy="507.9" r="2.6" fill="#fff"/>
<polyline points="348.6,448.8 355.1,451.6 361.5,454.4 368.5,455.8 374.1,456.5 380.5,456.8 387.5,461.4 393.8,467.8 400.9,476.2 406.5,481.8 412.8,507.9 419.1,487.5 425.5,473.1 431.8,472.7 438.8,469.2 444.5,464.2 451.5,459.3 457.1,457.6 463.5,455.8 469.8,474.8 476.4,476.2 482.8,483.0 489.1,481.1 495.4,479.3 501.8,484.4 508.1,481.8 515.1,507.9 521.5,486.0 527.8,513.5 534.1,514.5 540.4,514.9 546.8,514.9 553.1,514.9 559.4,514.5 565.8,486.8 572.8,481.8 579.1,475.5 585.5,476.5 591.8,475.1 597.7,467.1 604.1,453.7 611.1,455.8 617.4,457.2 623.8,456.8 630.8,456.2 636.4,456.5 642.8,456.2 649.1,455.4 655.4,455.4 662.4,455.8 668.8,473.4 675.1,456.8 681.4,458.2 687.8,460.0 694.1,456.8 700.4,456.2 706.8,475.5 713.1,476.9 719.6,514.2 726.0,514.2 732.3,461.4 738.6,472.0 744.9,491.7 751.3,457.9 757.6,513.5 763.9,514.2 770.3,457.2 776.6,466.4 782.9,455.8 789.3,456.5 795.6,454.8 801.9,451.6 808.2,452.3 814.6,453.7 820.9,455.1 827.2,455.4 833.6,457.2 841.5,460.7" fill="none" stroke="#ff9900" stroke-width="2.4" stroke-linejoin="round"/>
</g>
<g clip-path="url(#cK)">
<polyline points="462.0,560.0 468.0,561.5 476.4,562.2 483.5,556.9 489.1,558.7 496.1,569.5 503.2,567.1 508.8,564.3 515.8,568.5 522.9,574.2 529.9,586.1 538.3,597.4 544.7,600.9 551.0,584.7 558.0,569.2 563.7,568.5 572.8,580.5 579.1,586.4 586.2,582.6 596.0,579.8 604.1,578.4 611.1,582.0 617.4,563.9 623.8,572.0 630.8,581.2 636.4,579.1 643.5,567.8 649.1,546.0 655.4,544.6 661.7,539.7 668.8,537.6" fill="none" stroke="#ffffff" stroke-width="1.2" stroke-linejoin="round"/>
<polyline points="694.8,541.0 701.0,560.0 710.0,585.0 718.0,600.0 722.0,590.0 728.0,585.0 738.6,600.0 760.0,604.0" fill="none" stroke="#ffffff" stroke-width="1.2" stroke-linejoin="round"/>
<polyline points="804.0,603.0 820.0,599.0 836.0,590.0 842.0,585.0" fill="none" stroke="#ffffff" stroke-width="1.2" stroke-linejoin="round"/>
<polyline points="496.0,526.3 501.8,526.3 508.8,539.0 515.1,529.1 521.5,538.3 527.8,527.7 533.0,548.0 538.3,573.5 546.8,598.8 552.4,569.2 558.0,527.0 565.0,526.3 592.8,528.4 604.1,588.9 611.1,593.9 618.1,590.3 623.8,587.5 629.4,586.1 636.4,579.8 643.5,585.4 649.1,587.5 655.4,581.2 661.7,584.7 668.8,587.5 674.4,582.6 681.4,584.7 688.5,584.7 694.1,598.0 699.7,602.3 706.8,599.5 712.4,555.2 718.0,536.9" fill="none" stroke="#a8a8a8" stroke-width="1" stroke-linejoin="round"/>
</g>
<g clip-path="url(#mT)">
<line x1="142.5" y1="70.4" x2="142.5" y2="91.9" stroke="#a01818" stroke-width="1"/>
<line x1="150.5" y1="78.2" x2="150.5" y2="99.3" stroke="#a01818" stroke-width="1"/>
<line x1="157.5" y1="87.4" x2="157.5" y2="100.1" stroke="#a01818" stroke-width="1"/>
<line x1="164.5" y1="96.3" x2="164.5" y2="108.3" stroke="#a01818" stroke-width="1"/>
<line x1="170.5" y1="100.9" x2="170.5" y2="110.8" stroke="#a01818" stroke-width="1"/>
<line x1="177.5" y1="102.9" x2="177.5" y2="117.4" stroke="#a01818" stroke-width="1"/>
<line x1="185.5" y1="107.5" x2="185.5" y2="121.5" stroke="#a01818" stroke-width="1"/>
<line x1="191.5" y1="107.5" x2="191.5" y2="123.2" stroke="#a01818" stroke-width="1"/>
<line x1="198.5" y1="108.3" x2="198.5" y2="125.7" stroke="#a01818" stroke-width="1"/>
<line x1="205.5" y1="109.2" x2="205.5" y2="127.3" stroke="#a01818" stroke-width="1"/>
<line x1="213.5" y1="110" x2="213.5" y2="129" stroke="#a01818" stroke-width="1"/>
<line x1="220.5" y1="110" x2="220.5" y2="130.6" stroke="#a01818" stroke-width="1"/>
<line x1="227.5" y1="111.1" x2="227.5" y2="132.2" stroke="#a01818" stroke-width="1"/>
<line x1="234.5" y1="111.1" x2="234.5" y2="132.2" stroke="#a01818" stroke-width="1"/>
<line x1="241.5" y1="105.9" x2="241.5" y2="120.7" stroke="#a01818" stroke-width="1"/>
<polyline points="135.3,99.2 142.1,99.2 150.3,101.7 163.4,106.8 170.3,111.1 176.6,112.6 184.1,113.0 191.6,113.6 199.2,113.6 205.4,113.9 211.7,114.6 219.2,114.9 226.1,115.9 233.0,118.7 239.3,114.3 246.0,111.0" fill="none" stroke="#ff0000" stroke-width="2.6" stroke-linejoin="round"/>
<polyline points="135.3,102.4 142.1,103.4 150.3,106.1 163.4,110.5 170.3,111.8 176.6,113.4 184.1,113.9 191.6,116.2 199.2,117.4 205.4,117.7 211.7,118.7 219.2,116.8 226.1,118.7 233.0,121.8 239.3,117.4 246.0,115.5" fill="none" stroke="#0000ff" stroke-width="2.6" stroke-linejoin="round"/>
<rect x="134.5" y="111.0" width="3" height="3" fill="#6a5ad8"/>
<rect x="141.3" y="111.0" width="3" height="3" fill="#6a5ad8"/>
<rect x="148.2" y="111.5" width="3" height="3" fill="#6a5ad8"/>
<rect x="155.1" y="112.0" width="3" height="3" fill="#6a5ad8"/>
<rect x="162.0" y="112.0" width="3" height="3" fill="#6a5ad8"/>
<rect x="168.9" y="112.5" width="3" height="3" fill="#6a5ad8"/>
<rect x="175.8" y="113.5" width="3" height="3" fill="#6a5ad8"/>
<rect x="182.7" y="114.5" width="3" height="3" fill="#6a5ad8"/>
<rect x="189.6" y="117.5" width="3" height="3" fill="#6a5ad8"/>
<rect x="196.5" y="117.5" width="3" height="3" fill="#6a5ad8"/>
<rect x="203.4" y="116.5" width="3" height="3" fill="#6a5ad8"/>
<rect x="210.3" y="117.5" width="3" height="3" fill="#6a5ad8"/>
<rect x="217.2" y="116.5" width="3" height="3" fill="#6a5ad8"/>
<rect x="224.1" y="118.5" width="3" height="3" fill="#6a5ad8"/>
<rect x="231.0" y="119.5" width="3" height="3" fill="#6a5ad8"/>
<rect x="237.9" y="115.5" width="3" height="3" fill="#6a5ad8"/>
</g>
<g clip-path="url(#mP)">
<line x1="139.5" y1="165.1" x2="139.5" y2="221" stroke="#08a808" stroke-width="1"/>
<line x1="146.5" y1="147.3" x2="146.5" y2="221" stroke="#08a808" stroke-width="1"/>
<line x1="153.5" y1="147.3" x2="153.5" y2="221" stroke="#08a808" stroke-width="1"/>
<line x1="160.5" y1="171.1" x2="160.5" y2="201.8" stroke="#0a2ad8" stroke-width="1"/>
<polyline points="136.0,172.0 142.8,168.0 147.8,161.0 150.3,158.5 156.6,155.4 164.1,153.5 171.6,152.9 184.8,152.9 191.6,149.1 197.9,149.1 204.8,154.8 211.7,155.8 218.0,152.3 225.5,149.5 231.7,151.0 239.3,157.3 246.0,165.5" fill="none" stroke="#e2541c" stroke-width="2.4" stroke-linejoin="round"/>
<rect x="145.0" y="146" width="3" height="3" fill="#ff0000"/>
<rect x="151.9" y="146" width="3" height="3" fill="#ff0000"/>
<circle cx="139.3" cy="173.6" r="2.3" fill="#ffee00" stroke="#884400" stroke-width="0.6"/>
<circle cx="146.5" cy="173.6" r="2.3" fill="#ffa500" stroke="#884400" stroke-width="0.6"/>
<circle cx="153.4" cy="173.6" r="2.3" fill="#ee1111" stroke="#884400" stroke-width="0.6"/>
<line x1="137.8" y1="219.7" x2="140.3" y2="219.7" stroke="#ff0000" stroke-width="1.2"/>
<line x1="145.9" y1="219.7" x2="148.4" y2="219.7" stroke="#ff0000" stroke-width="1.2"/>
<line x1="152.8" y1="219.7" x2="155.3" y2="219.7" stroke="#ff0000" stroke-width="1.2"/>
<line x1="159.7" y1="219.7" x2="162.2" y2="219.7" stroke="#ff0000" stroke-width="1.2"/>
</g>
<g clip-path="url(#mR)">
<polyline points="135.7,260.4 143.1,259.6 149.7,253.8 157.9,248.8 164.5,248.8 170.3,245.1 176.0,247.2 185.9,250.5 191.7,253.8 204.9,253.8 224.7,253.8 232.1,257.1 246.0,264.8" fill="none" stroke="#000" stroke-width="2.4" stroke-linejoin="round"/>
</g>
<g clip-path="url(#mW)">
<polyline points="135.5,366.0 143.5,368.4 148.6,369.5 164.0,372.1 170.1,374.2 178.3,375.2 184.5,375.0 190.6,373.5 197.8,372.1 211.1,372.1 225.4,371.5 232.5,370.5 246.0,370.0" fill="none" stroke="#00008c" stroke-width="2.6" stroke-linejoin="round"/>
<line x1="143.5" y1="340.2" x2="148.6" y2="340.2" stroke="#ff0000" stroke-width="1.1"/>
<line x1="148.6" y1="347.4" x2="160.9" y2="347.4" stroke="#ff0000" stroke-width="1.1"/>
<line x1="162" y1="351.4" x2="169.1" y2="351.4" stroke="#ff0000" stroke-width="1.1"/>
<line x1="170" y1="355.1" x2="176.3" y2="355.1" stroke="#ff0000" stroke-width="1.1"/>
<line x1="176.3" y1="358.6" x2="184.5" y2="358.6" stroke="#ff0000" stroke-width="1.1"/>
<line x1="190.6" y1="351" x2="203.9" y2="351" stroke="#ff0000" stroke-width="1.1"/>
<line x1="203.9" y1="350.4" x2="211.1" y2="350.4" stroke="#ff0000" stroke-width="1.1"/>
<line x1="211.1" y1="351.7" x2="225.4" y2="351.7" stroke="#ff0000" stroke-width="1.1"/>
<line x1="225.4" y1="347.6" x2="232.5" y2="347.6" stroke="#ff0000" stroke-width="1.1"/>
<line x1="232.5" y1="342.9" x2="244.8" y2="342.9" stroke="#ff0000" stroke-width="1.1"/>
</g>
<line x1="134.4" y1="406.3" x2="138.7" y2="417.5" stroke="#0a0aa8" stroke-width="1.8"/>
<polygon points="140.6,422.7 135.2,417.8 141.4,415.4" fill="#0a0aa8"/>
<line x1="141.4" y1="406.3" x2="145.7" y2="417.5" stroke="#0a0aa8" stroke-width="1.8"/>
<polygon points="147.6,422.7 142.2,417.8 148.4,415.4" fill="#0a0aa8"/>
<line x1="148.4" y1="406.3" x2="152.7" y2="417.5" stroke="#0a0aa8" stroke-width="1.8"/>
<polygon points="154.6,422.7 149.2,417.8 155.4,415.4" fill="#0a0aa8"/>
<line x1="155.4" y1="406.3" x2="159.7" y2="417.5" stroke="#0a0aa8" stroke-width="1.8"/>
<polygon points="161.6,422.7 156.2,417.8 162.4,415.4" fill="#0a0aa8"/>
<line x1="162.4" y1="406.3" x2="166.7" y2="417.5" stroke="#0a0aa8" stroke-width="1.8"/>
<polygon points="168.6,422.7 163.2,417.8 169.4,415.4" fill="#0a0aa8"/>
<line x1="169.4" y1="406.3" x2="173.7" y2="417.5" stroke="#0a0aa8" stroke-width="1.8"/>
<polygon points="175.6,422.7 170.2,417.8 176.4,415.4" fill="#0a0aa8"/>
<line x1="176.4" y1="406.3" x2="180.7" y2="417.5" stroke="#0a0aa8" stroke-width="1.8"/>
<polygon points="182.6,422.7 177.2,417.8 183.4,415.4" fill="#0a0aa8"/>
<line x1="183.4" y1="406.3" x2="187.7" y2="417.5" stroke="#0a0aa8" stroke-width="1.8"/>
<polygon points="189.6,422.7 184.2,417.8 190.4,415.4" fill="#0a0aa8"/>
<line x1="190.4" y1="406.3" x2="194.7" y2="417.5" stroke="#0a0aa8" stroke-width="1.8"/>
<polygon points="196.6,422.7 191.2,417.8 197.4,415.4" fill="#0a0aa8"/>
<line x1="197.4" y1="406.3" x2="201.7" y2="417.5" stroke="#0a0aa8" stroke-width="1.8"/>
<polygon points="203.6,422.7 198.2,417.8 204.4,415.4" fill="#0a0aa8"/>
<line x1="204.4" y1="406.3" x2="208.7" y2="417.5" stroke="#0a0aa8" stroke-width="1.8"/>
<polygon points="210.6,422.7 205.2,417.8 211.4,415.4" fill="#0a0aa8"/>
<line x1="211.4" y1="406.3" x2="215.7" y2="417.5" stroke="#0a0aa8" stroke-width="1.8"/>
<polygon points="217.6,422.7 212.2,417.8 218.4,415.4" fill="#0a0aa8"/>
<line x1="218.4" y1="406.3" x2="222.7" y2="417.5" stroke="#0a0aa8" stroke-width="1.8"/>
<polygon points="224.6,422.7 219.2,417.8 225.4,415.4" fill="#0a0aa8"/>
<line x1="225.4" y1="406.3" x2="229.7" y2="417.5" stroke="#0a0aa8" stroke-width="1.8"/>
<polygon points="231.6,422.7 226.2,417.8 232.4,415.4" fill="#0a0aa8"/>
<line x1="232.4" y1="406.3" x2="236.7" y2="417.5" stroke="#0a0aa8" stroke-width="1.8"/>
<polygon points="238.6,422.7 233.2,417.8 239.4,415.4" fill="#0a0aa8"/>
<line x1="239.4" y1="406.3" x2="243.7" y2="417.5" stroke="#0a0aa8" stroke-width="1.8"/>
<polygon points="245.6,422.7 240.2,417.8 246.4,415.4" fill="#0a0aa8"/>
<g clip-path="url(#mC)">
<circle cx="150.3" cy="458.4" r="2.6" fill="#b01e1e"/>
<circle cx="157.3" cy="458.4" r="2.6" fill="#b01e1e"/>
<circle cx="164.3" cy="460.1" r="2.6" fill="#b01e1e"/>
<circle cx="170.3" cy="451.4" r="2.6" fill="#b01e1e"/>
<circle cx="177.3" cy="449.5" r="2.6" fill="#b01e1e"/>
<circle cx="184.3" cy="449.5" r="2.6" fill="#b01e1e"/>
<circle cx="191.3" cy="449.5" r="2.6" fill="#b01e1e"/>
<circle cx="198.2" cy="451.4" r="2.6" fill="#b01e1e"/>
<circle cx="204.4" cy="449.5" r="2.6" fill="#b01e1e"/>
<circle cx="211.4" cy="449.5" r="2.6" fill="#b01e1e"/>
<circle cx="218.4" cy="449.5" r="2.6" fill="#b01e1e"/>
<circle cx="225.3" cy="449.5" r="2.6" fill="#b01e1e"/>
<circle cx="232.3" cy="449.5" r="2.6" fill="#b01e1e"/>
<circle cx="239.3" cy="449.5" r="2.6" fill="#b01e1e"/>
<circle cx="244.7" cy="449.5" r="2.6" fill="#b01e1e"/>
<circle cx="136.5" cy="475.3" r="2.6" fill="#b01e1e"/>
<circle cx="143.3" cy="475.3" r="2.6" fill="#b01e1e"/>
<polyline points="135.5,470.9 142.9,470.9 148.0,466.4 155.0,464.3 164.5,463.5 178.5,463.5 184.9,466.8 195.1,470.9 205.2,471.1 216.7,474.7 225.6,474.7 234.5,472.8 239.6,470.3 246.0,469.6" fill="none" stroke="#ff9900" stroke-width="2.4" stroke-linejoin="round"/>
<circle cx="143.3" cy="481.3" r="2.6" fill="#606060"/>
<circle cx="150.3" cy="492.5" r="2.6" fill="#606060"/>
<circle cx="157.3" cy="492.5" r="2.6" fill="#606060"/>
<circle cx="164.3" cy="492.5" r="2.6" fill="#606060"/>
<circle cx="191.3" cy="489.3" r="2.6" fill="#606060"/>
<circle cx="198.2" cy="468.4" r="2.6" fill="#606060"/>
<circle cx="211.4" cy="481.3" r="2.6" fill="#606060"/>
<circle cx="218.4" cy="489.3" r="2.6" fill="#606060"/>
<circle cx="225.3" cy="492.5" r="2.6" fill="#606060"/>
<circle cx="232.3" cy="494.4" r="2.6" fill="#606060"/>
<circle cx="184.6" cy="500.2" r="2.6" fill="#606060"/>
<circle cx="198.2" cy="485.5" r="2.6" fill="#a0a0a0"/>
<circle cx="211.4" cy="485.5" r="2.6" fill="#a0a0a0"/>
<circle cx="177.3" cy="489.3" r="2.6" fill="#a0a0a0"/>
<circle cx="218.4" cy="492.5" r="2.6" fill="#a0a0a0"/>
<circle cx="239.3" cy="493.8" r="2.6" fill="#a0a0a0"/>
<circle cx="232.3" cy="500.2" r="2.6" fill="#a0a0a0"/>
<circle cx="184.6" cy="504.6" r="2.6" fill="#a0a0a0"/>
<circle cx="143.3" cy="500.2" r="2.6" fill="#a0a0a0"/>
<circle cx="170.3" cy="489.0" r="2.6" fill="#d8d0c8"/>
<circle cx="198.2" cy="489.3" r="2.6" fill="#d8d0c8"/>
<circle cx="211.4" cy="489.3" r="2.6" fill="#d8d0c8"/>
<circle cx="218.4" cy="500.2" r="2.6" fill="#d8d0c8"/>
<circle cx="225.3" cy="500.2" r="2.6" fill="#d8d0c8"/>
<circle cx="239.3" cy="500.2" r="2.6" fill="#d8d0c8"/>
<circle cx="136.5" cy="504.6" r="2.6" fill="#d8d0c8"/>
<circle cx="191.3" cy="492.5" r="2.6" fill="#d8d0c8"/>
<circle cx="170.3" cy="492.5" r="2.6" fill="#fff"/>
<circle cx="177.3" cy="492.5" r="2.6" fill="#fff"/>
<circle cx="198.2" cy="492.5" r="2.6" fill="#fff"/>
<circle cx="204.4" cy="492.5" r="2.6" fill="#fff"/>
<circle cx="211.4" cy="492.5" r="2.6" fill="#fff"/>
<circle cx="164.3" cy="499.5" r="2.6" fill="#fff"/>
<circle cx="150.3" cy="500.2" r="2.6" fill="#fff"/>
<circle cx="191.3" cy="500.2" r="2.6" fill="#fff"/>
<circle cx="143.3" cy="505.2" r="2.6" fill="#fff"/>
<circle cx="136.5" cy="508.4" r="2.6" fill="#fff"/>
<circle cx="184.6" cy="509.7" r="2.6" fill="#fff"/>
<circle cx="218.4" cy="509.7" r="2.6" fill="#fff"/>
<circle cx="225.3" cy="509.7" r="2.6" fill="#fff"/>
<circle cx="232.3" cy="509.7" r="2.6" fill="#fff"/>
<circle cx="239.3" cy="509.7" r="2.6" fill="#fff"/>
<circle cx="191.3" cy="456.6" r="2.6" fill="#000"/>
<circle cx="198.2" cy="464.3" r="2.6" fill="#000"/>
<circle cx="204.4" cy="468.1" r="2.6" fill="#000"/>
<circle cx="211.4" cy="470.0" r="2.6" fill="#000"/>
<circle cx="218.4" cy="481.3" r="2.6" fill="#000"/>
<circle cx="225.3" cy="485.5" r="2.6" fill="#000"/>
<circle cx="232.3" cy="489.3" r="2.6" fill="#000"/>
<circle cx="239.3" cy="481.3" r="2.6" fill="#000"/>
<circle cx="244.7" cy="476.6" r="2.6" fill="#000"/>
<circle cx="184.6" cy="489.3" r="2.6" fill="#000"/>
</g>
<g clip-path="url(#mK)">
<polyline points="165.8,601.4 167.1,588.7 170.9,574.7 176.0,567.7 184.9,563.9" fill="none" stroke="#ffffff" stroke-width="1" stroke-linejoin="round"/>
<polyline points="184.9,601.4 187.4,591.2 191.3,579.8 193.8,573.4" fill="none" stroke="#c8c8c8" stroke-width="1" stroke-linejoin="round"/>
<polyline points="232.0,524.5 235.8,530.2 240.9,539.1 246.0,542.9" fill="none" stroke="#ffffff" stroke-width="1.2" stroke-linejoin="round"/>
<polyline points="135.9,588.7 142.9,596.3 153.1,600.2" fill="none" stroke="#b0b0b0" stroke-width="1" stroke-linejoin="round"/>
<rect x="216.4" y="589.7" width="3.2" height="12" fill="#ffb400"/>
<rect x="223.4" y="589.7" width="3.2" height="12" fill="#ffb400"/>
<rect x="230.4" y="589.7" width="3.2" height="12" fill="#ffb400"/>
<rect x="237.4" y="589.7" width="3.2" height="12" fill="#ffb400"/>
</g>
<rect x="348.5" y="401.5" width="493" height="30" fill="none" stroke="#555" stroke-width="1"/>
<text x="289.5" y="12.7" font-size="12.4" fill="#00008c" textLength="147" lengthAdjust="spacingAndGlyphs">wschód słońca: 07:03 CET</text>
<text x="291" y="25.3" font-size="12.4" fill="#00008c" textLength="144" lengthAdjust="spacingAndGlyphs">zachód słońca: 15:35 CET</text>
<text x="531" y="12.5" font-size="12.4" fill="#00008c" textLength="128.5" lengthAdjust="spacingAndGlyphs">21°28'30"E, 53°53'34"N</text>
<text x="554" y="25" font-size="12.4" fill="#00008c" textLength="82.5" lengthAdjust="spacingAndGlyphs">(x=257,  y=358)</text>
<text x="739" y="12.5" font-size="12.4" fill="#00008c" textLength="158.5" lengthAdjust="spacingAndGlyphs">wysokość (min, środek, max)</text>
<text x="770" y="25.3" font-size="12.4" fill="#00008c" textLength="96.5" lengthAdjust="spacingAndGlyphs">128 - 151 - 178 m</text>
<text x="467.5" y="41.4" font-size="12.5" fill="#000" textLength="54.5" lengthAdjust="spacingAndGlyphs">nie, 16.11</text>
<text x="619.4" y="41.4" font-size="12.5" fill="#000" textLength="59.2" lengthAdjust="spacingAndGlyphs">pon, 17.11</text>
<text x="773" y="41.4" font-size="12.5" fill="#000" textLength="58.4" lengthAdjust="spacingAndGlyphs">wto, 18.11</text>
<text x="361.5" y="54.5" font-size="12.6" fill="#000" text-anchor="middle">16</text>
<text x="400.5" y="54.5" font-size="12.6" fill="#000" text-anchor="middle">22</text>
<text x="438.5" y="54.5" font-size="12.6" fill="#000" text-anchor="middle">04</text>
<text x="476.5" y="54.5" font-size="12.6" fill="#000" text-anchor="middle">10</text>
<text x="515.5" y="54.5" font-size="12.6" fill="#000" text-anchor="middle">16</text>
<text x="553.5" y="54.5" font-size="12.6" fill="#000" text-anchor="middle">22</text>
<text x="591.5" y="54.5" font-size="12.6" fill="#000" text-anchor="middle">04</text>
<text x="630.5" y="54.5" font-size="12.6" fill="#000" text-anchor="middle">10</text>
<text x="668.5" y="54.5" font-size="12.6" fill="#000" text-anchor="middle">16</text>
<text x="706.5" y="54.5" font-size="12.6" fill="#000" text-anchor="middle">22</text>
<text x="745.5" y="54.5" font-size="12.6" fill="#000" text-anchor="middle">04</text>
<text x="783.5" y="54.5" font-size="12.6" fill="#000" text-anchor="middle">10</text>
<text x="821.5" y="54.5" font-size="12.6" fill="#000" text-anchor="middle">16</text>
<text x="305" y="54.5" font-size="12.6" fill="#000" textLength="26" lengthAdjust="spacingAndGlyphs">CET</text>
<text x="860" y="54.5" font-size="12.6" fill="#000" textLength="25" lengthAdjust="spacingAndGlyphs">CET</text>
<text x="361.5" y="616.2" font-size="12.6" fill="#000" text-anchor="middle">15</text>
<text x="400.5" y="616.2" font-size="12.6" fill="#000" text-anchor="middle">21</text>
<text x="438.5" y="616.2" font-size="12.6" fill="#000" text-anchor="middle">03</text>
<text x="476.5" y="616.2" font-size="12.6" fill="#000" text-anchor="middle">09</text>
<text x="515.5" y="616.2" font-size="12.6" fill="#000" text-anchor="middle">15</text>
<text x="553.5" y="616.2" font-size="12.6" fill="#000" text-anchor="middle">21</text>
<text x="591.5" y="616.2" font-size="12.6" fill="#000" text-anchor="middle">03</text>
<text x="630.5" y="616.2" font-size="12.6" fill="#000" text-anchor="middle">09</text>
<text x="668.5" y="616.2" font-size="12.6" fill="#000" text-anchor="middle">15</text>
<text x="706.5" y="616.2" font-size="12.6" fill="#000" text-anchor="middle">21</text>
<text x="745.5" y="616.2" font-size="12.6" fill="#000" text-anchor="middle">03</text>
<text x="783.5" y="616.2" font-size="12.6" fill="#000" text-anchor="middle">09</text>
<text x="821.5" y="616.2" font-size="12.6" fill="#000" text-anchor="middle">15</text>
<text x="306.4" y="616.2" font-size="12.6" fill="#000" textLength="23.8" lengthAdjust="spacingAndGlyphs">UTC</text>
<text x="859.6" y="616.2" font-size="12.6" fill="#000" textLength="23.2" lengthAdjust="spacingAndGlyphs">UTC</text>
<text x="480" y="629.8" font-size="12.6" fill="#000" textLength="30.8" lengthAdjust="spacingAndGlyphs">16.11</text>
<text x="632.4" y="629.8" font-size="12.6" fill="#000" textLength="31.3" lengthAdjust="spacingAndGlyphs">17.11</text>
<text x="786.7" y="629.8" font-size="12.6" fill="#000" textLength="31.3" lengthAdjust="spacingAndGlyphs">18.11</text>
<text x="309.4" y="652.9" font-size="13" fill="#00008c" textLength="107.7" lengthAdjust="spacingAndGlyphs">meteo@icm.edu.pl</text>
<text x="623.2" y="652.2" font-size="13" fill="#00008c" textLength="252.1" lengthAdjust="spacingAndGlyphs">© 2007-2025 ICM, Uniwersytet Warszawski</text>
<text x="344.7" y="72.95" font-size="11.1" fill="#000" text-anchor="end">5</text>
<text x="853.5" y="72.95" font-size="11.1" fill="#000" text-anchor="middle">5</text>
<text x="344.7" y="98.45" font-size="11.1" fill="#000" text-anchor="end">0</text>
<text x="853.5" y="98.45" font-size="11.1" fill="#000" text-anchor="middle">0</text>
<text x="344.7" y="123.95" font-size="11.1" fill="#000" text-anchor="end">-5</text>
<text x="853.5" y="123.95" font-size="11.1" fill="#000" text-anchor="middle">-5</text>
<text x="344.7" y="151.15" font-size="11.1" fill="#000" text-anchor="end">5</text>
<text x="344.7" y="166.15" font-size="11.1" fill="#000" text-anchor="end">4</text>
<text x="344.7" y="180.85" font-size="11.1" fill="#000" text-anchor="end">3</text>
<text x="344.7" y="195.55" font-size="11.1" fill="#000" text-anchor="end">2</text>
<text x="344.7" y="210.35" font-size="11.1" fill="#000" text-anchor="end">1</text>
<text x="344.7" y="225.55" font-size="11.1" fill="#000" text-anchor="end">0</text>
<text x="853.5" y="151.15" font-size="11.1" fill="#e0501a" text-anchor="middle">100</text>
<text x="853.5" y="166.15" font-size="11.1" fill="#e0501a" text-anchor="middle">90</text>
<text x="853.5" y="180.85" font-size="11.1" fill="#e0501a" text-anchor="middle">80</text>
<text x="853.5" y="195.55" font-size="11.1" fill="#e0501a" text-anchor="middle">70</text>
<text x="853.5" y="210.35" font-size="11.1" fill="#e0501a" text-anchor="middle">60</text>
<text x="853.5" y="225.55" font-size="11.1" fill="#e0501a" text-anchor="middle">50</text>
<text x="344.7" y="240.95" font-size="11.1" fill="#000" text-anchor="end">1020</text>
<text x="344.7" y="255.95" font-size="11.1" fill="#000" text-anchor="end">1015</text>
<text x="344.7" y="271.95" font-size="11.1" fill="#000" text-anchor="end">1010</text>
<text x="344.7" y="287.55" font-size="11.1" fill="#000" text-anchor="end">1005</text>
<text x="344.7" y="303.35" font-size="11.1" fill="#000" text-anchor="end">1000</text>
<text x="853.5" y="240.95" font-size="11.1" fill="#000" text-anchor="middle">765</text>
<text x="853.5" y="255.95" font-size="11.1" fill="#000" text-anchor="middle">761</text>
<text x="853.5" y="271.95" font-size="11.1" fill="#000" text-anchor="middle">758</text>
<text x="853.5" y="287.55" font-size="11.1" fill="#000" text-anchor="middle">754</text>
<text x="853.5" y="303.35" font-size="11.1" fill="#000" text-anchor="middle">750</text>
<text x="344.7" y="323.25" font-size="11.1" fill="#000" text-anchor="end">20</text>
<text x="344.7" y="342.35" font-size="11.1" fill="#000" text-anchor="end">15</text>
<text x="344.7" y="360.95" font-size="11.1" fill="#000" text-anchor="end">10</text>
<text x="344.7" y="379.75" font-size="11.1" fill="#000" text-anchor="end">5</text>
<text x="344.7" y="398.55" font-size="11.1" fill="#000" text-anchor="end">0</text>
<text x="850.4" y="323.25" font-size="11.1" fill="#000" text-anchor="middle">72</text>
<text x="850.4" y="342.35" font-size="11.1" fill="#000" text-anchor="middle">54</text>
<text x="850.4" y="360.95" font-size="11.1" fill="#000" text-anchor="middle">36</text>
<text x="850.4" y="379.75" font-size="11.1" fill="#000" text-anchor="middle">18</text>
<text x="850.4" y="398.55" font-size="11.1" fill="#000" text-anchor="middle">0</text>
<text x="344.7" y="442.25" font-size="11.1" fill="#000" text-anchor="end">15.0</text>
<text x="344.7" y="461.95" font-size="11.1" fill="#000" text-anchor="end">7.0</text>
<text x="344.7" y="481.15" font-size="11.1" fill="#000" text-anchor="end">2.0</text>
<text x="344.7" y="500.95" font-size="11.1" fill="#000" text-anchor="end">0.5</text>
<text x="344.7" y="520.15" font-size="11.1" fill="#000" text-anchor="end">0.0</text>
<text x="844.6" y="442.25" font-size="11.1" fill="#ff8800">100</text>
<text x="844.6" y="461.95" font-size="11.1" fill="#ff8800">20</text>
<text x="844.6" y="481.15" font-size="11.1" fill="#ff8800">5</text>
<text x="844.6" y="500.95" font-size="11.1" fill="#ff8800">1</text>
<text x="844.6" y="520.15" font-size="11.1" fill="#ff8800">0</text>
<text x="344.7" y="530.15" font-size="11.1" fill="#000" text-anchor="end">8</text>
<text x="344.7" y="549.45" font-size="11.1" fill="#000" text-anchor="end">6</text>
<text x="344.7" y="568.95" font-size="11.1" fill="#000" text-anchor="end">4</text>
<text x="344.7" y="587.95" font-size="11.1" fill="#000" text-anchor="end">2</text>
<text x="344.7" y="607.75" font-size="11.1" fill="#000" text-anchor="end">0</text>
<text x="845" y="530.15" font-size="11.1" fill="#ff8800">1</text>
<text x="845" y="549.35" font-size="11.1" fill="#ff8800">0.75</text>
<text x="845" y="568.95" font-size="11.1" fill="#ff8800">0.5</text>
<text x="845" y="587.95" font-size="11.1" fill="#ff8800">0.25</text>
<text x="845" y="607.75" font-size="11.1" fill="#ff8800">0</text>
<text x="0" y="0" font-size="12.4" fill="#00008c" text-anchor="middle" textLength="66.9" lengthAdjust="spacingAndGlyphs" transform="translate(293.4 96.45) rotate(-90)">temperatura</text>
<text x="0" y="0" font-size="12.4" fill="#00008c" text-anchor="middle" textLength="20.7" lengthAdjust="spacingAndGlyphs" transform="translate(306.4 96.65) rotate(-90)">(°C)</text>
<text x="0" y="0" font-size="12.4" fill="#00008c" text-anchor="middle" textLength="27.3" lengthAdjust="spacingAndGlyphs" transform="translate(293.4 184.65) rotate(-90)">opad</text>
<text x="0" y="0" font-size="12.4" fill="#00008c" text-anchor="middle" textLength="85.9" lengthAdjust="spacingAndGlyphs" transform="translate(306.4 185.15) rotate(-90)">(mm/h, kg/m²/h)</text>
<text x="0" y="0" font-size="12.4" fill="#00008c" text-anchor="middle" textLength="49" lengthAdjust="spacingAndGlyphs" transform="translate(293.4 272.7) rotate(-90)">ciśnienie</text>
<text x="0" y="0" font-size="12.4" fill="#00008c" text-anchor="middle" textLength="29" lengthAdjust="spacingAndGlyphs" transform="translate(306.4 272.7) rotate(-90)">(hPa)</text>
<text x="0" y="0" font-size="12.4" fill="#00008c" text-anchor="middle" textLength="25.8" lengthAdjust="spacingAndGlyphs" transform="translate(293.4 361.5) rotate(-90)">wiatr</text>
<text x="0" y="0" font-size="12.4" fill="#00008c" text-anchor="middle" textLength="27.3" lengthAdjust="spacingAndGlyphs" transform="translate(306.4 361.55) rotate(-90)">(m/s)</text>
<text x="0" y="0" font-size="12.4" fill="#00008c" text-anchor="middle" textLength="103.9" lengthAdjust="spacingAndGlyphs" transform="translate(293.4 474.75) rotate(-90)">pion. rozciągł. chm.</text>
<text x="0" y="0" font-size="12.4" fill="#00008c" text-anchor="middle" textLength="23.5" lengthAdjust="spacingAndGlyphs" transform="translate(306.4 474.55) rotate(-90)">(km)</text>
<text x="0" y="0" font-size="12.4" fill="#00008c" text-anchor="middle" textLength="75.6" lengthAdjust="spacingAndGlyphs" transform="translate(293.4 571.9) rotate(-90)">zachmurzenie</text>
<text x="0" y="0" font-size="12.4" fill="#00008c" text-anchor="middle" textLength="45.1" lengthAdjust="spacingAndGlyphs" transform="translate(306.4 562.85) rotate(-90)">(oktanty)</text>
<text x="0" y="0" font-size="12.4" fill="#00008c" text-anchor="middle" textLength="66.9" lengthAdjust="spacingAndGlyphs" transform="translate(906.4 96.45) rotate(-90)">temperatura</text>
<text x="0" y="0" font-size="12.4" fill="#00008c" text-anchor="middle" textLength="20.7" lengthAdjust="spacingAndGlyphs" transform="translate(893.8 96.65) rotate(-90)">(°C)</text>
<text x="0" y="0" font-size="12.4" fill="#00008c" text-anchor="middle" textLength="89.4" lengthAdjust="spacingAndGlyphs" transform="translate(906.4 185.4) rotate(-90)">wilgotność wzgl.</text>
<text x="0" y="0" font-size="12.4" fill="#00008c" text-anchor="middle" textLength="19" lengthAdjust="spacingAndGlyphs" transform="translate(893.8 185) rotate(-90)">(%)</text>
<text x="0" y="0" font-size="12.4" fill="#00008c" text-anchor="middle" textLength="49" lengthAdjust="spacingAndGlyphs" transform="translate(906.4 272.7) rotate(-90)">ciśnienie</text>
<text x="0" y="0" font-size="12.4" fill="#00008c" text-anchor="middle" textLength="48.5" lengthAdjust="spacingAndGlyphs" transform="translate(893.8 273) rotate(-90)">(mm Hg)</text>
<text x="0" y="0" font-size="12.4" fill="#00008c" text-anchor="middle" textLength="25.8" lengthAdjust="spacingAndGlyphs" transform="translate(906.4 360.7) rotate(-90)">wiatr</text>
<text x="0" y="0" font-size="12.4" fill="#00008c" text-anchor="middle" textLength="33.8" lengthAdjust="spacingAndGlyphs" transform="translate(893.8 361.7) rotate(-90)">(km/h)</text>
<text x="0" y="0" font-size="12.4" fill="#00008c" text-anchor="middle" textLength="63.8" lengthAdjust="spacingAndGlyphs" transform="translate(906.4 475) rotate(-90)">widzialność</text>
<text x="0" y="0" font-size="12.4" fill="#00008c" text-anchor="middle" textLength="23.8" lengthAdjust="spacingAndGlyphs" transform="translate(893.8 474.4) rotate(-90)">(km)</text>
<text x="0" y="0" font-size="12.4" fill="#00008c" text-anchor="middle" textLength="27.4" lengthAdjust="spacingAndGlyphs" transform="translate(906.4 562.3) rotate(-90)">mgła</text>
<text x="0" y="0" font-size="12.4" fill="#00008c" text-anchor="middle" textLength="43.2" lengthAdjust="spacingAndGlyphs" transform="translate(893.8 561.7) rotate(-90)">(frakcja)</text>
<text x="283.79999999999995" y="419.6" font-size="11.8" fill="#00008c">W</text>
<text x="294.09999999999997" y="411.1" font-size="11.8" fill="#00008c">N</text>
<text x="301.09999999999997" y="419.6" font-size="11.8" fill="#00008c">E</text>
<text x="294.29999999999995" y="427.9" font-size="11.8" fill="#00008c">S</text>
<text x="882.9" y="419.6" font-size="11.8" fill="#00008c">W</text>
<text x="893.2" y="411.1" font-size="11.8" fill="#00008c">N</text>
<text x="900.2" y="419.6" font-size="11.8" fill="#00008c">E</text>
<text x="893.4" y="427.9" font-size="11.8" fill="#00008c">S</text>
<text x="5.7" y="18.2" font-size="10.6" fill="#000" textLength="59.8" lengthAdjust="spacingAndGlyphs">Czas lokalny</text>
<text x="5.7" y="28.9" font-size="9.8" fill="#000" textLength="54.8" lengthAdjust="spacing">(CET/CEST)</text>
<text x="6.2" y="45.8" font-size="10.6" fill="#a81c1c" textLength="93.6" lengthAdjust="spacingAndGlyphs">Temperatura gruntu</text>
<text x="27.7" y="55.1" font-size="10.6" fill="#a81c1c" textLength="38.89999999999999" lengthAdjust="spacingAndGlyphs">max/min</text>
<text x="5.4" y="67.3" font-size="10.6" fill="#000" textLength="62.199999999999996" lengthAdjust="spacingAndGlyphs">Temperatura:</text>
<text x="12.6" y="79.6" font-size="11.2" fill="#ff0000" textLength="77.9" lengthAdjust="spacingAndGlyphs">punkt środkowy</text>
<text x="27.7" y="89.6" font-size="10.6" fill="#ffd0c0" textLength="38.89999999999999" lengthAdjust="spacingAndGlyphs">max/min</text>
<text x="9.5" y="101.2" font-size="11.2" fill="#0000ff" textLength="58.099999999999994" lengthAdjust="spacingAndGlyphs">odczuwana</text>
<text x="27.7" y="111.6" font-size="10.6" fill="#b0dcf6" textLength="38.89999999999999" lengthAdjust="spacingAndGlyphs">max/min</text>
<text x="6.2" y="123.2" font-size="10.6" fill="#6a5acd" textLength="87.3" lengthAdjust="spacingAndGlyphs">Temp. punktu rosy</text>
<text x="5.8" y="140.8" font-size="11" fill="#ff0000" textLength="94.8" lengthAdjust="spacingAndGlyphs">Opad powyżej skali</text>
<text x="5.8" y="154" font-size="10.6" fill="#e2541c" textLength="97.5" lengthAdjust="spacingAndGlyphs">Wilgotność względna</text>
<text x="5.8" y="168.4" font-size="10.6" fill="#000" textLength="85.3" lengthAdjust="spacingAndGlyphs">Wystąpienie burzy</text>
<text x="5.8" y="182.3" font-size="10.6" fill="#11aa11" textLength="40.6" lengthAdjust="spacingAndGlyphs">Deszcz:</text>
<text x="50" y="182.3" font-size="10.6" fill="#11aa11" textLength="19.400000000000006" lengthAdjust="spacingAndGlyphs">max</text>
<text x="49" y="193.1" font-size="10.6" fill="#11aa11" textLength="29.400000000000006" lengthAdjust="spacingAndGlyphs">średni</text>
<text x="5.8" y="205" font-size="10.6" fill="#2244cc" textLength="30.599999999999998" lengthAdjust="spacingAndGlyphs">Śnieg:</text>
<text x="49" y="205" font-size="10.6" fill="#2244cc" textLength="19.400000000000006" lengthAdjust="spacingAndGlyphs">max</text>
<text x="49" y="215.8" font-size="10.6" fill="#2244cc" textLength="29.400000000000006" lengthAdjust="spacingAndGlyphs">średni</text>
<text x="5.8" y="227.6" font-size="10.6" fill="#ff0000" textLength="88.60000000000001" lengthAdjust="spacingAndGlyphs">Wystąpienie opadu</text>
<text x="5.8" y="239.8" font-size="10.6" fill="#ff0000" textLength="71.60000000000001" lengthAdjust="spacingAndGlyphs">konwekcyjnego</text>
<text x="4.8" y="266.6" font-size="10.6" fill="#000" textLength="42.800000000000004" lengthAdjust="spacingAndGlyphs">Ciśnienie</text>
<text x="4.8" y="279.5" font-size="10.6" fill="#000" textLength="66.60000000000001" lengthAdjust="spacingAndGlyphs">zredukowane</text>
<text x="4.8" y="292.8" font-size="10.6" fill="#000" textLength="87.60000000000001" lengthAdjust="spacingAndGlyphs">do poziomu morza</text>
<text x="4.8" y="321.9" font-size="10.6" fill="#000" textLength="67.60000000000001" lengthAdjust="spacingAndGlyphs">Wiatr na 10m:</text>
<text x="9.7" y="336.9" font-size="11.2" fill="#ff0000" textLength="100.89999999999999" lengthAdjust="spacingAndGlyphs">poryw powyżej skali</text>
<text x="9.7" y="351" font-size="11.2" fill="#ff0000" textLength="94.8" lengthAdjust="spacingAndGlyphs">max porywy wiatru</text>
<text x="9.7" y="370.8" font-size="11.2" fill="#1a1a99" textLength="78.39999999999999" lengthAdjust="spacingAndGlyphs">prędkość wiatru</text>
<text x="9.7" y="383.6" font-size="11.2" fill="#1a1a99" textLength="89.2" lengthAdjust="spacingAndGlyphs">w środku obszaru</text>
<text x="9.6" y="412.4" font-size="11" fill="#1a1a99" textLength="74.10000000000001" lengthAdjust="spacingAndGlyphs">kierunek wiatru</text>
<text x="5.7" y="432.5" font-size="10.6" fill="#b02020" textLength="91.3" lengthAdjust="spacingAndGlyphs">Wierzchołek chmur</text>
<text x="5.7" y="447.2" font-size="10.6" fill="#000" textLength="85.7" lengthAdjust="spacingAndGlyphs">Podstawa chmur*</text>
<text x="5.7" y="458" font-size="10.6" fill="#000" textLength="48.699999999999996" lengthAdjust="spacingAndGlyphs">o pokryciu</text>
<text x="10.6" y="471.3" font-size="10.6" fill="#000" textLength="44.0" lengthAdjust="spacingAndGlyphs">&gt; 7.9 okt.</text>
<text x="10.6" y="482" font-size="10.6" fill="#505050" textLength="44.0" lengthAdjust="spacingAndGlyphs">&gt; 6.5 okt.</text>
<text x="10.6" y="492.8" font-size="10.6" fill="#909090" textLength="44.0" lengthAdjust="spacingAndGlyphs">&gt; 4.5 okt.</text>
<text x="10.6" y="503" font-size="10.6" fill="#d4d4d4" textLength="44.0" lengthAdjust="spacingAndGlyphs">&gt; 2.5 okt.</text>
<rect x="10.6" y="505.1" width="44.3" height="11.1" fill="#80c8f0"/>
<text x="10.6" y="514.3" font-size="10.6" fill="#ffffff" textLength="44.0" lengthAdjust="spacingAndGlyphs">&gt; 0.1 okt.</text>
<text x="5.7" y="529" font-size="10.6" fill="#ff8800" textLength="57.3" lengthAdjust="spacingAndGlyphs">Widzialność</text>
<text x="5.7" y="547" font-size="10.6" fill="#000" textLength="39.199999999999996" lengthAdjust="spacingAndGlyphs">Chmury:</text>
<rect x="10.2" y="550.8" width="40.7" height="11.6" fill="#80c8f0"/>
<text x="10.2" y="560.3" font-size="10.6" fill="#ffffff" textLength="40.7" lengthAdjust="spacingAndGlyphs">wysokie</text>
<text x="10.2" y="572.6" font-size="10.6" fill="#a0a0a0" textLength="35.7" lengthAdjust="spacingAndGlyphs">średnie</text>
<text x="10.2" y="584.3" font-size="10.6" fill="#404040" textLength="26.7" lengthAdjust="spacingAndGlyphs">niskie</text>
<text x="10.2" y="596" font-size="10.6" fill="#303030" textLength="61.2" lengthAdjust="spacingAndGlyphs">bardzo niskie</text>
<text x="5.7" y="608.7" font-size="10.6" fill="#ffb000" textLength="20.7" lengthAdjust="spacingAndGlyphs">Mgła</text>
<text x="5.7" y="625.6" font-size="11.2" fill="#000" textLength="131.70000000000002" lengthAdjust="spacing">Czas uniwersalny (UTC)</text>
<text x="5.7" y="650.5" font-size="9" fill="#000">*</text>
<text x="11" y="650.5" font-size="9.2" fill="#000" textLength="97" lengthAdjust="spacingAndGlyphs" font-weight="bold">powyżej poziomu morza</text>
<polyline points="68.3,16.5 133.5,16.5 155.5,45.5" fill="none" stroke="#000" stroke-width="1" stroke-linejoin="round"/>
<polyline points="102.4,44.5 119.8,44.5 149.4,83.8" fill="none" stroke="#a81c1c" stroke-width="1" stroke-linejoin="round"/>
<polyline points="92.6,76.5 114.5,76.5" fill="none" stroke="#ff0000" stroke-width="1" stroke-linejoin="round"/>
<polyline points="130.5,76.5 132.7,76.5 160.0,108.0" fill="none" stroke="#ff0000" stroke-width="1" stroke-linejoin="round"/>
<polyline points="69.8,99.5 131.4,99.5 136.7,101.7" fill="none" stroke="#0000ff" stroke-width="1" stroke-linejoin="round"/>
<polyline points="95.5,120.5 131.4,120.5 142.0,112.8" fill="none" stroke="#6a5acd" stroke-width="1" stroke-linejoin="round"/>
<polyline points="103.0,137.5 140.9,137.5 145.7,147.0" fill="none" stroke="#ff0000" stroke-width="1" stroke-linejoin="round"/>
<polyline points="106.5,151.5 112.5,151.5" fill="none" stroke="#e2541c" stroke-width="1" stroke-linejoin="round"/>
<polyline points="130.1,151.2 146.0,160.0" fill="none" stroke="#e2541c" stroke-width="1" stroke-linejoin="round"/>
<polyline points="94.0,166.5 112.0,166.5" fill="none" stroke="#000" stroke-width="1" stroke-linejoin="round"/>
<polyline points="129.0,166.5 131.0,166.5 139.0,172.0" fill="none" stroke="#000" stroke-width="1" stroke-linejoin="round"/>
<polyline points="71.0,179.5 140.0,179.5" fill="none" stroke="#11aa11" stroke-width="1" stroke-linejoin="round"/>
<polyline points="80.0,190.5 136.0,190.5" fill="none" stroke="#11aa11" stroke-width="1" stroke-linejoin="round"/>
<polyline points="70.0,202.5 112.0,202.5" fill="none" stroke="#2244cc" stroke-width="1" stroke-linejoin="round"/>
<polyline points="129.0,202.5 131.0,202.5 160.5,171.0" fill="none" stroke="#2244cc" stroke-width="1" stroke-linejoin="round"/>
<polyline points="81.0,213.5 131.0,213.5 160.0,184.0" fill="none" stroke="#2244cc" stroke-width="1" stroke-linejoin="round"/>
<polyline points="97.0,225.5 143.0,225.5 148.0,220.5" fill="none" stroke="#ff0000" stroke-width="1" stroke-linejoin="round"/>
<polyline points="52.0,264.5 132.0,264.5 136.0,261.0" fill="none" stroke="#000" stroke-width="1" stroke-linejoin="round"/>
<polyline points="112.0,336.5 118.0,336.5" fill="none" stroke="#ff0000" stroke-width="1" stroke-linejoin="round"/>
<polyline points="129.0,336.0 131.0,332.0 136.5,318.0" fill="none" stroke="#ff0000" stroke-width="1" stroke-linejoin="round"/>
<polyline points="107.0,348.5 130.0,348.5 143.5,340.2" fill="none" stroke="#ff0000" stroke-width="1" stroke-linejoin="round"/>
<polyline points="92.0,366.5 136.0,366.5" fill="none" stroke="#1a1a99" stroke-width="1" stroke-linejoin="round"/>
<polyline points="86.0,410.0 136.0,410.0" fill="none" stroke="#1a1a99" stroke-width="1" stroke-linejoin="round"/>
<polyline points="99.0,430.0 136.0,430.0 184.0,446.0" fill="none" stroke="#a81c1c" stroke-width="1" stroke-linejoin="round"/>
<polyline points="58.0,468.5 136.0,468.5 191.0,456.6" fill="none" stroke="#000" stroke-width="1" stroke-linejoin="round"/>
<polyline points="58.0,480.5 136.0,480.5" fill="none" stroke="#505050" stroke-width="1" stroke-linejoin="round"/>
<polyline points="58.0,490.5 130.0,490.5 136.0,493.0" fill="none" stroke="#909090" stroke-width="1" stroke-linejoin="round"/>
<polyline points="58.0,500.5 130.0,500.5 136.0,504.0" fill="none" stroke="#d4d4d4" stroke-width="1" stroke-linejoin="round"/>
<polyline points="58.0,510.5 136.0,510.5" fill="none" stroke="#ffffff" stroke-width="1" stroke-linejoin="round"/>
<polyline points="58.0,512.0 136.0,512.0" fill="none" stroke="#9fd8f4" stroke-width="1" stroke-linejoin="round"/>
<polyline points="67.0,526.5 125.0,526.5 173.0,464.0" fill="none" stroke="#ff8800" stroke-width="1" stroke-linejoin="round"/>
<polyline points="54.0,557.0 186.0,557.0" fill="none" stroke="#ffffff" stroke-width="1" stroke-linejoin="round"/>
<polyline points="54.0,558.5 186.0,558.5" fill="none" stroke="#9fd8f4" stroke-width="1" stroke-linejoin="round"/>
<polyline points="49.0,571.0 191.0,571.0" fill="none" stroke="#a0a0a0" stroke-width="1" stroke-linejoin="round"/>
<polyline points="40.0,582.5 120.0,582.5" fill="none" stroke="#404040" stroke-width="1" stroke-linejoin="round"/>
<polyline points="129.0,582.5 136.0,582.5" fill="none" stroke="#404040" stroke-width="1" stroke-linejoin="round"/>
<polyline points="74.0,594.5 136.0,594.5" fill="none" stroke="#303030" stroke-width="1" stroke-linejoin="round"/>
<polyline points="30.0,605.5 217.0,605.5 219.5,601.0" fill="none" stroke="#ffb000" stroke-width="1" stroke-linejoin="round"/>
<polyline points="139.0,623.5 148.5,623.5 157.0,611.0" fill="none" stroke="#000" stroke-width="1" stroke-linejoin="round"/>
<text x="128.5" y="63" font-size="11" fill="#000" text-anchor="end">30</text>
<text x="254.5" y="63" font-size="11" fill="#000">30</text>
<text x="128.5" y="81" font-size="11" fill="#000" text-anchor="end">20</text>
<text x="254.5" y="81" font-size="11" fill="#000">20</text>
<text x="128.5" y="98" font-size="11" fill="#000" text-anchor="end">10</text>
<text x="254.5" y="98" font-size="11" fill="#000">10</text>
<text x="128.5" y="115" font-size="11" fill="#000" text-anchor="end">0</text>
<text x="254.5" y="115" font-size="11" fill="#000">0</text>
<text x="128.5" y="133" font-size="11" fill="#000" text-anchor="end">-10</text>
<text x="248" y="133" font-size="11" fill="#000">-10</text>
<text x="128.5" y="154.5" font-size="11" fill="#000" text-anchor="end">2.0</text>
<text x="128.5" y="172" font-size="11" fill="#000" text-anchor="end">1.5</text>
<text x="128.5" y="189.5" font-size="11" fill="#000" text-anchor="end">1.0</text>
<text x="128.5" y="207" font-size="11" fill="#000" text-anchor="end">0.5</text>
<text x="128.5" y="224" font-size="11" fill="#000" text-anchor="end">0.0</text>
<text x="254.5" y="154.5" font-size="11" fill="#e2541c">96</text>
<text x="254.5" y="172" font-size="11" fill="#e2541c">84</text>
<text x="254.5" y="189.5" font-size="11" fill="#e2541c">73</text>
<text x="254.5" y="207" font-size="11" fill="#e2541c">61</text>
<text x="254.5" y="224" font-size="11" fill="#e2541c">50</text>
<text x="128.5" y="235" font-size="11" fill="#000" text-anchor="end">1018</text>
<text x="251" y="235" font-size="11" fill="#000">1018</text>
<text x="128.5" y="258.3" font-size="11" fill="#000" text-anchor="end">1016</text>
<text x="251" y="258.3" font-size="11" fill="#000">1016</text>
<text x="128.5" y="282" font-size="11" fill="#000" text-anchor="end">1014</text>
<text x="251" y="282" font-size="11" fill="#000">1014</text>
<text x="128.5" y="305" font-size="11" fill="#000" text-anchor="end">1012</text>
<text x="251" y="305" font-size="11" fill="#000">1012</text>
<text x="128.5" y="320" font-size="11" fill="#000" text-anchor="end">20</text>
<text x="128.5" y="338.7" font-size="11" fill="#000" text-anchor="end">15</text>
<text x="128.5" y="358" font-size="11" fill="#000" text-anchor="end">10</text>
<text x="128.5" y="376.5" font-size="11" fill="#000" text-anchor="end">5</text>
<text x="128.5" y="396" font-size="11" fill="#000" text-anchor="end">0</text>
<text x="254.5" y="320" font-size="11" fill="#000">72</text>
<text x="254.5" y="338.7" font-size="11" fill="#000">54</text>
<text x="254.5" y="358" font-size="11" fill="#000">36</text>
<text x="254.5" y="376.5" font-size="11" fill="#000">18</text>
<text x="254.5" y="396" font-size="11" fill="#000">0</text>
<text x="128.5" y="440.5" font-size="11" fill="#000" text-anchor="end">15.0</text>
<text x="128.5" y="460" font-size="11" fill="#000" text-anchor="end">7.0</text>
<text x="128.5" y="479.3" font-size="11" fill="#000" text-anchor="end">2.0</text>
<text x="128.5" y="499.5" font-size="11" fill="#000" text-anchor="end">0.5</text>
<text x="128.5" y="518" font-size="11" fill="#000" text-anchor="end">0.0</text>
<text x="252" y="440.5" font-size="11" fill="#ff8800">100</text>
<text x="252" y="460" font-size="11" fill="#ff8800">20</text>
<text x="252" y="479.3" font-size="11" fill="#ff8800">5</text>
<text x="252" y="499.5" font-size="11" fill="#ff8800">1</text>
<text x="252" y="518" font-size="11" fill="#ff8800">0</text>
<text x="128.5" y="527.5" font-size="11" fill="#000" text-anchor="end">8</text>
<text x="128.5" y="547" font-size="11" fill="#000" text-anchor="end">6</text>
<text x="128.5" y="566" font-size="11" fill="#000" text-anchor="end">4</text>
<text x="128.5" y="586" font-size="11" fill="#000" text-anchor="end">2</text>
<text x="128.5" y="605" font-size="11" fill="#000" text-anchor="end">0</text>
<text x="252" y="527.5" font-size="11" fill="#ff8800">1</text>
<text x="252" y="547" font-size="11" fill="#ff8800">0.75</text>
<text x="252" y="566" font-size="11" fill="#ff8800">0.5</text>
<text x="252" y="586" font-size="11" fill="#ff8800">0.25</text>
<text x="252" y="605" font-size="11" fill="#ff8800">0</text>
<text x="163.8" y="51.4" font-size="11.5" fill="#000" text-anchor="middle">20</text>
<text x="203.8" y="51.4" font-size="11.5" fill="#000" text-anchor="middle">02</text>
<text x="244.4" y="51.4" font-size="11.5" fill="#000" text-anchor="middle">08</text>
<text x="164" y="614.3" font-size="11.5" fill="#000" text-anchor="middle">18</text>
<text x="203.8" y="614.3" font-size="11.5" fill="#000" text-anchor="middle">00</text>
<text x="244.4" y="614.3" font-size="11.5" fill="#000" text-anchor="middle">06</text>
</svg></body></html>
